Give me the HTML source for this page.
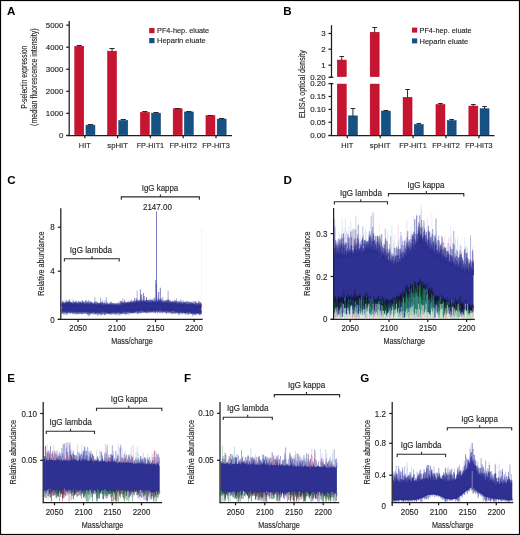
<!DOCTYPE html>
<html><head><meta charset="utf-8"><style>
html,body{margin:0;padding:0;background:#fff;}
svg{display:block;will-change:transform;font-family:"Liberation Sans",sans-serif;}
</style></head><body>
<svg width="520" height="535" viewBox="0 0 520 535">
<rect x="0" y="0" width="520" height="535" fill="#fff"/>
<text x="7.0" y="15.3" font-size="11.6" font-weight="bold" fill="#000">A</text>
<line x1="69.20" y1="21.00" x2="69.20" y2="136.00" stroke="#1e1e1e" stroke-width="1.25"/>
<line x1="66.20" y1="135.40" x2="69.20" y2="135.40" stroke="#1e1e1e" stroke-width="1.25"/>
<text x="63.3" y="138.20000000000002" font-size="7.9" text-anchor="end" fill="#262626" stroke="#262626" stroke-width="0.14">0</text>
<line x1="66.20" y1="113.35" x2="69.20" y2="113.35" stroke="#1e1e1e" stroke-width="1.25"/>
<text x="63.3" y="116.15" font-size="7.9" text-anchor="end" textLength="17.5" lengthAdjust="spacingAndGlyphs" fill="#262626" stroke="#262626" stroke-width="0.14">1000</text>
<line x1="66.20" y1="91.30" x2="69.20" y2="91.30" stroke="#1e1e1e" stroke-width="1.25"/>
<text x="63.3" y="94.10000000000001" font-size="7.9" text-anchor="end" textLength="17.5" lengthAdjust="spacingAndGlyphs" fill="#262626" stroke="#262626" stroke-width="0.14">2000</text>
<line x1="66.20" y1="69.25" x2="69.20" y2="69.25" stroke="#1e1e1e" stroke-width="1.25"/>
<text x="63.3" y="72.05" font-size="7.9" text-anchor="end" textLength="17.5" lengthAdjust="spacingAndGlyphs" fill="#262626" stroke="#262626" stroke-width="0.14">3000</text>
<line x1="66.20" y1="47.20" x2="69.20" y2="47.20" stroke="#1e1e1e" stroke-width="1.25"/>
<text x="63.3" y="50.0" font-size="7.9" text-anchor="end" textLength="17.5" lengthAdjust="spacingAndGlyphs" fill="#262626" stroke="#262626" stroke-width="0.14">4000</text>
<line x1="66.20" y1="25.15" x2="69.20" y2="25.15" stroke="#1e1e1e" stroke-width="1.25"/>
<text x="63.3" y="27.950000000000006" font-size="7.9" text-anchor="end" textLength="17.5" lengthAdjust="spacingAndGlyphs" fill="#262626" stroke="#262626" stroke-width="0.14">5000</text>
<line x1="66.20" y1="135.50" x2="232.00" y2="135.50" stroke="#1e1e1e" stroke-width="1.25"/>
<rect x="74.75" y="46.25" width="9.00" height="88.50" fill="#c61530" stroke="#b8001c" stroke-width="0.5"/>
<rect x="85.95" y="125.15" width="9.00" height="9.60" fill="#165184" stroke="#063f72" stroke-width="0.5"/>
<path d="M76.65 45.50H81.85M79.25 45.50V46.50" stroke="#2a2a2a" stroke-width="1" fill="none"/>
<path d="M87.85 124.50H93.05M90.45 124.50V125.40" stroke="#2a2a2a" stroke-width="1" fill="none"/>
<line x1="84.80" y1="135.50" x2="84.80" y2="138.20" stroke="#1e1e1e" stroke-width="1.25"/>
<text x="84.8" y="147.8" font-size="8" text-anchor="middle" textLength="11.9" lengthAdjust="spacingAndGlyphs" fill="#262626" stroke="#262626" stroke-width="0.14">HIT</text>
<rect x="107.55" y="51.15" width="9.00" height="83.60" fill="#c61530" stroke="#b8001c" stroke-width="0.5"/>
<rect x="118.75" y="120.45" width="9.00" height="14.30" fill="#165184" stroke="#063f72" stroke-width="0.5"/>
<path d="M109.45 48.50H114.65M112.05 48.50V51.40" stroke="#2a2a2a" stroke-width="1" fill="none"/>
<path d="M120.65 119.50H125.85M123.25 119.50V120.70" stroke="#2a2a2a" stroke-width="1" fill="none"/>
<line x1="117.60" y1="135.50" x2="117.60" y2="138.20" stroke="#1e1e1e" stroke-width="1.25"/>
<text x="117.6" y="147.8" font-size="8" text-anchor="middle" textLength="20.7" lengthAdjust="spacingAndGlyphs" fill="#262626" stroke="#262626" stroke-width="0.14">spHIT</text>
<rect x="140.35" y="112.35" width="9.00" height="22.40" fill="#c61530" stroke="#b8001c" stroke-width="0.5"/>
<rect x="151.55" y="113.15" width="9.00" height="21.60" fill="#165184" stroke="#063f72" stroke-width="0.5"/>
<path d="M142.25 111.50H147.45M144.85 111.50V112.60" stroke="#2a2a2a" stroke-width="1" fill="none"/>
<path d="M153.45 112.50H158.65M156.05 112.50V113.40" stroke="#2a2a2a" stroke-width="1" fill="none"/>
<line x1="150.40" y1="135.50" x2="150.40" y2="138.20" stroke="#1e1e1e" stroke-width="1.25"/>
<text x="150.39999999999998" y="147.8" font-size="8" text-anchor="middle" textLength="27.5" lengthAdjust="spacingAndGlyphs" fill="#262626" stroke="#262626" stroke-width="0.14">FP-HIT1</text>
<rect x="173.15" y="108.75" width="9.00" height="26.00" fill="#c61530" stroke="#b8001c" stroke-width="0.5"/>
<rect x="184.35" y="111.95" width="9.00" height="22.80" fill="#165184" stroke="#063f72" stroke-width="0.5"/>
<path d="M175.05 108.50H180.25M177.65 108.50V109.00" stroke="#2a2a2a" stroke-width="1" fill="none"/>
<path d="M186.25 111.50H191.45M188.85 111.50V112.20" stroke="#2a2a2a" stroke-width="1" fill="none"/>
<line x1="183.20" y1="135.50" x2="183.20" y2="138.20" stroke="#1e1e1e" stroke-width="1.25"/>
<text x="183.2" y="147.8" font-size="8" text-anchor="middle" textLength="27.5" lengthAdjust="spacingAndGlyphs" fill="#262626" stroke="#262626" stroke-width="0.14">FP-HIT2</text>
<rect x="205.95" y="115.65" width="9.00" height="19.10" fill="#c61530" stroke="#b8001c" stroke-width="0.5"/>
<rect x="217.15" y="119.05" width="9.00" height="15.70" fill="#165184" stroke="#063f72" stroke-width="0.5"/>
<path d="M207.85 115.50H213.05M210.45 115.50V115.90" stroke="#2a2a2a" stroke-width="1" fill="none"/>
<path d="M219.05 118.50H224.25M221.65 118.50V119.30" stroke="#2a2a2a" stroke-width="1" fill="none"/>
<line x1="216.00" y1="135.50" x2="216.00" y2="138.20" stroke="#1e1e1e" stroke-width="1.25"/>
<text x="216.0" y="147.8" font-size="8" text-anchor="middle" textLength="27.5" lengthAdjust="spacingAndGlyphs" fill="#262626" stroke="#262626" stroke-width="0.14">FP-HIT3</text>
<rect x="149.20" y="28.00" width="5.30" height="5.20" fill="#c61530"/>
<rect x="149.20" y="38.00" width="5.30" height="5.20" fill="#165184"/>
<text x="157" y="33.2" font-size="7.6" textLength="52.2" lengthAdjust="spacingAndGlyphs" fill="#262626" stroke="#262626" stroke-width="0.14">PF4-hep. eluate</text>
<text x="157" y="43.4" font-size="7.6" textLength="48.8" lengthAdjust="spacingAndGlyphs" fill="#262626" stroke="#262626" stroke-width="0.14">Heparin eluate</text>
<text transform="translate(27.0,77.2) rotate(-90)" font-size="8.2" text-anchor="middle" textLength="63" lengthAdjust="spacingAndGlyphs" fill="#262626" stroke="#262626" stroke-width="0.14">P-selectin expression</text>
<text transform="translate(37.2,77.2) rotate(-90)" font-size="8.2" text-anchor="middle" textLength="97.4" lengthAdjust="spacingAndGlyphs" fill="#262626" stroke="#262626" stroke-width="0.14">(median fluorescence intensity)</text>
<text x="283.2" y="15.2" font-size="11.6" font-weight="bold" fill="#000">B</text>
<line x1="331.50" y1="25.20" x2="331.50" y2="77.30" stroke="#1e1e1e" stroke-width="1.25"/>
<line x1="331.50" y1="83.60" x2="331.50" y2="136.00" stroke="#1e1e1e" stroke-width="1.25"/>
<line x1="329.60" y1="77.30" x2="333.40" y2="77.30" stroke="#1e1e1e" stroke-width="1.25"/>
<line x1="329.60" y1="83.60" x2="333.40" y2="83.60" stroke="#1e1e1e" stroke-width="1.25"/>
<line x1="328.50" y1="33.50" x2="331.50" y2="33.50" stroke="#1e1e1e" stroke-width="1.25"/>
<text x="325.6" y="36.3" font-size="7.9" text-anchor="end" fill="#262626" stroke="#262626" stroke-width="0.14">3</text>
<line x1="328.50" y1="49.20" x2="331.50" y2="49.20" stroke="#1e1e1e" stroke-width="1.25"/>
<text x="325.6" y="52.0" font-size="7.9" text-anchor="end" fill="#262626" stroke="#262626" stroke-width="0.14">2</text>
<line x1="328.50" y1="65.20" x2="331.50" y2="65.20" stroke="#1e1e1e" stroke-width="1.25"/>
<text x="325.6" y="68.0" font-size="7.9" text-anchor="end" fill="#262626" stroke="#262626" stroke-width="0.14">1</text>
<line x1="328.50" y1="77.30" x2="331.50" y2="77.30" stroke="#1e1e1e" stroke-width="1.25"/>
<text x="325.6" y="80.1" font-size="7.9" text-anchor="end" fill="#262626" stroke="#262626" stroke-width="0.14">0.20</text>
<line x1="328.50" y1="83.60" x2="331.50" y2="83.60" stroke="#1e1e1e" stroke-width="1.25"/>
<text x="325.6" y="86.39999999999999" font-size="7.9" text-anchor="end" fill="#262626" stroke="#262626" stroke-width="0.14">0.20</text>
<line x1="328.50" y1="96.50" x2="331.50" y2="96.50" stroke="#1e1e1e" stroke-width="1.25"/>
<text x="325.6" y="99.3" font-size="7.9" text-anchor="end" fill="#262626" stroke="#262626" stroke-width="0.14">0.15</text>
<line x1="328.50" y1="109.40" x2="331.50" y2="109.40" stroke="#1e1e1e" stroke-width="1.25"/>
<text x="325.6" y="112.2" font-size="7.9" text-anchor="end" fill="#262626" stroke="#262626" stroke-width="0.14">0.10</text>
<line x1="328.50" y1="122.30" x2="331.50" y2="122.30" stroke="#1e1e1e" stroke-width="1.25"/>
<text x="325.6" y="125.1" font-size="7.9" text-anchor="end" fill="#262626" stroke="#262626" stroke-width="0.14">0.05</text>
<line x1="328.50" y1="135.40" x2="331.50" y2="135.40" stroke="#1e1e1e" stroke-width="1.25"/>
<text x="325.6" y="138.20000000000002" font-size="7.9" text-anchor="end" fill="#262626" stroke="#262626" stroke-width="0.14">0.00</text>
<line x1="328.50" y1="135.60" x2="494.50" y2="135.60" stroke="#1e1e1e" stroke-width="1.25"/>
<rect x="337.25" y="60.05" width="9.00" height="16.60" fill="#c61530" stroke="#b8001c" stroke-width="0.5"/>
<rect x="337.25" y="84.05" width="9.00" height="50.90" fill="#c61530" stroke="#b8001c" stroke-width="0.5"/>
<rect x="348.45" y="115.85" width="9.00" height="19.10" fill="#165184" stroke="#063f72" stroke-width="0.5"/>
<path d="M339.45 56.50H344.05M341.75 56.50V60.30" stroke="#2a2a2a" stroke-width="1" fill="none"/>
<path d="M350.65 108.50H355.25M352.95 108.50V116.10" stroke="#2a2a2a" stroke-width="1" fill="none"/>
<line x1="347.30" y1="135.60" x2="347.30" y2="138.20" stroke="#1e1e1e" stroke-width="1.25"/>
<text x="347.3" y="147.8" font-size="8" text-anchor="middle" textLength="11.9" lengthAdjust="spacingAndGlyphs" fill="#262626" stroke="#262626" stroke-width="0.14">HIT</text>
<rect x="370.15" y="32.25" width="9.00" height="44.40" fill="#c61530" stroke="#b8001c" stroke-width="0.5"/>
<rect x="370.15" y="84.05" width="9.00" height="50.90" fill="#c61530" stroke="#b8001c" stroke-width="0.5"/>
<rect x="381.35" y="111.05" width="9.00" height="23.90" fill="#165184" stroke="#063f72" stroke-width="0.5"/>
<path d="M372.35 27.50H376.95M374.65 27.50V32.50" stroke="#2a2a2a" stroke-width="1" fill="none"/>
<path d="M383.55 110.50H388.15M385.85 110.50V111.30" stroke="#2a2a2a" stroke-width="1" fill="none"/>
<line x1="380.20" y1="135.60" x2="380.20" y2="138.20" stroke="#1e1e1e" stroke-width="1.25"/>
<text x="380.2" y="147.8" font-size="8" text-anchor="middle" textLength="20.7" lengthAdjust="spacingAndGlyphs" fill="#262626" stroke="#262626" stroke-width="0.14">spHIT</text>
<rect x="403.05" y="97.25" width="9.00" height="37.70" fill="#c61530" stroke="#b8001c" stroke-width="0.5"/>
<rect x="414.25" y="124.45" width="9.00" height="10.50" fill="#165184" stroke="#063f72" stroke-width="0.5"/>
<path d="M405.25 89.50H409.85M407.55 89.50V97.50" stroke="#2a2a2a" stroke-width="1" fill="none"/>
<path d="M416.45 123.50H421.05M418.75 123.50V124.70" stroke="#2a2a2a" stroke-width="1" fill="none"/>
<line x1="413.10" y1="135.60" x2="413.10" y2="138.20" stroke="#1e1e1e" stroke-width="1.25"/>
<text x="413.1" y="147.8" font-size="8" text-anchor="middle" textLength="27.5" lengthAdjust="spacingAndGlyphs" fill="#262626" stroke="#262626" stroke-width="0.14">FP-HIT1</text>
<rect x="435.95" y="104.45" width="9.00" height="30.50" fill="#c61530" stroke="#b8001c" stroke-width="0.5"/>
<rect x="447.15" y="120.55" width="9.00" height="14.40" fill="#165184" stroke="#063f72" stroke-width="0.5"/>
<path d="M438.15 103.50H442.75M440.45 103.50V104.70" stroke="#2a2a2a" stroke-width="1" fill="none"/>
<path d="M449.35 119.50H453.95M451.65 119.50V120.80" stroke="#2a2a2a" stroke-width="1" fill="none"/>
<line x1="446.00" y1="135.60" x2="446.00" y2="138.20" stroke="#1e1e1e" stroke-width="1.25"/>
<text x="446.0" y="147.8" font-size="8" text-anchor="middle" textLength="27.5" lengthAdjust="spacingAndGlyphs" fill="#262626" stroke="#262626" stroke-width="0.14">FP-HIT2</text>
<rect x="468.85" y="106.05" width="9.00" height="28.90" fill="#c61530" stroke="#b8001c" stroke-width="0.5"/>
<rect x="480.05" y="108.75" width="9.00" height="26.20" fill="#165184" stroke="#063f72" stroke-width="0.5"/>
<path d="M471.05 104.50H475.65M473.35 104.50V106.30" stroke="#2a2a2a" stroke-width="1" fill="none"/>
<path d="M482.25 106.50H486.85M484.55 106.50V109.00" stroke="#2a2a2a" stroke-width="1" fill="none"/>
<line x1="478.90" y1="135.60" x2="478.90" y2="138.20" stroke="#1e1e1e" stroke-width="1.25"/>
<text x="478.9" y="147.8" font-size="8" text-anchor="middle" textLength="27.5" lengthAdjust="spacingAndGlyphs" fill="#262626" stroke="#262626" stroke-width="0.14">FP-HIT3</text>
<rect x="412.00" y="27.60" width="5.20" height="5.00" fill="#c61530"/>
<rect x="412.00" y="38.40" width="5.20" height="5.00" fill="#165184"/>
<text x="419.5" y="33.2" font-size="7.6" textLength="52.2" lengthAdjust="spacingAndGlyphs" fill="#262626" stroke="#262626" stroke-width="0.14">PF4-hep. eluate</text>
<text x="419.5" y="44.0" font-size="7.6" textLength="48.8" lengthAdjust="spacingAndGlyphs" fill="#262626" stroke="#262626" stroke-width="0.14">Heparin eluate</text>
<text transform="translate(304.6,84.0) rotate(-90)" font-size="8.4" text-anchor="middle" textLength="68" lengthAdjust="spacingAndGlyphs" fill="#262626" stroke="#262626" stroke-width="0.14">ELISA optical density</text>
<text x="7.3" y="184.2" font-size="11.6" font-weight="bold" fill="#000">C</text>
<line x1="60.80" y1="208.30" x2="60.80" y2="319.90" stroke="#1e1e1e" stroke-width="1.25"/>
<line x1="57.80" y1="319.40" x2="202.70" y2="319.40" stroke="#1e1e1e" stroke-width="1.25"/>
<line x1="57.80" y1="227.20" x2="60.80" y2="227.20" stroke="#1e1e1e" stroke-width="1.25"/>
<text x="54.599999999999994" y="230.29999999999998" font-size="8.8" text-anchor="end" textLength="4.45" lengthAdjust="spacingAndGlyphs" fill="#262626" stroke="#262626" stroke-width="0.14">8</text>
<line x1="57.80" y1="271.20" x2="60.80" y2="271.20" stroke="#1e1e1e" stroke-width="1.25"/>
<text x="54.599999999999994" y="274.3" font-size="8.8" text-anchor="end" textLength="4.45" lengthAdjust="spacingAndGlyphs" fill="#262626" stroke="#262626" stroke-width="0.14">4</text>
<line x1="57.80" y1="319.40" x2="60.80" y2="319.40" stroke="#1e1e1e" stroke-width="1.25"/>
<text x="54.599999999999994" y="322.5" font-size="8.8" text-anchor="end" textLength="4.45" lengthAdjust="spacingAndGlyphs" fill="#262626" stroke="#262626" stroke-width="0.14">0</text>
<line x1="78.10" y1="319.40" x2="78.10" y2="322.00" stroke="#1e1e1e" stroke-width="1.25"/>
<text x="78.1" y="331.2" font-size="9" text-anchor="middle" textLength="17.6" lengthAdjust="spacingAndGlyphs" fill="#262626" stroke="#262626" stroke-width="0.14">2050</text>
<line x1="116.90" y1="319.40" x2="116.90" y2="322.00" stroke="#1e1e1e" stroke-width="1.25"/>
<text x="116.9" y="331.2" font-size="9" text-anchor="middle" textLength="17.6" lengthAdjust="spacingAndGlyphs" fill="#262626" stroke="#262626" stroke-width="0.14">2100</text>
<line x1="155.50" y1="319.40" x2="155.50" y2="322.00" stroke="#1e1e1e" stroke-width="1.25"/>
<text x="155.5" y="331.2" font-size="9" text-anchor="middle" textLength="17.6" lengthAdjust="spacingAndGlyphs" fill="#262626" stroke="#262626" stroke-width="0.14">2150</text>
<line x1="194.10" y1="319.40" x2="194.10" y2="322.00" stroke="#1e1e1e" stroke-width="1.25"/>
<text x="194.1" y="331.2" font-size="9" text-anchor="middle" textLength="17.6" lengthAdjust="spacingAndGlyphs" fill="#262626" stroke="#262626" stroke-width="0.14">2200</text>
<text x="132" y="344.09999999999997" font-size="9.6" text-anchor="middle" textLength="41.6" lengthAdjust="spacingAndGlyphs" fill="#262626" stroke="#262626" stroke-width="0.14">Mass/charge</text>
<text transform="translate(43.9,263.6) rotate(-90)" font-size="8.8" text-anchor="middle" textLength="64.5" lengthAdjust="spacingAndGlyphs" fill="#262626" stroke="#262626" stroke-width="0.14">Relative abundance</text>
<path d="M64.40 261.60V258.80H119.20V261.60M92.00 258.80V256.30" fill="none" stroke="#2a2a2a" stroke-width="1.1"/>
<text x="91.0" y="253.1" font-size="8.2" text-anchor="middle" textLength="42.3" lengthAdjust="spacingAndGlyphs" fill="#262626" stroke="#262626" stroke-width="0.14">IgG lambda</text>
<path d="M121.30 199.70V196.90H199.40V199.70M160.40 196.90V194.40" fill="none" stroke="#2a2a2a" stroke-width="1.1"/>
<text x="160.0" y="191.0" font-size="8.2" text-anchor="middle" textLength="36.6" lengthAdjust="spacingAndGlyphs" fill="#262626" stroke="#262626" stroke-width="0.14">IgG kappa</text>
<text x="157.4" y="209.8" font-size="8.7" text-anchor="middle" textLength="28.9" lengthAdjust="spacingAndGlyphs" fill="#262626" stroke="#262626" stroke-width="0.14">2147.00</text>
<polygon points="61.60,303.7 61.90,303.6 62.20,303.4 62.50,303.2 62.80,303.0 63.10,303.2 63.40,303.7 63.70,303.8 64.00,303.6 64.30,303.4 64.60,303.6 64.90,303.8 65.20,303.4 65.50,303.3 65.80,303.5 66.10,303.3 66.40,303.2 66.70,302.5 67.00,302.6 67.30,302.2 67.60,302.6 67.90,302.6 68.20,303.2 68.50,303.3 68.80,303.5 69.10,302.8 69.40,302.6 69.70,302.7 70.00,303.3 70.30,303.1 70.60,303.0 70.90,302.7 71.20,302.9 71.50,303.2 71.80,303.3 72.10,303.5 72.40,303.4 72.70,303.5 73.00,303.5 73.30,303.3 73.60,303.4 73.90,303.1 74.20,303.1 74.50,303.4 74.80,303.4 75.10,303.6 75.40,303.2 75.70,303.5 76.00,303.7 76.30,303.9 76.60,303.8 76.90,303.3 77.20,303.2 77.50,303.5 77.80,303.6 78.10,303.4 78.40,303.7 78.70,303.9 79.00,303.7 79.30,303.6 79.60,303.1 79.90,303.3 80.20,302.9 80.50,302.9 80.80,302.8 81.10,303.4 81.40,303.9 81.70,303.6 82.00,303.2 82.30,303.1 82.60,302.9 82.90,303.0 83.20,302.8 83.50,303.7 83.80,304.0 84.10,304.0 84.40,303.6 84.70,303.4 85.00,303.9 85.30,303.9 85.60,303.9 85.90,303.6 86.20,303.7 86.50,303.7 86.80,303.4 87.10,303.4 87.40,303.4 87.70,304.0 88.00,304.2 88.30,304.3 88.60,304.2 88.90,304.0 89.20,304.3 89.50,304.1 89.80,304.4 90.10,303.8 90.40,303.9 90.70,303.3 91.00,303.1 91.30,303.0 91.60,303.2 91.90,303.8 92.20,304.5 92.50,304.5 92.80,304.3 93.10,303.8 93.40,304.2 93.70,304.3 94.00,304.2 94.30,304.3 94.60,304.5 94.90,304.3 95.20,304.1 95.50,304.0 95.80,304.0 96.10,304.1 96.40,303.9 96.70,304.5 97.00,304.5 97.30,304.8 97.60,304.4 97.90,304.3 98.20,303.8 98.50,303.7 98.80,303.8 99.10,303.8 99.40,304.3 99.70,303.8 100.00,304.6 100.30,304.1 100.60,304.8 100.90,304.6 101.20,304.5 101.50,304.6 101.80,304.9 102.10,305.3 102.40,304.9 102.70,304.5 103.00,304.3 103.30,304.6 103.60,304.5 103.90,304.8 104.20,304.3 104.50,304.3 104.80,304.0 105.10,304.5 105.40,304.6 105.70,305.2 106.00,304.9 106.30,304.7 106.60,304.4 106.90,304.3 107.20,304.5 107.50,304.4 107.80,304.5 108.10,304.2 108.40,304.0 108.70,304.6 109.00,304.7 109.30,304.7 109.60,304.3 109.90,304.9 110.20,304.8 110.50,304.7 110.80,304.1 111.10,304.0 111.40,304.3 111.70,304.5 112.00,304.9 112.30,304.6 112.60,304.7 112.90,304.5 113.20,304.7 113.50,304.3 113.80,304.1 114.10,304.5 114.40,304.7 114.70,305.1 115.00,304.7 115.30,304.7 115.60,304.5 115.90,304.7 116.20,304.7 116.50,304.8 116.80,304.7 117.10,305.1 117.40,305.3 117.70,305.4 118.00,304.9 118.30,304.4 118.60,304.5 118.90,304.8 119.20,305.1 119.50,304.9 119.80,304.9 120.10,305.1 120.40,305.1 120.70,304.8 121.00,304.9 121.30,304.3 121.60,304.6 121.90,304.3 122.20,304.8 122.50,305.0 122.80,305.2 123.10,304.7 123.40,303.7 123.70,303.5 124.00,303.5 124.30,303.9 124.60,303.8 124.90,303.6 125.20,303.0 125.50,302.8 125.80,303.2 126.10,303.7 126.40,303.6 126.70,303.3 127.00,302.9 127.30,302.8 127.60,302.8 127.90,302.7 128.20,302.8 128.50,303.0 128.80,303.5 129.10,303.1 129.40,302.9 129.70,302.5 130.00,302.4 130.30,302.6 130.60,302.6 130.90,302.9 131.20,302.9 131.50,303.6 131.80,303.1 132.10,303.2 132.40,302.6 132.70,303.0 133.00,302.3 133.30,302.2 133.60,302.3 133.90,302.6 134.20,302.7 134.50,302.4 134.80,302.7 135.10,302.7 135.40,302.1 135.70,301.6 136.00,301.1 136.30,300.7 136.60,300.7 136.90,301.6 137.20,302.4 137.50,302.2 137.80,301.5 138.10,301.8 138.40,302.1 138.70,302.3 139.00,302.0 139.30,301.9 139.60,302.1 139.90,302.2 140.20,302.2 140.50,301.7 140.80,301.7 141.10,301.5 141.40,302.0 141.70,301.6 142.00,301.7 142.30,301.4 142.60,301.4 142.90,301.9 143.20,302.3 143.50,302.5 143.80,302.3 144.10,302.0 144.40,301.4 144.70,301.3 145.00,301.2 145.30,301.9 145.60,301.5 145.90,301.5 146.20,301.4 146.50,302.0 146.80,302.1 147.10,302.2 147.40,302.3 147.70,302.1 148.00,302.0 148.30,301.1 148.60,301.6 148.90,302.0 149.20,302.7 149.50,302.5 149.80,302.2 150.10,302.1 150.40,301.8 150.70,301.7 151.00,301.7 151.30,302.2 151.60,302.4 151.90,302.3 152.20,301.8 152.50,301.5 152.80,301.9 153.10,302.2 153.40,302.4 153.70,301.9 154.00,301.4 154.30,301.4 154.60,301.7 154.90,301.9 155.20,301.9 155.50,301.6 155.80,301.7 156.10,301.4 156.40,301.4 156.70,301.1 157.00,301.7 157.30,301.6 157.60,302.0 157.90,302.1 158.20,302.3 158.50,302.0 158.80,301.6 159.10,301.7 159.40,301.6 159.70,301.7 160.00,302.2 160.30,302.4 160.60,302.3 160.90,301.5 161.20,301.7 161.50,301.4 161.80,301.4 162.10,301.7 162.40,301.8 162.70,302.4 163.00,302.5 163.30,302.8 163.60,302.7 163.90,302.8 164.20,302.8 164.50,302.5 164.80,301.7 165.10,301.7 165.40,302.3 165.70,302.9 166.00,302.7 166.30,302.1 166.60,301.8 166.90,302.1 167.20,302.3 167.50,302.5 167.80,302.5 168.10,302.5 168.40,302.5 168.70,302.5 169.00,302.6 169.30,302.8 169.60,303.2 169.90,303.4 170.20,303.3 170.50,302.4 170.80,302.4 171.10,301.9 171.40,302.0 171.70,302.1 172.00,302.9 172.30,303.2 172.60,302.6 172.90,302.3 173.20,302.2 173.50,302.8 173.80,303.5 174.10,303.8 174.40,303.5 174.70,302.6 175.00,302.6 175.30,302.7 175.60,302.8 175.90,302.8 176.20,302.6 176.50,303.2 176.80,303.5 177.10,304.1 177.40,303.7 177.70,303.6 178.00,303.3 178.30,303.4 178.60,303.2 178.90,302.9 179.20,302.6 179.50,303.0 179.80,303.3 180.10,303.7 180.40,303.8 180.70,303.4 181.00,303.2 181.30,303.0 181.60,303.5 181.90,303.7 182.20,303.9 182.50,303.9 182.80,303.7 183.10,303.2 183.40,303.4 183.70,303.8 184.00,303.6 184.30,303.7 184.60,303.8 184.90,304.7 185.20,304.2 185.50,304.0 185.80,303.4 186.10,304.2 186.40,304.2 186.70,304.9 187.00,304.1 187.30,304.2 187.60,303.4 187.90,303.5 188.20,303.7 188.50,303.9 188.80,304.3 189.10,304.1 189.40,304.2 189.70,303.8 190.00,303.6 190.30,303.9 190.60,303.9 190.90,303.8 191.20,303.8 191.50,303.7 191.80,303.5 192.10,303.6 192.40,304.1 192.70,304.1 193.00,304.1 193.30,303.8 193.60,303.9 193.90,304.2 194.20,304.2 194.50,304.9 194.80,304.5 195.10,304.7 195.40,304.3 195.70,304.3 196.00,304.4 196.30,304.4 196.60,304.8 196.90,304.7 197.20,304.4 197.50,304.3 197.80,304.3 198.10,304.9 198.40,304.7 198.70,304.7 199.00,304.0 199.30,304.4 199.60,304.2 199.90,304.2 200.20,304.0 200.50,304.6 200.80,304.7 201.10,304.4 201.40,304.1 201.40,313.3 201.10,313.2 200.80,313.1 200.50,313.1 200.20,313.5 199.90,313.1 199.60,313.3 199.30,312.9 199.00,313.2 198.70,313.3 198.40,313.5 198.10,313.4 197.80,313.6 197.50,313.0 197.20,312.6 196.90,312.5 196.60,313.0 196.30,313.4 196.00,313.3 195.70,313.1 195.40,312.9 195.10,313.2 194.80,313.3 194.50,313.6 194.20,312.8 193.90,313.2 193.60,313.0 193.30,313.3 193.00,313.1 192.70,313.0 192.40,313.5 192.10,313.9 191.80,314.2 191.50,313.4 191.20,312.8 190.90,312.2 190.60,312.6 190.30,312.5 190.00,312.5 189.70,312.6 189.40,312.6 189.10,312.5 188.80,312.3 188.50,312.3 188.20,312.5 187.90,312.6 187.60,312.4 187.30,312.7 187.00,312.7 186.70,312.8 186.40,312.3 186.10,312.6 185.80,312.7 185.50,313.0 185.20,312.7 184.90,313.2 184.60,313.3 184.30,312.8 184.00,312.5 183.70,312.3 183.40,312.9 183.10,312.7 182.80,312.6 182.50,312.2 182.20,311.7 181.90,311.6 181.60,311.9 181.30,312.4 181.00,312.5 180.70,312.1 180.40,312.2 180.10,312.8 179.80,312.9 179.50,312.5 179.20,312.1 178.90,312.0 178.60,312.4 178.30,312.2 178.00,312.7 177.70,312.2 177.40,311.8 177.10,311.3 176.80,311.6 176.50,311.7 176.20,311.8 175.90,311.7 175.60,312.2 175.30,312.0 175.00,311.4 174.70,311.2 174.40,311.3 174.10,311.6 173.80,311.3 173.50,310.7 173.20,310.6 172.90,310.8 172.60,311.0 172.30,311.1 172.00,311.2 171.70,311.2 171.40,311.4 171.10,311.3 170.80,311.4 170.50,310.9 170.20,311.8 169.90,312.2 169.60,312.4 169.30,311.5 169.00,311.4 168.70,311.2 168.40,311.4 168.10,311.1 167.80,311.2 167.50,311.1 167.20,310.8 166.90,310.5 166.60,310.6 166.30,311.4 166.00,311.4 165.70,311.4 165.40,310.9 165.10,311.1 164.80,310.7 164.50,310.9 164.20,311.0 163.90,311.5 163.60,311.6 163.30,311.5 163.00,311.6 162.70,311.3 162.40,311.3 162.10,311.1 161.80,311.3 161.50,310.6 161.20,310.5 160.90,310.4 160.60,310.6 160.30,310.5 160.00,310.1 159.70,310.1 159.40,310.3 159.10,310.9 158.80,311.4 158.50,311.5 158.20,311.0 157.90,310.5 157.60,310.3 157.30,310.0 157.00,310.1 156.70,310.4 156.40,310.7 156.10,310.9 155.80,311.0 155.50,310.7 155.20,311.2 154.90,311.2 154.60,311.8 154.30,311.3 154.00,310.9 153.70,310.3 153.40,310.8 153.10,310.9 152.80,311.4 152.50,310.8 152.20,311.4 151.90,311.4 151.60,311.7 151.30,311.5 151.00,311.4 150.70,311.1 150.40,311.0 150.10,311.2 149.80,311.5 149.50,311.3 149.20,311.7 148.90,311.7 148.60,311.5 148.30,310.9 148.00,310.8 147.70,311.2 147.40,311.1 147.10,311.2 146.80,311.2 146.50,311.6 146.20,311.5 145.90,311.7 145.60,311.7 145.30,312.4 145.00,312.7 144.70,312.3 144.40,311.4 144.10,310.8 143.80,310.6 143.50,311.1 143.20,311.2 142.90,311.3 142.60,311.4 142.30,311.1 142.00,311.2 141.70,310.6 141.40,311.0 141.10,310.8 140.80,311.1 140.50,310.8 140.20,310.5 139.90,310.8 139.60,311.6 139.30,312.3 139.00,312.4 138.70,312.2 138.40,311.4 138.10,311.2 137.80,310.8 137.50,311.3 137.20,311.2 136.90,311.5 136.60,311.1 136.30,311.3 136.00,311.3 135.70,311.9 135.40,312.0 135.10,312.0 134.80,311.3 134.50,311.6 134.20,311.6 133.90,312.6 133.60,312.9 133.30,312.6 133.00,312.4 132.70,312.0 132.40,312.5 132.10,312.2 131.80,312.1 131.50,312.3 131.20,312.6 130.90,312.6 130.60,312.4 130.30,312.9 130.00,312.8 129.70,312.3 129.40,311.2 129.10,311.5 128.80,311.8 128.50,312.1 128.20,311.7 127.90,311.8 127.60,312.2 127.30,312.1 127.00,312.1 126.70,311.5 126.40,312.0 126.10,312.0 125.80,312.4 125.50,312.3 125.20,312.4 124.90,312.0 124.60,312.2 124.30,311.8 124.00,311.6 123.70,311.2 123.40,311.7 123.10,312.2 122.80,312.2 122.50,312.1 122.20,312.4 121.90,312.8 121.60,312.8 121.30,313.0 121.00,313.5 120.70,313.8 120.40,313.2 120.10,312.4 119.80,312.4 119.50,312.4 119.20,312.6 118.90,312.2 118.60,312.3 118.30,312.5 118.00,312.6 117.70,312.5 117.40,312.2 117.10,312.1 116.80,312.3 116.50,312.5 116.20,313.0 115.90,312.6 115.60,312.8 115.30,312.7 115.00,313.1 114.70,312.5 114.40,312.2 114.10,312.1 113.80,312.2 113.50,312.0 113.20,312.2 112.90,312.6 112.60,313.0 112.30,312.7 112.00,312.2 111.70,312.7 111.40,312.7 111.10,313.3 110.80,313.0 110.50,313.0 110.20,312.6 109.90,313.0 109.60,313.3 109.30,313.3 109.00,312.7 108.70,312.7 108.40,312.7 108.10,313.0 107.80,313.1 107.50,313.4 107.20,313.5 106.90,313.4 106.60,312.9 106.30,312.0 106.00,312.1 105.70,312.1 105.40,312.7 105.10,312.6 104.80,312.8 104.50,312.9 104.20,312.2 103.90,311.8 103.60,311.7 103.30,312.2 103.00,312.0 102.70,312.2 102.40,312.3 102.10,312.9 101.80,312.4 101.50,312.1 101.20,312.1 100.90,312.4 100.60,312.8 100.30,313.0 100.00,313.2 99.70,313.3 99.40,313.0 99.10,312.7 98.80,312.7 98.50,312.8 98.20,313.1 97.90,312.9 97.60,312.7 97.30,312.2 97.00,312.1 96.70,312.2 96.40,313.0 96.10,313.5 95.80,313.6 95.50,313.0 95.20,312.9 94.90,312.7 94.60,312.4 94.30,311.7 94.00,312.0 93.70,311.6 93.40,312.0 93.10,312.1 92.80,312.4 92.50,312.5 92.20,312.5 91.90,313.2 91.60,313.2 91.30,312.6 91.00,312.3 90.70,312.3 90.40,312.8 90.10,312.7 89.80,312.4 89.50,312.4 89.20,312.5 88.90,312.7 88.60,312.7 88.30,312.2 88.00,312.3 87.70,312.1 87.40,312.4 87.10,312.3 86.80,312.5 86.50,312.2 86.20,312.2 85.90,312.0 85.60,312.2 85.30,311.9 85.00,312.0 84.70,311.9 84.40,312.1 84.10,312.3 83.80,312.4 83.50,311.9 83.20,311.8 82.90,311.6 82.60,311.8 82.30,311.9 82.00,311.7 81.70,312.0 81.40,312.0 81.10,312.2 80.80,312.2 80.50,311.9 80.20,311.8 79.90,311.8 79.60,312.1 79.30,312.3 79.00,312.5 78.70,312.1 78.40,312.1 78.10,311.8 77.80,311.9 77.50,311.9 77.20,311.9 76.90,312.0 76.60,312.5 76.30,313.0 76.00,313.0 75.70,312.5 75.40,311.9 75.10,311.9 74.80,311.9 74.50,312.2 74.20,312.1 73.90,311.6 73.60,311.4 73.30,311.4 73.00,312.1 72.70,312.7 72.40,312.5 72.10,311.9 71.80,311.5 71.50,311.4 71.20,312.1 70.90,311.9 70.60,312.3 70.30,311.3 70.00,311.9 69.70,311.7 69.40,312.0 69.10,311.4 68.80,311.7 68.50,312.3 68.20,312.2 67.90,311.7 67.60,311.1 67.30,311.2 67.00,311.9 66.70,312.3 66.40,312.6 66.10,312.1 65.80,312.2 65.50,312.0 65.20,312.5 64.90,312.0 64.60,311.7 64.30,311.0 64.00,311.6 63.70,311.7 63.40,312.1 63.10,311.8 62.80,311.8 62.50,311.7 62.20,311.6 61.90,311.6 61.60,311.5" fill="#2e3192" fill-opacity="1.0"/>
<path d="M61.60 302.9V306.3M61.90 301.5V306.3M62.20 302.8V306.3M62.50 302.2V306.3M62.80 300.4V306.3M63.10 301.3V306.3M63.40 302.0V306.3M63.70 302.4V306.3M64.00 302.3V306.3M64.30 302.7V306.2M64.60 303.2V306.2M64.90 302.3V306.2M65.20 302.5V306.2M65.50 302.3V306.2M65.80 302.9V306.2M66.10 302.4V306.2M66.40 299.7V306.2M66.70 301.9V306.2M67.00 302.0V306.2M67.30 301.4V306.2M67.60 301.4V306.2M67.90 302.3V306.2M68.20 300.8V306.2M68.50 302.1V306.2M68.80 302.3V306.2M69.10 302.6V306.2M69.40 300.7V306.2M69.70 299.2V306.2M70.00 300.8V306.2M70.30 302.1V306.2M70.60 302.2V306.1M70.90 302.3V306.1M71.20 302.4V306.1M71.50 302.6V306.1M71.80 302.4V306.1M72.10 302.3V306.1M72.40 303.0V306.1M72.70 301.6V306.1M73.00 299.6V306.1M73.30 302.5V306.1M73.60 301.6V306.1M73.90 302.1V306.1M74.20 302.1V306.1M74.50 301.8V306.1M74.80 302.3V306.1M75.10 301.8V306.1M75.40 301.8V306.1M75.70 300.9V306.1M76.00 302.8V306.1M76.30 302.5V306.1M76.60 301.6V306.1M76.90 302.8V306.0M77.20 301.9V306.0M77.50 303.0V306.0M77.80 302.7V306.0M78.10 302.0V306.0M78.40 300.8V306.0M78.70 300.9V306.0M79.00 302.4V306.0M79.30 302.5V306.0M79.60 302.4V306.0M79.90 301.9V306.0M80.20 301.6V306.0M80.50 302.6V306.0M80.80 301.5V306.1M81.10 302.2V306.1M81.40 302.6V306.1M81.70 302.4V306.1M82.00 301.1V306.1M82.30 300.1V306.1M82.60 300.6V306.2M82.90 301.2V306.2M83.20 302.1V306.2M83.50 302.3V306.2M83.80 302.7V306.2M84.10 302.3V306.3M84.40 302.1V306.3M84.70 303.2V306.3M85.00 302.8V306.3M85.30 300.3V306.3M85.60 301.7V306.4M85.90 300.5V306.4M86.20 302.9V306.4M86.50 302.5V306.4M86.80 302.5V306.4M87.10 303.1V306.5M87.40 303.1V306.5M87.70 301.8V306.5M88.00 301.8V306.5M88.30 302.4V306.5M88.60 299.8V306.6M88.90 302.1V306.6M89.20 301.8V306.6M89.50 302.4V306.6M89.80 302.4V306.6M90.10 300.9V306.7M90.40 303.3V306.7M90.70 303.2V306.7M91.00 302.0V306.7M91.30 302.3V306.7M91.60 301.5V306.8M91.90 303.6V306.8M92.20 302.7V306.8M92.50 302.4V306.8M92.80 303.1V306.8M93.10 303.4V306.9M93.40 303.0V306.9M93.70 303.6V306.9M94.00 302.1V306.9M94.30 301.6V306.9M94.60 303.6V306.9M94.90 302.7V307.0M95.20 303.6V307.0M95.50 303.2V307.0M95.80 302.1V307.0M96.10 302.7V307.0M96.40 303.7V307.1M96.70 301.1V307.1M97.00 302.3V307.1M97.30 302.2V307.1M97.60 302.9V307.1M97.90 303.0V307.2M98.20 302.9V307.2M98.50 303.2V307.2M98.80 303.0V307.2M99.10 302.9V307.2M99.40 303.3V307.3M99.70 303.3V307.3M100.00 303.1V307.3M100.30 302.1V307.3M100.60 302.5V307.3M100.90 301.9V307.3M101.20 303.3V307.3M101.50 302.4V307.3M101.80 302.6V307.3M102.10 301.8V307.3M102.40 303.0V307.3M102.70 302.7V307.3M103.00 303.3V307.3M103.30 302.1V307.3M103.60 303.1V307.3M103.90 303.1V307.3M104.20 304.0V307.3M104.50 302.5V307.4M104.80 302.7V307.4M105.10 300.3V307.4M105.40 302.9V307.4M105.70 303.7V307.4M106.00 304.0V307.4M106.30 302.9V307.4M106.60 304.1V307.4M106.90 302.2V307.4M107.20 303.0V307.4M107.50 302.2V307.4M107.80 304.2V307.4M108.10 303.4V307.4M108.40 304.1V307.4M108.70 304.2V307.4M109.00 303.1V307.4M109.30 303.6V307.4M109.60 303.3V307.4M109.90 303.8V307.4M110.20 302.8V307.4M110.50 302.1V307.4M110.80 302.0V307.4M111.10 302.8V307.4M111.40 303.7V307.4M111.70 301.6V307.4M112.00 303.1V307.4M112.30 304.2V307.4M112.60 303.2V307.4M112.90 303.2V307.4M113.20 303.7V307.4M113.50 302.9V307.4M113.80 303.6V307.5M114.10 303.7V307.5M114.40 303.8V307.5M114.70 303.1V307.5M115.00 304.2V307.5M115.30 303.3V307.5M115.60 304.1V307.5M115.90 303.0V307.5M116.20 303.5V307.5M116.50 303.3V307.5M116.80 303.9V307.5M117.10 303.2V307.5M117.40 303.6V307.5M117.70 303.6V307.5M118.00 303.7V307.5M118.30 302.5V307.5M118.60 302.6V307.4M118.90 304.2V307.4M119.20 303.4V307.3M119.50 303.7V307.3M119.80 303.6V307.2M120.10 302.5V307.2M120.40 303.1V307.2M120.70 301.1V307.1M121.00 303.2V307.1M121.30 300.9V307.0M121.60 302.2V307.0M121.90 301.9V306.9M122.20 303.3V306.9M122.50 302.6V306.9M122.80 303.1V306.8M123.10 302.2V306.8M123.40 302.8V306.7M123.70 301.7V306.7M124.00 301.8V306.7M124.30 302.5V306.6M124.60 299.5V306.6M124.90 300.9V306.5M125.20 301.6V306.5M125.50 303.1V306.4M125.80 302.2V306.4M126.10 302.6V306.4M126.40 302.3V306.3M126.70 301.8V306.3M127.00 302.7V306.2M127.30 301.9V306.2M127.60 302.4V306.1M127.90 302.5V306.1M128.20 300.3V306.1M128.50 302.0V306.0M128.80 302.3V306.0M129.10 302.3V305.9M129.40 301.9V305.9M129.70 301.8V305.8M130.00 301.8V305.8M130.30 301.5V305.8M130.60 301.1V305.7M130.90 301.3V305.7M131.20 301.9V305.6M131.50 302.2V305.6M131.80 301.4V305.6M132.10 302.1V305.5M132.40 301.2V305.5M132.70 301.2V305.4M133.00 301.7V305.4M133.30 302.0V305.4M133.60 300.4V305.3M133.90 301.0V305.3M134.20 299.8V305.3M134.50 297.8V305.2M134.80 299.8V305.2M135.10 300.9V305.1M135.40 301.7V305.1M135.70 301.2V305.1M136.00 301.5V305.0M136.30 301.8V305.0M136.60 301.2V304.9M136.90 299.4V304.9M137.20 299.5V304.9M137.50 300.9V304.8M137.80 301.2V304.8M138.10 301.3V304.7M138.40 299.8V304.7M138.70 300.7V304.7M139.00 300.8V304.6M139.30 300.4V304.6M139.60 300.2V304.6M139.90 300.0V304.5M140.20 300.0V304.5M140.50 301.1V304.5M140.80 301.3V304.5M141.10 300.4V304.5M141.40 300.0V304.5M141.70 300.8V304.5M142.00 300.4V304.5M142.30 301.0V304.5M142.60 299.7V304.5M142.90 300.4V304.5M143.20 301.2V304.5M143.50 299.9V304.5M143.80 300.2V304.5M144.10 301.0V304.5M144.40 301.1V304.5M144.70 300.5V304.5M145.00 299.9V304.5M145.30 300.8V304.5M145.60 300.8V304.5M145.90 299.5V304.5M146.20 301.2V304.5M146.50 299.9V304.5M146.80 299.9V304.5M147.10 300.0V304.5M147.40 300.1V304.5M147.70 300.0V304.5M148.00 300.4V304.5M148.30 299.7V304.5M148.60 300.7V304.5M148.90 299.7V304.5M149.20 300.1V304.5M149.50 300.5V304.5M149.80 300.8V304.5M150.10 301.1V304.5M150.40 300.6V304.5M150.70 299.7V304.5M151.00 300.3V304.5M151.30 299.9V304.5M151.60 299.8V304.5M151.90 299.9V304.5M152.20 299.7V304.5M152.50 300.8V304.5M152.80 301.1V304.5M153.10 300.8V304.5M153.40 300.6V304.5M153.70 301.1V304.5M154.00 300.1V304.5M154.30 297.9V304.5M154.60 300.5V304.5M154.90 300.8V304.5M155.20 300.4V304.5M155.50 300.4V304.5M155.80 301.1V304.5M156.10 298.2V304.5M156.40 300.8V304.5M156.70 300.6V304.5M157.00 300.1V304.5M157.30 301.3V304.5M157.60 298.8V304.5M157.90 300.9V304.5M158.20 299.9V304.5M158.50 299.3V304.5M158.80 300.6V304.5M159.10 300.2V304.5M159.40 299.8V304.5M159.70 300.8V304.5M160.00 300.5V304.5M160.30 300.4V304.5M160.60 300.7V304.6M160.90 300.4V304.6M161.20 298.0V304.6M161.50 300.6V304.6M161.80 300.9V304.7M162.10 301.3V304.7M162.40 300.2V304.7M162.70 297.0V304.7M163.00 300.9V304.8M163.30 300.0V304.8M163.60 301.2V304.8M163.90 300.8V304.8M164.20 300.8V304.9M164.50 300.8V304.9M164.80 300.6V304.9M165.10 300.8V304.9M165.40 300.2V305.0M165.70 301.4V305.0M166.00 301.0V305.0M166.30 300.4V305.0M166.60 300.7V305.1M166.90 301.5V305.1M167.20 299.8V305.1M167.50 300.5V305.1M167.80 301.2V305.2M168.10 298.7V305.2M168.40 301.0V305.2M168.70 299.8V305.2M169.00 299.6V305.3M169.30 300.6V305.3M169.60 300.8V305.3M169.90 301.1V305.3M170.20 300.5V305.4M170.50 301.1V305.4M170.80 302.2V305.4M171.10 300.9V305.4M171.40 302.3V305.5M171.70 302.1V305.5M172.00 301.4V305.5M172.30 301.4V305.5M172.60 300.5V305.6M172.90 300.9V305.6M173.20 301.9V305.6M173.50 301.2V305.6M173.80 302.1V305.7M174.10 301.5V305.7M174.40 302.5V305.7M174.70 299.7V305.7M175.00 300.8V305.8M175.30 300.6V305.8M175.60 301.9V305.8M175.90 300.7V305.9M176.20 301.5V305.9M176.50 298.5V305.9M176.80 301.8V305.9M177.10 302.6V306.0M177.40 301.1V306.0M177.70 302.5V306.0M178.00 302.7V306.0M178.30 301.1V306.1M178.60 301.4V306.1M178.90 301.1V306.1M179.20 303.1V306.1M179.50 301.7V306.2M179.80 301.5V306.2M180.10 301.9V306.2M180.40 299.4V306.2M180.70 301.7V306.2M181.00 301.6V306.3M181.30 302.6V306.3M181.60 301.9V306.3M181.90 300.3V306.3M182.20 301.8V306.3M182.50 302.8V306.4M182.80 302.5V306.4M183.10 302.4V306.4M183.40 302.5V306.4M183.70 302.5V306.4M184.00 302.1V306.4M184.30 301.9V306.5M184.60 303.1V306.5M184.90 302.5V306.5M185.20 302.0V306.5M185.50 301.3V306.5M185.80 303.0V306.6M186.10 301.7V306.6M186.40 301.6V306.6M186.70 301.3V306.6M187.00 303.4V306.6M187.30 302.6V306.7M187.60 301.0V306.7M187.90 301.9V306.7M188.20 301.5V306.7M188.50 302.4V306.7M188.80 303.5V306.7M189.10 303.0V306.8M189.40 301.5V306.8M189.70 302.0V306.8M190.00 302.4V306.8M190.30 302.2V306.8M190.60 301.7V306.9M190.90 303.4V306.9M191.20 301.9V306.9M191.50 302.8V306.9M191.80 303.4V306.9M192.10 303.3V306.9M192.40 303.1V307.0M192.70 303.3V307.0M193.00 301.2V307.0M193.30 301.7V307.0M193.60 303.2V307.0M193.90 303.5V307.1M194.20 303.3V307.1M194.50 300.9V307.1M194.80 303.7V307.1M195.10 302.9V307.1M195.40 301.9V307.2M195.70 301.7V307.2M196.00 300.7V307.2M196.30 302.8V307.2M196.60 303.0V307.2M196.90 302.8V307.2M197.20 303.2V307.3M197.50 303.1V307.3M197.80 302.5V307.3M198.10 303.1V307.3M198.40 303.3V307.3M198.70 300.5V307.4M199.00 301.1V307.4M199.30 302.0V307.4M199.60 302.5V307.4M199.90 303.3V307.4M200.20 302.5V307.5M200.50 302.2V307.5M200.80 302.6V307.5M201.10 304.3V307.5M201.40 302.9V307.5" stroke="#2e3192" stroke-width="0.45" stroke-opacity="0.9" fill="none"/>
<path d="M61.60 309.3V314.0M61.90 309.3V313.3M62.20 309.3V312.8M62.50 309.3V313.0M62.80 309.3V313.9M63.10 309.3V312.9M63.40 309.3V314.3M63.70 309.3V312.8M64.00 309.3V314.9M64.30 309.4V312.6M64.60 309.4V312.8M64.90 309.4V314.6M65.20 309.4V313.0M65.50 309.4V313.2M65.80 309.4V312.8M66.10 309.4V313.8M66.40 309.4V315.2M66.70 309.4V312.9M67.00 309.4V313.8M67.30 309.4V314.4M67.60 309.4V313.0M67.90 309.4V313.4M68.20 309.4V312.8M68.50 309.4V312.8M68.80 309.4V313.0M69.10 309.4V312.5M69.40 309.4V313.6M69.70 309.4V313.0M70.00 309.4V314.1M70.30 309.4V312.8M70.60 309.5V313.4M70.90 309.5V313.3M71.20 309.5V313.0M71.50 309.5V312.8M71.80 309.5V313.3M72.10 309.5V312.6M72.40 309.5V313.1M72.70 309.5V314.1M73.00 309.5V314.0M73.30 309.5V313.0M73.60 309.5V313.0M73.90 309.5V314.5M74.20 309.5V312.9M74.50 309.5V314.0M74.80 309.5V312.8M75.10 309.5V313.5M75.40 309.5V313.7M75.70 309.5V312.7M76.00 309.5V314.9M76.30 309.5V313.7M76.60 309.5V313.2M76.90 309.6V314.3M77.20 309.6V314.2M77.50 309.6V313.7M77.80 309.6V312.7M78.10 309.6V313.5M78.40 309.6V314.2M78.70 309.6V313.9M79.00 309.6V313.7M79.30 309.6V313.8M79.60 309.6V313.3M79.90 309.6V313.5M80.20 309.6V313.4M80.50 309.6V313.6M80.80 309.6V313.1M81.10 309.6V313.8M81.40 309.6V313.8M81.70 309.6V314.2M82.00 309.6V314.6M82.30 309.6V313.9M82.60 309.7V313.1M82.90 309.7V313.4M83.20 309.7V313.6M83.50 309.7V312.9M83.80 309.7V313.7M84.10 309.7V314.0M84.40 309.7V312.9M84.70 309.7V313.2M85.00 309.7V313.4M85.30 309.7V313.1M85.60 309.7V314.0M85.90 309.7V313.5M86.20 309.7V313.3M86.50 309.7V312.9M86.80 309.7V313.8M87.10 309.7V314.0M87.40 309.7V313.9M87.70 309.8V314.9M88.00 309.8V315.0M88.30 309.8V316.4M88.60 309.8V313.4M88.90 309.8V313.7M89.20 309.8V313.6M89.50 309.8V315.8M89.80 309.8V314.8M90.10 309.8V313.2M90.40 309.8V314.5M90.70 309.8V314.1M91.00 309.8V313.8M91.30 309.8V313.4M91.60 309.8V312.9M91.90 309.8V313.9M92.20 309.8V313.7M92.50 309.9V313.2M92.80 309.9V312.9M93.10 309.9V313.6M93.40 309.9V315.2M93.70 309.9V313.6M94.00 309.9V314.0M94.30 309.9V313.1M94.60 309.9V313.7M94.90 309.9V313.3M95.20 309.9V314.6M95.50 309.9V314.5M95.80 309.9V313.7M96.10 309.9V313.1M96.40 309.9V314.0M96.70 309.9V313.3M97.00 309.9V314.2M97.30 309.9V315.7M97.60 310.0V313.4M97.90 310.0V315.3M98.20 310.0V314.2M98.50 310.0V313.2M98.80 310.0V314.4M99.10 310.0V314.9M99.40 310.0V313.5M99.70 310.0V313.5M100.00 310.0V313.3M100.30 310.0V315.3M100.60 310.0V314.5M100.90 310.0V313.6M101.20 310.0V313.9M101.50 310.0V315.1M101.80 310.0V314.9M102.10 310.0V313.5M102.40 310.0V314.5M102.70 310.0V314.2M103.00 310.0V313.8M103.30 310.0V313.3M103.60 310.0V313.7M103.90 310.0V313.9M104.20 310.0V315.3M104.50 309.9V314.4M104.80 309.9V315.3M105.10 309.9V314.4M105.40 309.9V314.2M105.70 309.9V313.8M106.00 309.9V314.6M106.30 309.9V313.5M106.60 309.9V314.0M106.90 309.9V313.5M107.20 309.9V313.1M107.50 309.9V313.0M107.80 309.9V313.6M108.10 309.9V314.2M108.40 309.9V313.7M108.70 309.9V314.2M109.00 309.9V314.0M109.30 309.9V314.3M109.60 309.9V314.0M109.90 309.9V313.7M110.20 309.9V315.0M110.50 309.9V313.7M110.80 309.9V313.9M111.10 309.9V313.3M111.40 309.9V315.1M111.70 309.9V313.2M112.00 309.9V314.1M112.30 309.9V313.1M112.60 309.9V314.6M112.90 309.9V313.5M113.20 309.9V313.8M113.50 309.9V313.4M113.80 309.8V313.7M114.10 309.8V314.4M114.40 309.8V313.8M114.70 309.8V313.7M115.00 309.8V313.3M115.30 309.8V315.3M115.60 309.8V314.4M115.90 309.8V313.0M116.20 309.8V314.5M116.50 309.8V313.9M116.80 309.8V313.4M117.10 309.8V314.4M117.40 309.8V313.3M117.70 309.8V313.4M118.00 309.8V315.6M118.30 309.8V313.9M118.60 309.8V313.2M118.90 309.8V313.4M119.20 309.8V313.5M119.50 309.7V315.2M119.80 309.7V312.9M120.10 309.7V315.2M120.40 309.7V313.7M120.70 309.7V312.8M121.00 309.7V313.4M121.30 309.7V313.7M121.60 309.7V313.8M121.90 309.6V314.7M122.20 309.6V314.0M122.50 309.6V314.1M122.80 309.6V313.1M123.10 309.6V312.9M123.40 309.6V313.8M123.70 309.6V313.6M124.00 309.6V314.0M124.30 309.5V313.9M124.60 309.5V313.5M124.90 309.5V314.2M125.20 309.5V313.1M125.50 309.5V315.0M125.80 309.5V313.0M126.10 309.5V313.6M126.40 309.5V313.7M126.70 309.4V314.3M127.00 309.4V314.1M127.30 309.4V314.2M127.60 309.4V312.5M127.90 309.4V313.0M128.20 309.4V314.6M128.50 309.4V312.9M128.80 309.4V312.7M129.10 309.3V313.1M129.40 309.3V314.4M129.70 309.3V312.7M130.00 309.3V313.2M130.30 309.3V312.8M130.60 309.3V313.5M130.90 309.3V312.7M131.20 309.2V312.5M131.50 309.2V313.0M131.80 309.2V313.2M132.10 309.2V313.3M132.40 309.2V313.4M132.70 309.2V313.8M133.00 309.2V312.7M133.30 309.1V312.8M133.60 309.1V312.7M133.90 309.1V312.5M134.20 309.1V313.4M134.50 309.1V313.4M134.80 309.1V312.9M135.10 309.0V312.6M135.40 309.0V312.2M135.70 309.0V313.3M136.00 309.0V312.8M136.30 309.0V312.3M136.60 309.0V312.4M136.90 309.0V313.5M137.20 308.9V313.0M137.50 308.9V314.2M137.80 308.9V312.1M138.10 308.9V313.3M138.40 308.9V312.7M138.70 308.9V314.0M139.00 308.9V313.2M139.30 308.8V312.1M139.60 308.8V312.5M139.90 308.8V312.7M140.20 308.8V312.7M140.50 308.8V313.6M140.80 308.8V312.7M141.10 308.8V313.1M141.40 308.8V312.5M141.70 308.7V312.4M142.00 308.7V312.7M142.30 308.7V312.4M142.60 308.7V312.7M142.90 308.7V312.6M143.20 308.7V312.5M143.50 308.7V311.8M143.80 308.7V312.8M144.10 308.7V312.8M144.40 308.7V312.1M144.70 308.7V312.3M145.00 308.7V312.1M145.30 308.6V312.3M145.60 308.6V313.1M145.90 308.6V312.3M146.20 308.6V312.4M146.50 308.6V312.7M146.80 308.6V313.2M147.10 308.6V313.7M147.40 308.6V312.9M147.70 308.6V312.0M148.00 308.6V311.9M148.30 308.6V312.6M148.60 308.5V313.0M148.90 308.5V311.9M149.20 308.5V312.2M149.50 308.5V312.0M149.80 308.5V313.1M150.10 308.5V313.3M150.40 308.5V311.8M150.70 308.5V311.8M151.00 308.5V312.3M151.30 308.5V312.2M151.60 308.5V312.4M151.90 308.4V312.9M152.20 308.4V311.9M152.50 308.4V312.0M152.80 308.4V312.8M153.10 308.4V311.7M153.40 308.4V312.4M153.70 308.4V311.6M154.00 308.4V312.9M154.30 308.4V312.1M154.60 308.4V311.8M154.90 308.4V312.9M155.20 308.3V313.2M155.50 308.3V312.8M155.80 308.3V312.4M156.10 308.3V312.3M156.40 308.3V311.5M156.70 308.3V311.9M157.00 308.3V311.9M157.30 308.3V313.8M157.60 308.3V312.6M157.90 308.3V312.3M158.20 308.3V312.1M158.50 308.2V312.2M158.80 308.2V312.2M159.10 308.2V312.4M159.40 308.2V312.4M159.70 308.2V312.9M160.00 308.2V311.8M160.30 308.2V313.3M160.60 308.2V312.2M160.90 308.3V312.4M161.20 308.3V312.2M161.50 308.3V312.5M161.80 308.3V312.2M162.10 308.3V312.8M162.40 308.3V312.0M162.70 308.4V313.7M163.00 308.4V313.0M163.30 308.4V312.0M163.60 308.4V311.8M163.90 308.4V312.1M164.20 308.5V311.8M164.50 308.5V312.3M164.80 308.5V313.1M165.10 308.5V312.4M165.40 308.5V312.1M165.70 308.5V313.2M166.00 308.6V312.7M166.30 308.6V313.9M166.60 308.6V312.5M166.90 308.6V313.4M167.20 308.6V313.1M167.50 308.6V312.2M167.80 308.7V312.4M168.10 308.7V312.5M168.40 308.7V312.5M168.70 308.7V313.2M169.00 308.7V312.2M169.30 308.8V313.5M169.60 308.8V312.0M169.90 308.8V312.2M170.20 308.8V312.7M170.50 308.8V312.7M170.80 308.8V313.5M171.10 308.9V313.3M171.40 308.9V313.1M171.70 308.9V312.9M172.00 308.9V314.2M172.30 308.9V314.2M172.60 309.0V312.8M172.90 309.0V312.9M173.20 309.0V313.5M173.50 309.0V313.3M173.80 309.0V313.4M174.10 309.0V313.2M174.40 309.1V313.3M174.70 309.1V313.6M175.00 309.1V312.7M175.30 309.1V312.8M175.60 309.1V314.0M175.90 309.2V313.4M176.20 309.2V313.2M176.50 309.2V313.1M176.80 309.2V313.3M177.10 309.2V312.4M177.40 309.2V313.3M177.70 309.3V313.1M178.00 309.3V313.6M178.30 309.3V313.1M178.60 309.3V313.9M178.90 309.3V315.1M179.20 309.4V315.0M179.50 309.4V313.3M179.80 309.4V312.8M180.10 309.4V312.6M180.40 309.4V313.1M180.70 309.4V313.5M181.00 309.5V313.9M181.30 309.5V313.4M181.60 309.5V313.5M181.90 309.5V313.7M182.20 309.5V312.8M182.50 309.5V312.8M182.80 309.6V314.7M183.10 309.6V313.2M183.40 309.6V313.0M183.70 309.6V312.9M184.00 309.6V312.8M184.30 309.6V313.7M184.60 309.7V313.1M184.90 309.7V313.6M185.20 309.7V313.3M185.50 309.7V313.8M185.80 309.7V315.0M186.10 309.7V313.3M186.40 309.8V313.3M186.70 309.8V313.1M187.00 309.8V313.5M187.30 309.8V313.3M187.60 309.8V315.1M187.90 309.9V313.1M188.20 309.9V314.2M188.50 309.9V314.5M188.80 309.9V314.1M189.10 309.9V313.7M189.40 309.9V313.6M189.70 310.0V313.6M190.00 310.0V314.2M190.30 310.0V313.2M190.60 310.0V313.9M190.90 310.0V313.4M191.20 310.0V314.2M191.50 310.1V313.3M191.80 310.1V313.7M192.10 310.1V313.2M192.40 310.1V313.8M192.70 310.1V316.3M193.00 310.1V313.8M193.30 310.2V315.2M193.60 310.2V314.3M193.90 310.2V314.5M194.20 310.2V313.5M194.50 310.2V314.8M194.80 310.2V315.3M195.10 310.3V314.5M195.40 310.3V314.3M195.70 310.3V313.9M196.00 310.3V314.5M196.30 310.3V315.2M196.60 310.3V313.5M196.90 310.4V314.5M197.20 310.4V313.6M197.50 310.4V313.5M197.80 310.4V313.8M198.10 310.4V313.8M198.40 310.5V314.2M198.70 310.5V313.8M199.00 310.5V314.6M199.30 310.5V314.7M199.60 310.5V315.5M199.90 310.5V313.9M200.20 310.6V314.1M200.50 310.6V314.8M200.80 310.6V314.5M201.10 310.6V314.3M201.40 310.6V314.0" stroke="#2e3192" stroke-width="0.45" stroke-opacity="0.9" fill="none"/>
<path d="M152.50 300.2V303.5M76.00 300.6V305.1M94.90 297.3V306.0M95.20 301.3V306.0M174.10 301.6V304.7M154.00 297.4V303.5M70.30 302.1V305.2M131.50 299.6V304.6M183.40 300.5V305.4M65.20 300.3V305.2M71.50 302.1V305.1M138.40 300.6V303.7M175.60 300.8V304.8M96.10 302.5V306.0M69.10 301.0V305.2M160.90 299.0V303.6M79.60 301.9V305.0M146.50 300.1V303.5M167.80 299.9V304.2M106.30 297.2V306.4M121.30 302.6V306.0M160.30 298.5V303.5M141.70 294.2V303.5M123.70 302.3V305.7M68.50 300.4V305.2M87.10 301.6V305.5M141.10 298.2V303.5M102.40 300.3V306.3M100.90 303.0V306.3M86.80 300.2V305.4M177.10 301.3V305.0M156.70 295.1V303.5M66.40 302.1V305.2M161.20 299.5V303.6M168.10 290.8V304.2M62.80 302.2V305.3M166.30 299.7V304.0M122.20 302.3V305.9M152.20 299.5V303.5M91.90 302.5V305.8M100.60 297.5V306.3M169.90 301.1V304.3M121.60 301.1V306.0M137.20 290.6V303.9M190.90 302.5V305.9M84.10 301.6V305.3M120.10 300.6V306.2M66.10 302.2V305.2M150.10 298.6V303.5M184.90 301.9V305.5M159.40 299.8V303.5M158.80 298.1V303.5M68.20 302.0V305.2M184.30 302.2V305.5M90.40 301.3V305.7M122.80 298.3V305.8M99.40 303.0V306.3M130.90 300.8V304.7M74.80 302.1V305.1M192.10 301.9V305.9" stroke="#2e3192" stroke-width="0.5" stroke-opacity="0.8" fill="none"/>
<path d="M140.40 289.4V304.0M141.00 295.0V304.0M143.40 293.0V304.0M144.20 296.0V304.0M160.30 287.7V304.0M158.60 292.0V304.0M146.50 297.0V304.0M136.20 298.0V304.0" stroke="#2e3192" stroke-width="0.7" stroke-opacity="0.9" fill="none"/>
<path d="M156.50 211.3V300.0" stroke="#2a2aa4" stroke-width="0.6" stroke-opacity="1.0" fill="none"/>
<path d="M201.50 228.0V303.0" stroke="#eeeef2" stroke-width="0.6" stroke-opacity="1.0" fill="none"/>
<path d="M155.70 280.0V303.0M156.60 284.0V303.0" stroke="#3c3cb0" stroke-width="0.6" stroke-opacity="1.0" fill="none"/>
<text x="283.4" y="184.2" font-size="11.6" font-weight="bold" fill="#000">D</text>
<polygon points="334.00,253.9 334.30,256.9 334.60,255.8 334.90,252.2 335.20,252.5 335.50,256.6 335.80,254.5 336.10,253.3 336.40,256.2 336.70,253.0 337.00,253.2 337.30,252.8 337.60,249.7 337.90,255.4 338.20,251.2 338.50,252.5 338.80,252.1 339.10,255.0 339.40,253.4 339.70,253.5 340.00,250.1 340.30,253.3 340.60,250.4 340.90,254.0 341.20,254.1 341.50,253.3 341.80,257.4 342.10,254.3 342.40,254.4 342.70,253.5 343.00,252.8 343.30,255.1 343.60,255.3 343.90,250.5 344.20,255.2 344.50,254.1 344.80,254.9 345.10,253.9 345.40,250.5 345.70,250.6 346.00,256.5 346.30,253.3 346.60,250.0 346.90,253.4 347.20,252.0 347.50,249.0 347.80,248.0 348.10,249.4 348.40,253.1 348.70,252.4 349.00,252.0 349.30,253.0 349.60,253.6 349.90,248.1 350.20,251.7 350.50,250.6 350.80,249.8 351.10,251.1 351.40,251.9 351.70,251.6 352.00,249.2 352.30,251.1 352.60,256.0 352.90,249.8 353.20,248.5 353.50,252.4 353.80,253.0 354.10,252.7 354.40,249.5 354.70,253.7 355.00,250.1 355.30,249.4 355.60,250.4 355.90,251.3 356.20,252.9 356.50,252.7 356.80,251.4 357.10,253.3 357.40,251.5 357.70,253.1 358.00,248.5 358.30,248.1 358.60,252.7 358.90,248.4 359.20,250.5 359.50,250.9 359.80,250.1 360.10,250.1 360.40,253.7 360.70,245.7 361.00,252.4 361.30,255.2 361.60,250.5 361.90,250.3 362.20,251.7 362.50,253.8 362.80,247.7 363.10,250.1 363.40,249.5 363.70,250.9 364.00,250.0 364.30,250.9 364.60,248.6 364.90,249.5 365.20,247.9 365.50,247.8 365.80,248.8 366.10,248.7 366.40,246.5 366.70,251.9 367.00,248.4 367.30,245.8 367.60,250.7 367.90,246.9 368.20,249.3 368.50,248.1 368.80,248.6 369.10,248.3 369.40,246.7 369.70,247.8 370.00,251.7 370.30,243.1 370.60,247.6 370.90,248.2 371.20,245.2 371.50,244.4 371.80,251.4 372.10,246.3 372.40,251.4 372.70,248.5 373.00,247.8 373.30,248.8 373.60,249.3 373.90,250.6 374.20,249.3 374.50,248.9 374.80,249.1 375.10,251.7 375.40,250.8 375.70,247.4 376.00,248.3 376.30,250.4 376.60,248.7 376.90,249.4 377.20,248.4 377.50,250.0 377.80,251.5 378.10,252.9 378.40,251.1 378.70,255.4 379.00,251.3 379.30,258.0 379.60,253.8 379.90,253.0 380.20,251.2 380.50,246.8 380.80,252.3 381.10,253.1 381.40,256.8 381.70,250.4 382.00,257.2 382.30,253.1 382.60,255.2 382.90,248.9 383.20,254.5 383.50,253.9 383.80,256.3 384.10,255.4 384.40,253.3 384.70,257.8 385.00,257.7 385.30,257.8 385.60,259.0 385.90,259.5 386.20,257.6 386.50,255.3 386.80,255.6 387.10,261.4 387.40,260.4 387.70,259.6 388.00,258.8 388.30,260.1 388.60,260.4 388.90,260.1 389.20,259.7 389.50,265.8 389.80,262.2 390.10,260.8 390.40,259.4 390.70,260.5 391.00,263.3 391.30,263.4 391.60,261.4 391.90,261.9 392.20,261.2 392.50,259.5 392.80,264.3 393.10,262.4 393.40,266.6 393.70,260.1 394.00,261.3 394.30,263.3 394.60,261.0 394.90,258.7 395.20,259.6 395.50,261.7 395.80,262.1 396.10,261.2 396.40,263.4 396.70,263.3 397.00,261.9 397.30,261.3 397.60,260.7 397.90,262.3 398.20,263.0 398.50,261.3 398.80,262.0 399.10,260.4 399.40,258.2 399.70,259.0 400.00,262.5 400.30,261.6 400.60,263.6 400.90,260.2 401.20,261.5 401.50,262.1 401.80,261.2 402.10,257.7 402.40,258.2 402.70,258.6 403.00,256.0 403.30,258.6 403.60,259.4 403.90,256.1 404.20,260.7 404.50,255.9 404.80,255.8 405.10,255.4 405.40,254.2 405.70,256.1 406.00,255.0 406.30,258.0 406.60,255.6 406.90,255.2 407.20,253.4 407.50,250.7 407.80,253.0 408.10,251.2 408.40,254.3 408.70,251.9 409.00,254.9 409.30,252.6 409.60,252.4 409.90,250.7 410.20,250.3 410.50,250.7 410.80,250.8 411.10,247.2 411.40,249.1 411.70,253.0 412.00,247.1 412.30,246.3 412.60,245.0 412.90,243.1 413.20,247.9 413.50,245.3 413.80,245.3 414.10,248.0 414.40,248.9 414.70,241.7 415.00,245.1 415.30,243.9 415.60,243.1 415.90,242.9 416.20,241.5 416.50,244.4 416.80,242.1 417.10,241.2 417.40,242.6 417.70,241.6 418.00,240.3 418.30,239.7 418.60,242.2 418.90,239.3 419.20,237.8 419.50,235.9 419.80,236.6 420.10,235.0 420.40,237.7 420.70,238.4 421.00,234.2 421.30,238.7 421.60,240.3 421.90,239.7 422.20,237.8 422.50,242.7 422.80,239.1 423.10,238.4 423.40,239.1 423.70,241.6 424.00,244.0 424.30,244.7 424.60,243.2 424.90,240.7 425.20,242.2 425.50,242.1 425.80,243.9 426.10,241.1 426.40,245.2 426.70,246.7 427.00,245.5 427.30,247.0 427.60,244.6 427.90,244.0 428.20,245.9 428.50,249.7 428.80,249.6 429.10,246.9 429.40,250.4 429.70,247.6 430.00,251.4 430.30,249.6 430.60,247.9 430.90,250.6 431.20,247.7 431.50,247.6 431.80,246.8 432.10,250.4 432.40,250.0 432.70,250.2 433.00,249.7 433.30,253.6 433.60,250.1 433.90,249.7 434.20,253.9 434.50,254.4 434.80,252.5 435.10,248.5 435.40,251.0 435.70,253.7 436.00,252.7 436.30,256.0 436.60,250.3 436.90,254.6 437.20,252.2 437.50,256.4 437.80,253.8 438.10,256.2 438.40,253.0 438.70,251.7 439.00,252.5 439.30,253.8 439.60,253.1 439.90,257.8 440.20,258.3 440.50,256.4 440.80,254.0 441.10,256.0 441.40,255.1 441.70,259.6 442.00,257.5 442.30,258.1 442.60,256.5 442.90,253.5 443.20,256.2 443.50,255.7 443.80,258.9 444.10,258.6 444.40,257.0 444.70,258.0 445.00,262.1 445.30,257.2 445.60,257.5 445.90,259.0 446.20,258.2 446.50,258.9 446.80,261.0 447.10,263.6 447.40,256.7 447.70,260.4 448.00,260.7 448.30,260.6 448.60,260.5 448.90,260.4 449.20,263.2 449.50,260.5 449.80,261.3 450.10,261.7 450.40,262.1 450.70,261.7 451.00,264.2 451.30,262.3 451.60,262.9 451.90,262.6 452.20,260.8 452.50,261.3 452.80,261.1 453.10,263.7 453.40,262.1 453.70,261.5 454.00,264.3 454.30,265.0 454.60,260.6 454.90,267.7 455.20,264.5 455.50,264.4 455.80,266.9 456.10,265.1 456.40,263.9 456.70,269.6 457.00,263.3 457.30,265.4 457.60,267.4 457.90,263.7 458.20,265.8 458.50,267.0 458.80,271.2 459.10,264.7 459.40,266.6 459.70,268.2 460.00,267.2 460.30,264.7 460.60,268.0 460.90,267.5 461.20,268.3 461.50,269.7 461.80,269.6 462.10,268.5 462.40,268.4 462.70,265.6 463.00,267.7 463.30,268.5 463.60,267.3 463.90,268.4 464.20,266.6 464.50,271.5 464.80,272.8 465.10,267.8 465.40,269.5 465.70,268.3 466.00,271.4 466.30,269.8 466.60,269.2 466.90,268.7 467.20,269.5 467.50,267.3 467.80,270.8 468.10,268.1 468.40,270.7 468.70,269.9 469.00,272.0 469.30,269.8 469.60,272.0 469.90,268.2 470.20,271.4 470.50,269.8 470.80,270.7 471.10,270.6 471.40,272.4 471.70,266.6 472.00,271.3 472.30,267.8 472.60,273.3 472.90,267.0 473.20,269.0 473.50,267.7 473.50,317.5 473.20,317.5 472.90,317.5 472.60,317.5 472.30,317.5 472.00,317.5 471.70,317.5 471.40,317.5 471.10,317.5 470.80,317.5 470.50,317.5 470.20,317.5 469.90,317.5 469.60,317.5 469.30,317.5 469.00,317.5 468.70,317.5 468.40,317.5 468.10,317.5 467.80,317.5 467.50,317.5 467.20,317.5 466.90,317.5 466.60,317.5 466.30,317.5 466.00,317.5 465.70,317.5 465.40,317.5 465.10,317.5 464.80,317.5 464.50,317.5 464.20,317.5 463.90,317.5 463.60,317.5 463.30,317.5 463.00,317.5 462.70,317.5 462.40,317.5 462.10,317.5 461.80,317.5 461.50,317.5 461.20,317.5 460.90,317.5 460.60,317.5 460.30,317.5 460.00,317.5 459.70,317.5 459.40,317.5 459.10,317.5 458.80,317.5 458.50,317.5 458.20,317.5 457.90,317.5 457.60,317.5 457.30,317.5 457.00,317.5 456.70,317.5 456.40,317.5 456.10,317.5 455.80,317.5 455.50,317.5 455.20,317.5 454.90,317.5 454.60,317.5 454.30,317.5 454.00,317.5 453.70,317.5 453.40,317.5 453.10,317.5 452.80,317.5 452.50,317.5 452.20,317.5 451.90,317.5 451.60,317.5 451.30,317.5 451.00,317.5 450.70,317.5 450.40,317.5 450.10,317.5 449.80,317.5 449.50,317.5 449.20,317.5 448.90,317.5 448.60,317.5 448.30,317.5 448.00,317.5 447.70,317.5 447.40,317.5 447.10,317.5 446.80,317.5 446.50,317.5 446.20,317.5 445.90,317.5 445.60,317.5 445.30,317.5 445.00,317.5 444.70,317.5 444.40,317.5 444.10,317.5 443.80,317.5 443.50,317.5 443.20,317.5 442.90,317.5 442.60,317.5 442.30,317.5 442.00,317.5 441.70,317.5 441.40,317.5 441.10,317.5 440.80,317.5 440.50,317.5 440.20,317.5 439.90,317.5 439.60,317.5 439.30,317.5 439.00,317.5 438.70,317.5 438.40,317.5 438.10,317.5 437.80,317.5 437.50,317.5 437.20,317.5 436.90,317.5 436.60,317.5 436.30,317.5 436.00,317.5 435.70,317.5 435.40,317.5 435.10,317.5 434.80,317.5 434.50,317.5 434.20,317.5 433.90,317.5 433.60,317.5 433.30,317.5 433.00,317.5 432.70,317.5 432.40,317.5 432.10,317.5 431.80,317.5 431.50,317.5 431.20,317.5 430.90,317.5 430.60,317.5 430.30,317.5 430.00,317.5 429.70,317.5 429.40,317.5 429.10,317.5 428.80,317.5 428.50,317.5 428.20,317.5 427.90,317.5 427.60,317.5 427.30,317.5 427.00,317.5 426.70,317.5 426.40,317.5 426.10,317.5 425.80,317.5 425.50,317.5 425.20,317.5 424.90,317.5 424.60,317.5 424.30,317.5 424.00,317.5 423.70,317.5 423.40,317.5 423.10,317.5 422.80,317.5 422.50,317.5 422.20,317.5 421.90,317.5 421.60,317.5 421.30,317.5 421.00,317.5 420.70,317.5 420.40,317.5 420.10,317.5 419.80,317.5 419.50,317.5 419.20,317.5 418.90,317.5 418.60,317.5 418.30,317.5 418.00,317.5 417.70,317.5 417.40,317.5 417.10,317.5 416.80,317.5 416.50,317.5 416.20,317.5 415.90,317.5 415.60,317.5 415.30,317.5 415.00,317.5 414.70,317.5 414.40,317.5 414.10,317.5 413.80,317.5 413.50,317.5 413.20,317.5 412.90,317.5 412.60,317.5 412.30,317.5 412.00,317.5 411.70,317.5 411.40,317.5 411.10,317.5 410.80,317.5 410.50,317.5 410.20,317.5 409.90,317.5 409.60,317.5 409.30,317.5 409.00,317.5 408.70,317.5 408.40,317.5 408.10,317.5 407.80,317.5 407.50,317.5 407.20,317.5 406.90,317.5 406.60,317.5 406.30,317.5 406.00,317.5 405.70,317.5 405.40,317.5 405.10,317.5 404.80,317.5 404.50,317.5 404.20,317.5 403.90,317.5 403.60,317.5 403.30,317.5 403.00,317.5 402.70,317.5 402.40,317.5 402.10,317.5 401.80,317.5 401.50,317.5 401.20,317.5 400.90,317.5 400.60,317.5 400.30,317.5 400.00,317.5 399.70,317.5 399.40,317.5 399.10,317.5 398.80,317.5 398.50,317.5 398.20,317.5 397.90,317.5 397.60,317.5 397.30,317.5 397.00,317.5 396.70,317.5 396.40,317.5 396.10,317.5 395.80,317.5 395.50,317.5 395.20,317.5 394.90,317.5 394.60,317.5 394.30,317.5 394.00,317.5 393.70,317.5 393.40,317.5 393.10,317.5 392.80,317.5 392.50,317.5 392.20,317.5 391.90,317.5 391.60,317.5 391.30,317.5 391.00,317.5 390.70,317.5 390.40,317.5 390.10,317.5 389.80,317.5 389.50,317.5 389.20,317.5 388.90,317.5 388.60,317.5 388.30,317.5 388.00,317.5 387.70,317.5 387.40,317.5 387.10,317.5 386.80,317.5 386.50,317.5 386.20,317.5 385.90,317.5 385.60,317.5 385.30,317.5 385.00,317.5 384.70,317.5 384.40,317.5 384.10,317.5 383.80,317.5 383.50,317.5 383.20,317.5 382.90,317.5 382.60,317.5 382.30,317.5 382.00,317.5 381.70,317.5 381.40,317.5 381.10,317.5 380.80,317.5 380.50,317.5 380.20,317.5 379.90,317.5 379.60,317.5 379.30,317.5 379.00,317.5 378.70,317.5 378.40,317.5 378.10,317.5 377.80,317.5 377.50,317.5 377.20,317.5 376.90,317.5 376.60,317.5 376.30,317.5 376.00,317.5 375.70,317.5 375.40,317.5 375.10,317.5 374.80,317.5 374.50,317.5 374.20,317.5 373.90,317.5 373.60,317.5 373.30,317.5 373.00,317.5 372.70,317.5 372.40,317.5 372.10,317.5 371.80,317.5 371.50,317.5 371.20,317.5 370.90,317.5 370.60,317.5 370.30,317.5 370.00,317.5 369.70,317.5 369.40,317.5 369.10,317.5 368.80,317.5 368.50,317.5 368.20,317.5 367.90,317.5 367.60,317.5 367.30,317.5 367.00,317.5 366.70,317.5 366.40,317.5 366.10,317.5 365.80,317.5 365.50,317.5 365.20,317.5 364.90,317.5 364.60,317.5 364.30,317.5 364.00,317.5 363.70,317.5 363.40,317.5 363.10,317.5 362.80,317.5 362.50,317.5 362.20,317.5 361.90,317.5 361.60,317.5 361.30,317.5 361.00,317.5 360.70,317.5 360.40,317.5 360.10,317.5 359.80,317.5 359.50,317.5 359.20,317.5 358.90,317.5 358.60,317.5 358.30,317.5 358.00,317.5 357.70,317.5 357.40,317.5 357.10,317.5 356.80,317.5 356.50,317.5 356.20,317.5 355.90,317.5 355.60,317.5 355.30,317.5 355.00,317.5 354.70,317.5 354.40,317.5 354.10,317.5 353.80,317.5 353.50,317.5 353.20,317.5 352.90,317.5 352.60,317.5 352.30,317.5 352.00,317.5 351.70,317.5 351.40,317.5 351.10,317.5 350.80,317.5 350.50,317.5 350.20,317.5 349.90,317.5 349.60,317.5 349.30,317.5 349.00,317.5 348.70,317.5 348.40,317.5 348.10,317.5 347.80,317.5 347.50,317.5 347.20,317.5 346.90,317.5 346.60,317.5 346.30,317.5 346.00,317.5 345.70,317.5 345.40,317.5 345.10,317.5 344.80,317.5 344.50,317.5 344.20,317.5 343.90,317.5 343.60,317.5 343.30,317.5 343.00,317.5 342.70,317.5 342.40,317.5 342.10,317.5 341.80,317.5 341.50,317.5 341.20,317.5 340.90,317.5 340.60,317.5 340.30,317.5 340.00,317.5 339.70,317.5 339.40,317.5 339.10,317.5 338.80,317.5 338.50,317.5 338.20,317.5 337.90,317.5 337.60,317.5 337.30,317.5 337.00,317.5 336.70,317.5 336.40,317.5 336.10,317.5 335.80,317.5 335.50,317.5 335.20,317.5 334.90,317.5 334.60,317.5 334.30,317.5 334.00,317.5" fill="#2e3192" fill-opacity="1.0"/>
<path d="M338.20 241.5V249.6M346.30 237.2V248.8M348.40 233.8V248.5M350.50 234.5V248.3M351.40 236.1V248.1M352.30 230.1V248.0M353.50 235.6V247.9M356.20 216.6V247.5M361.30 237.7V246.6M364.00 232.0V245.7M365.50 226.4V245.2M370.90 223.5V243.4M372.10 211.5V243.1M373.60 233.8V244.0M379.60 223.2V247.8M381.70 235.3V249.2M389.80 253.1V257.8M394.60 234.4V257.5M395.20 251.0V257.5M405.70 240.8V251.3M406.00 232.1V251.0M406.60 240.3V250.4M408.70 239.8V248.0M411.10 225.5V244.6M413.50 216.1V241.1M417.10 226.7V236.5M419.80 221.8V233.2M420.10 215.4V233.1M427.00 227.1V241.8M430.30 232.5V244.6M431.80 212.7V245.7M433.00 234.8V246.5M434.80 239.5V247.8M435.40 237.1V248.2M436.30 231.4V248.9M441.40 243.2V252.5M442.00 245.0V252.9M447.40 250.7V256.3M450.70 225.0V258.0M451.60 239.1V258.5M452.50 252.1V259.0M457.30 242.8V261.6M459.70 244.8V262.8M464.50 237.1V264.4M469.60 258.1V266.0M470.80 239.1V266.3" stroke="#dcdcf2" stroke-width="0.5" stroke-opacity="0.95" fill="none"/>
<path d="M339.40 239.2V249.5M342.10 238.1V249.3M348.40 234.9V248.5M352.30 236.7V248.0M354.10 239.0V247.8M356.50 228.8V247.5M369.40 234.9V243.9M371.50 234.8V243.2M384.40 241.4V251.6M386.20 244.3V253.7M393.70 246.6V257.6M398.20 225.2V257.2M402.70 247.0V254.3M406.90 237.1V250.1M407.20 233.4V249.8M408.10 244.8V248.9M411.40 235.6V244.1M412.30 238.9V242.9M413.80 234.2V240.7M418.00 231.4V235.4M421.00 223.1V234.3M422.20 228.8V235.8M424.30 220.7V238.4M439.00 242.5V250.8M439.90 243.6V251.4M442.00 246.0V252.9M443.20 247.7V253.7M444.70 237.1V254.8M447.40 251.9V256.3M448.60 237.5V256.9M457.00 252.6V261.4M462.40 259.2V263.7M463.60 253.7V264.1M468.70 259.0V265.7M472.30 260.2V266.8M472.90 247.0V267.0M473.50 252.9V267.0" stroke="#e8b4c8" stroke-width="0.5" stroke-opacity="0.95" fill="none"/>
<path d="M334.90 230.5V249.9M340.00 244.2V249.5M341.20 243.3V249.3M345.10 236.0V249.0M345.40 219.0V248.9M346.60 230.9V248.8M348.40 241.5V248.5M350.80 221.3V248.2M355.60 215.6V247.6M360.10 234.3V247.0M362.20 235.0V246.3M370.00 238.1V243.7M371.50 237.7V243.2M374.20 240.1V244.4M377.50 240.9V246.5M379.90 244.1V248.0M381.10 240.1V248.8M383.20 243.7V250.2M385.60 244.8V253.0M386.80 240.8V254.3M387.70 250.0V255.4M389.20 250.5V257.1M391.00 246.7V257.9M391.90 225.8V257.8M393.70 240.2V257.6M395.80 254.3V257.4M397.90 241.4V257.2M398.50 243.0V257.1M399.70 248.3V257.0M400.30 250.7V256.7M404.80 239.3V252.2M406.90 220.4V250.1M415.30 220.0V238.6M416.50 228.6V237.2M423.40 228.7V237.3M424.00 223.4V238.0M424.30 224.4V238.4M427.30 218.4V242.1M428.50 232.6V243.4M430.30 235.4V244.6M431.20 238.0V245.3M433.90 238.8V247.2M435.10 241.2V248.0M442.90 247.1V253.5M447.70 252.8V256.4M449.50 250.4V257.4M449.80 243.5V257.6M450.40 237.1V257.9M451.30 248.3V258.4M454.30 231.0V260.0M457.60 236.7V261.7M457.90 258.9V261.9M458.20 250.2V262.0M464.80 252.9V264.5M470.20 250.6V266.1" stroke="#c4c4ea" stroke-width="0.5" stroke-opacity="0.95" fill="none"/>
<path d="M339.10 231.6V249.5M341.50 246.0V249.3M342.40 245.7V249.2M342.70 229.2V249.2M344.50 237.2V249.0M345.10 227.6V249.0M348.70 226.3V248.5M368.50 233.8V244.2M375.70 241.3V245.4M395.20 247.8V257.5M397.90 249.1V257.2M399.10 238.8V257.1M402.40 238.3V254.6M403.00 246.0V254.0M403.60 240.8V253.4M408.10 241.4V248.9M410.80 235.9V245.0M411.10 230.7V244.6M411.40 233.3V244.1M414.10 232.5V240.3M416.80 230.2V236.8M421.00 205.6V234.3M421.60 209.0V235.0M422.80 227.6V236.5M438.40 235.2V250.3M440.80 248.5V252.0M443.50 248.6V253.9M446.80 246.9V256.0M448.60 252.0V256.9M450.10 253.3V257.7M453.10 250.6V259.3M454.30 253.3V260.0M455.50 238.9V260.6M461.80 260.3V263.6M465.40 259.7V264.7M465.70 247.0V264.8M467.50 247.9V265.3" stroke="#b8c8ee" stroke-width="0.5" stroke-opacity="0.95" fill="none"/>
<path d="M339.70 246.7V249.5M342.10 217.3V249.3M354.10 237.3V247.8M354.70 241.6V247.7M355.60 229.4V247.6M355.90 234.6V247.5M366.40 232.3V244.9M387.70 231.7V255.4M388.30 247.2V256.1M398.50 241.3V257.1M399.70 251.3V257.0M415.00 234.1V239.0M424.60 233.6V238.8M432.40 234.3V246.1M435.10 237.8V248.0M452.80 251.9V259.2M463.30 251.1V264.0M466.30 245.7V264.9" stroke="#b8e0c0" stroke-width="0.5" stroke-opacity="0.95" fill="none"/>
<path d="M334.60 218.9V249.9M336.10 243.5V249.8M337.30 244.8V249.7M340.00 239.3V249.5M340.30 240.2V249.4M341.50 234.0V249.3M342.70 236.7V249.2M343.30 233.6V249.2M346.30 242.5V248.8M347.50 233.6V248.7M348.70 235.4V248.5M352.00 230.3V248.1M353.20 228.7V247.9M353.50 243.3V247.9M357.40 243.2V247.3M361.60 240.6V246.5M362.80 226.5V246.1M363.40 235.5V245.9M368.50 241.2V244.2M369.70 236.5V243.8M370.00 241.0V243.7M371.20 215.9V243.3M371.50 231.0V243.2M372.70 239.9V243.4M373.00 232.7V243.6M373.30 212.8V243.8M373.90 233.0V244.2M374.20 241.3V244.4M378.40 240.5V247.1M380.20 234.9V248.2M385.30 228.8V252.6M385.90 239.4V253.3M387.10 242.0V254.7M388.30 252.2V256.1M389.50 244.0V257.4M390.70 236.1V257.9M391.30 253.2V257.9M392.20 253.2V257.8M392.80 253.2V257.7M398.50 246.2V257.1M400.60 248.7V256.4M400.90 232.0V256.1M401.20 236.1V255.8M402.70 241.2V254.3M404.80 241.5V252.2M412.60 239.7V242.4M413.50 234.0V241.1M414.40 231.3V239.9M416.50 214.4V237.2M418.30 226.3V235.0M423.70 220.1V237.6M424.60 227.3V238.8M428.20 230.1V243.1M433.60 240.5V247.0M433.90 244.3V247.2M438.70 235.9V250.6M441.70 235.6V252.7M443.50 251.9V253.9M444.10 248.3V254.4M445.60 247.3V255.3M448.00 243.1V256.6M449.20 253.9V257.2M453.40 230.8V259.5M455.50 253.1V260.6M456.40 249.4V261.1M460.60 254.7V263.2M460.90 245.3V263.3M464.50 250.5V264.4M465.40 247.7V264.7M466.00 258.2V264.8M466.60 254.0V265.0M467.50 252.1V265.3M470.50 235.2V266.2M472.30 251.7V266.8" stroke="#7878c4" stroke-width="0.5" stroke-opacity="0.95" fill="none"/>
<path d="M334.00 248.0V258.0M334.90 226.5V257.9M335.20 240.6V257.9M335.50 244.6V257.9M335.80 240.4V257.8M336.10 244.2V257.8M336.40 246.5V257.8M337.00 241.5V257.7M337.30 247.9V257.7M337.90 246.7V257.6M338.20 238.7V257.6M338.50 243.3V257.6M339.40 239.6V257.5M340.00 242.3V257.5M340.30 247.8V257.4M340.60 245.5V257.4M340.90 237.8V257.4M341.20 244.2V257.3M341.50 239.3V257.3M341.80 243.4V257.3M342.10 247.4V257.3M343.00 238.6V257.2M343.30 244.8V257.2M343.60 233.5V257.1M343.90 244.1V257.1M344.20 245.6V257.1M344.50 245.1V257.0M345.10 242.0V257.0M345.40 248.2V256.9M346.00 244.9V256.9M347.50 248.3V256.7M348.10 237.8V256.6M348.40 242.7V256.5M349.60 237.7V256.4M350.80 231.7V256.2M351.10 245.0V256.2M351.40 237.2V256.1M351.70 245.5V256.1M352.30 247.5V256.0M354.40 239.8V255.7M354.70 245.0V255.7M355.00 229.7V255.7M355.30 238.4V255.6M355.60 247.0V255.6M355.90 241.9V255.5M356.50 244.2V255.5M357.10 237.7V255.4M357.40 242.8V255.3M357.70 234.4V255.3M358.00 238.4V255.3M358.30 224.6V255.2M358.60 239.2V255.2M358.90 243.8V255.1M360.10 241.6V255.0M360.40 244.0V254.9M361.60 244.4V254.5M361.90 239.8V254.4M362.50 237.9V254.2M364.00 241.4V253.7M364.30 239.8V253.6M364.60 243.2V253.5M366.10 241.8V253.0M366.40 241.1V252.9M366.70 244.0V252.8M367.00 241.3V252.7M367.90 242.4V252.4M368.20 240.4V252.3M368.50 243.6V252.2M369.10 236.6V252.0M369.40 231.2V251.9M369.70 239.0V251.8M370.00 236.2V251.7M370.30 237.9V251.6M370.60 234.3V251.5M371.20 237.8V251.3M372.10 241.9V251.1M372.70 226.9V251.4M373.00 242.6V251.6M373.30 235.7V251.8M373.60 234.5V252.0M373.90 242.7V252.2M374.20 240.8V252.4M374.50 240.6V252.6M375.10 239.3V253.0M375.40 235.8V253.2M375.70 243.8V253.4M376.60 241.5V253.9M376.90 236.1V254.1M377.50 235.9V254.5M377.80 235.6V254.7M378.40 237.6V255.1M379.00 243.1V255.5M379.30 245.6V255.6M379.60 236.3V255.8M379.90 243.3V256.0M380.20 239.1V256.2M380.50 246.2V256.4M381.10 247.8V256.8M381.40 241.8V257.0M381.70 234.1V257.2M382.60 246.4V257.7M382.90 248.4V257.9M384.10 243.7V259.3M384.70 244.8V259.9M385.00 248.9V260.3M385.30 251.4V260.6M385.60 238.4V261.0M386.20 250.0V261.7M387.10 240.9V262.7M387.40 253.8V263.0M387.70 248.8V263.4M388.00 253.1V263.7M388.90 252.5V264.7M389.20 249.6V265.1M389.50 253.3V265.4M389.80 248.8V265.8M390.10 251.5V266.0M391.90 255.0V265.8M392.50 256.2V265.7M393.70 255.4V265.6M394.30 247.9V265.6M395.20 255.6V265.5M395.50 256.9V265.4M396.10 248.2V265.4M396.70 246.5V265.3M397.30 255.6V265.3M397.90 248.9V265.2M398.20 254.2V265.2M398.50 255.3V265.1M399.70 249.4V265.0M400.00 255.0V265.0M400.30 248.5V264.7M400.60 251.6V264.4M401.50 253.9V263.5M401.80 244.9V263.2M402.40 251.8V262.6M403.00 250.0V262.0M403.90 245.1V261.1M404.80 240.4V260.2M405.10 248.6V259.9M405.40 246.4V259.6M406.00 248.7V259.0M406.30 249.6V258.7M406.60 243.6V258.4M406.90 242.0V258.1M407.20 237.3V257.8M407.50 244.9V257.5M407.80 230.9V257.2M408.10 246.5V256.9M408.40 245.5V256.4M408.70 241.5V256.0M409.00 246.8V255.6M409.30 239.5V255.1M409.90 241.4V254.3M410.80 239.3V253.0M411.10 243.4V252.6M412.00 239.2V251.3M412.30 235.4V250.9M412.60 234.1V250.4M413.20 235.8V249.6M413.80 231.8V248.7M414.70 219.0V247.4M415.30 233.9V246.6M416.50 235.5V245.2M416.80 216.2V244.8M417.10 234.0V244.5M418.60 222.3V242.7M418.90 227.0V242.3M419.20 231.4V242.0M419.50 224.3V241.6M419.80 215.2V241.2M420.10 232.8V241.1M420.70 227.0V241.9M421.30 228.8V242.6M421.60 220.1V243.0M422.20 226.5V243.8M423.40 235.4V245.3M424.00 237.8V246.0M424.30 230.7V246.4M424.60 229.3V246.8M424.90 235.3V247.1M425.20 234.8V247.5M425.80 238.2V248.3M426.10 231.7V248.6M426.40 235.4V249.0M426.70 232.3V249.4M427.60 238.3V250.5M427.90 240.2V250.9M428.20 240.0V251.1M428.50 225.7V251.4M428.80 231.0V251.6M429.10 232.8V251.8M429.70 231.5V252.2M430.30 239.9V252.6M430.90 239.7V253.0M431.50 244.0V253.5M431.80 236.8V253.7M432.10 233.7V253.9M432.40 242.1V254.1M432.70 229.0V254.3M433.30 244.4V254.7M433.60 242.0V255.0M433.90 241.0V255.2M434.20 235.6V255.4M435.10 235.1V256.0M435.40 245.4V256.2M435.70 238.0V256.4M436.00 218.6V256.6M436.30 245.4V256.9M437.20 239.9V257.5M438.10 245.4V258.1M438.40 240.2V258.3M439.00 246.3V258.8M439.30 240.7V259.0M440.50 248.9V259.8M440.80 245.5V260.0M441.10 243.4V260.2M441.40 246.7V260.5M442.00 249.5V260.9M442.30 237.4V261.1M442.90 249.4V261.5M443.20 242.1V261.7M443.80 249.6V262.2M444.40 246.8V262.6M445.00 247.9V263.0M445.60 251.0V263.3M445.90 249.7V263.5M446.80 254.2V264.0M447.40 251.6V264.3M447.70 251.3V264.4M448.30 251.0V264.8M448.60 254.1V264.9M448.90 253.9V265.1M450.10 257.0V265.7M450.40 246.6V265.9M450.70 254.8V266.0M451.30 256.2V266.4M451.60 258.1V266.5M451.90 255.4V266.7M452.80 248.7V267.2M453.10 243.3V267.3M454.00 259.2V267.8M454.30 244.5V268.0M455.20 257.2V268.4M455.50 258.5V268.6M456.40 255.8V269.1M457.00 256.6V269.4M457.30 251.3V269.6M458.50 257.5V270.2M458.80 257.8V270.4M459.40 257.0V270.7M459.70 254.6V270.8M460.00 250.1V271.0M460.30 257.1V271.1M460.90 254.8V271.3M461.20 252.8V271.4M461.50 254.6V271.5M462.10 257.5V271.6M462.40 260.9V271.7M463.00 260.3V271.9M463.30 260.9V272.0M464.50 249.0V272.4M465.70 263.6V272.8M466.00 253.2V272.8M466.30 252.8V272.9M466.60 257.3V273.0M467.20 261.5V273.2M467.50 259.3V273.3M467.80 257.6V273.4M468.70 259.7V273.7M469.30 264.7V273.9M469.60 263.1V274.0M469.90 261.5V274.0M470.20 263.5V274.1M470.50 259.2V274.2M471.70 260.8V274.6M472.60 249.8V274.9M473.20 262.8V275.0M473.50 262.1V275.0" stroke="#2e3192" stroke-width="0.5" stroke-opacity="0.95" fill="none"/>
<path d="M334.30 250.9V258.0M334.60 247.9V257.9M334.90 248.0V257.9M335.20 248.9V257.9M335.50 251.5V257.9M335.80 246.8V257.8M336.10 251.4V257.8M336.70 250.1V257.8M337.30 244.9V257.7M337.60 252.3V257.7M337.90 250.0V257.6M338.20 248.1V257.6M338.50 250.6V257.6M339.10 252.1V257.5M339.40 247.7V257.5M339.70 246.6V257.5M340.00 245.3V257.5M340.90 251.3V257.4M341.20 251.8V257.3M341.50 249.1V257.3M342.10 243.2V257.3M342.40 250.0V257.2M343.00 246.9V257.2M343.30 250.5V257.2M343.60 248.1V257.1M343.90 247.6V257.1M345.10 250.0V257.0M345.40 243.8V256.9M345.70 249.5V256.9M346.60 243.3V256.8M346.90 250.2V256.7M347.50 250.8V256.7M348.10 251.2V256.6M348.70 246.0V256.5M349.30 248.3V256.4M349.60 249.5V256.4M350.50 249.8V256.3M350.80 249.5V256.2M351.10 244.8V256.2M351.40 247.2V256.1M351.70 250.9V256.1M352.30 250.3V256.0M353.20 250.3V255.9M353.80 247.5V255.8M354.40 247.9V255.7M354.70 245.8V255.7M355.00 248.8V255.7M355.30 248.7V255.6M355.90 249.0V255.5M356.20 246.1V255.5M356.50 249.6V255.5M356.80 248.8V255.4M357.10 250.1V255.4M357.70 245.8V255.3M358.90 249.4V255.1M359.20 248.4V255.1M359.80 247.5V255.0M360.10 248.1V255.0M360.40 249.7V254.9M360.70 246.0V254.8M361.00 245.2V254.7M361.30 246.7V254.6M361.60 247.6V254.5M361.90 246.9V254.4M362.50 239.1V254.2M362.80 247.8V254.1M363.40 247.7V253.9M364.00 243.9V253.7M364.60 240.1V253.5M364.90 242.9V253.4M365.20 245.6V253.3M365.50 239.8V253.2M365.80 246.4V253.1M366.10 243.9V253.0M366.70 247.3V252.8M367.00 242.8V252.7M367.30 245.0V252.6M367.60 241.1V252.5M367.90 247.3V252.4M368.20 243.7V252.3M368.50 244.6V252.2M369.40 244.6V251.9M370.00 243.5V251.7M370.60 244.4V251.5M371.50 241.6V251.2M371.80 245.2V251.1M372.10 242.3V251.1M372.70 240.6V251.4M373.00 245.5V251.6M373.30 237.6V251.8M373.60 244.5V252.0M375.10 246.5V253.0M375.40 244.2V253.2M375.70 244.5V253.4M376.00 245.1V253.5M376.60 248.4V253.9M377.20 244.5V254.3M377.50 244.8V254.5M377.80 248.3V254.7M378.10 241.7V254.9M378.70 247.8V255.3M379.00 247.0V255.5M379.30 250.0V255.6M379.60 247.0V255.8M380.20 250.3V256.2M382.00 251.7V257.4M382.30 249.6V257.6M382.60 246.2V257.7M383.20 251.7V258.2M383.50 252.5V258.6M383.80 248.0V258.9M384.10 248.9V259.3M384.40 252.0V259.6M385.00 251.9V260.3M385.30 254.5V260.6M385.60 255.1V261.0M385.90 255.6V261.3M386.20 254.6V261.7M386.50 252.3V262.0M386.80 255.3V262.3M387.40 255.3V263.0M388.00 254.3V263.7M388.30 258.8V264.1M389.80 255.6V265.8M390.40 257.5V266.0M390.70 259.8V265.9M391.00 258.7V265.9M391.30 260.2V265.9M391.60 256.8V265.8M391.90 258.1V265.8M392.20 258.5V265.8M392.50 259.9V265.7M392.80 257.1V265.7M393.10 256.9V265.7M394.00 256.4V265.6M394.90 259.9V265.5M395.20 258.4V265.5M395.50 258.6V265.4M395.80 255.6V265.4M396.40 255.8V265.4M397.30 256.6V265.3M397.60 255.3V265.2M397.90 257.4V265.2M398.20 248.8V265.2M399.70 257.8V265.0M400.30 257.1V264.7M400.60 258.5V264.4M401.20 255.5V263.8M401.50 255.3V263.5M401.80 252.4V263.2M402.10 254.4V262.9M402.40 256.7V262.6M403.30 253.9V261.7M403.60 253.6V261.4M403.90 251.9V261.1M404.20 252.9V260.8M404.50 253.7V260.5M404.80 252.3V260.2M405.10 251.9V259.9M405.70 253.2V259.3M406.30 252.3V258.7M406.90 250.2V258.1M407.20 247.4V257.8M407.50 249.4V257.5M407.80 249.6V257.2M408.10 248.1V256.9M409.00 247.8V255.6M409.30 249.5V255.1M409.60 247.9V254.7M409.90 243.3V254.3M410.20 245.9V253.9M410.80 247.0V253.0M411.70 243.7V251.7M412.00 243.8V251.3M412.30 235.8V250.9M412.60 244.2V250.4M413.20 240.4V249.6M414.10 237.3V248.3M414.40 238.6V247.9M414.70 241.4V247.4M415.00 239.0V247.0M415.30 240.3V246.6M416.50 238.2V245.2M417.10 235.2V244.5M417.40 238.5V244.1M417.70 233.6V243.8M418.30 230.4V243.0M418.60 233.1V242.7M418.90 235.2V242.3M419.20 228.9V242.0M419.50 233.1V241.6M420.40 236.0V241.5M420.70 235.6V241.9M421.00 233.9V242.3M421.30 234.6V242.6M421.60 234.0V243.0M421.90 234.6V243.4M422.50 237.7V244.1M422.80 237.5V244.5M423.40 236.8V245.3M423.70 231.8V245.6M424.30 236.0V246.4M424.60 235.3V246.8M424.90 237.8V247.1M425.20 240.1V247.5M425.50 241.1V247.9M425.80 242.4V248.3M426.40 241.4V249.0M427.00 241.3V249.8M427.30 243.5V250.1M427.60 245.0V250.5M427.90 245.5V250.9M428.20 245.7V251.1M428.50 239.3V251.4M428.80 238.9V251.6M429.10 241.6V251.8M429.70 243.0V252.2M430.00 243.5V252.4M430.30 246.8V252.6M430.60 237.0V252.8M431.50 245.8V253.5M431.80 245.7V253.7M432.40 247.2V254.1M432.70 248.6V254.3M433.00 246.2V254.5M433.90 244.6V255.2M434.50 246.8V255.6M434.80 250.0V255.8M435.40 243.5V256.2M435.70 245.6V256.4M436.00 250.9V256.6M436.30 249.9V256.9M436.60 242.8V257.1M437.20 250.5V257.5M437.50 250.7V257.7M437.80 250.0V257.9M438.40 249.7V258.3M438.70 251.1V258.6M439.00 248.6V258.8M439.30 251.8V259.0M439.60 252.5V259.2M439.90 254.0V259.4M440.20 251.3V259.6M440.50 244.9V259.8M440.80 251.0V260.0M441.10 249.2V260.2M441.40 252.0V260.5M441.70 252.3V260.7M442.00 255.6V260.9M442.30 254.4V261.1M442.60 254.2V261.3M443.50 252.4V261.9M443.80 254.9V262.2M444.10 256.9V262.4M444.40 257.2V262.6M444.70 255.7V262.8M445.00 255.1V263.0M445.30 248.0V263.2M445.60 257.4V263.3M446.20 257.1V263.6M446.50 257.1V263.8M446.80 251.1V264.0M447.10 257.0V264.1M447.40 257.0V264.3M447.70 255.6V264.4M448.00 254.0V264.6M448.60 257.1V264.9M448.90 255.9V265.1M449.80 260.1V265.6M450.10 255.1V265.7M450.70 256.5V266.0M451.30 249.2V266.4M451.90 259.1V266.7M452.20 255.3V266.8M452.50 256.9V267.0M452.80 259.6V267.2M453.70 262.3V267.6M454.00 257.6V267.8M454.30 260.2V268.0M454.90 255.7V268.3M455.20 260.6V268.4M456.10 263.3V268.9M456.40 261.2V269.1M456.70 261.3V269.2M457.00 260.6V269.4M457.30 260.2V269.6M457.60 262.0V269.7M458.20 264.6V270.0M458.80 264.5V270.4M459.10 262.7V270.5M459.70 263.0V270.8M460.00 260.3V271.0M460.30 263.1V271.1M460.90 260.8V271.3M461.20 263.1V271.4M461.80 264.6V271.6M462.40 258.1V271.7M463.00 264.3V271.9M463.60 264.6V272.1M463.90 264.1V272.2M464.20 261.9V272.3M464.80 265.3V272.5M465.10 264.3V272.6M465.40 266.0V272.7M465.70 264.0V272.8M466.60 267.8V273.0M466.90 266.6V273.1M467.20 266.4V273.2M467.50 266.0V273.3M468.10 266.6V273.5M468.40 263.2V273.6M469.30 264.3V273.9M469.60 267.8V274.0M469.90 265.8V274.0M470.20 262.1V274.1M470.50 267.6V274.2M470.80 267.2V274.3M471.10 265.4V274.4M471.40 268.8V274.5M471.70 267.0V274.6M472.00 263.3V274.7M472.30 261.3V274.8M472.60 268.6V274.9M472.90 263.8V275.0M473.20 269.1V275.0M473.50 260.4V275.0" stroke="#2e3192" stroke-width="0.5" stroke-opacity="0.95" fill="none"/>
<path d="M335.20 298.3V302.6M337.00 299.2V305.5M337.30 298.4V304.2M338.50 296.3V301.6M338.80 296.8V303.4M339.70 296.8V302.4M340.00 297.1V302.3M340.60 298.6V303.5M341.50 297.1V305.4M341.80 294.9V302.6M342.70 297.2V303.4M343.00 299.1V300.3M343.30 298.2V303.3M343.60 298.3V305.4M343.90 290.1V304.7M346.90 297.4V303.7M347.20 297.9V301.6M347.50 298.4V300.7M347.80 297.0V302.4M348.10 293.2V299.9M349.30 297.6V300.0M349.60 295.4V304.2M350.20 295.8V300.5M351.40 297.0V305.7M351.70 294.4V299.3M352.30 296.7V302.9M352.90 297.0V299.6M353.20 296.9V302.2M354.10 295.3V299.7M354.70 289.7V301.8M355.30 293.3V301.3M355.90 296.6V300.6M356.80 295.3V302.4M357.70 296.5V304.3M358.60 296.4V300.0M358.90 297.0V302.9M359.20 294.3V301.3M359.80 295.9V300.9M360.10 295.4V305.3M360.40 294.3V296.7M361.90 296.9V299.9M362.80 296.9V297.9M364.30 294.7V301.1M364.60 297.1V301.3M365.20 297.2V309.4M365.80 293.7V302.6M366.40 296.2V305.6M366.70 292.2V304.7M367.30 297.9V301.3M367.60 295.9V303.2M367.90 294.1V305.6M369.70 295.9V302.9M370.00 297.3V303.1M370.30 298.1V303.7M373.90 296.0V300.4M374.20 299.2V301.9M374.80 299.4V304.3M375.10 299.0V304.8M376.60 298.1V302.2M378.10 295.0V303.7M378.40 299.0V304.2M378.70 296.4V304.2M379.00 299.9V306.0M379.30 299.5V304.9M379.60 299.4V305.1M380.20 299.9V302.1M382.00 296.5V303.2M382.90 301.2V306.1M383.20 296.9V302.4M383.80 299.3V306.2M385.30 298.5V304.6M385.60 301.0V304.2M386.20 298.4V307.0M386.50 301.5V304.3M386.80 299.9V303.9M388.00 298.8V303.9M388.30 300.3V305.3M389.50 300.6V310.4M389.80 300.1V300.7M391.00 299.3V304.5M391.60 299.3V304.0M392.20 300.2V306.2M392.50 297.0V303.5M393.70 299.6V299.1M394.30 297.5V306.4M394.60 298.9V301.6M395.50 299.4V303.4M396.70 295.6V300.5M397.30 297.7V300.9M397.60 296.5V302.1M398.50 295.9V304.2M398.80 295.9V303.9M399.40 296.9V300.5M400.00 294.5V302.2M400.60 292.8V299.9M401.20 295.3V300.4M401.50 295.4V300.2M401.80 294.7V300.9M403.00 290.3V297.4M403.30 292.7V298.1M405.40 286.9V296.9M405.70 291.0V296.4M406.00 290.1V294.4M406.60 285.7V298.8M406.90 284.7V294.2M407.80 287.0V295.9M408.10 289.6V294.5M409.00 287.5V295.7M409.60 287.1V288.5M410.20 287.7V296.3M410.50 283.1V291.6M410.80 285.1V289.3M411.70 286.3V291.2M412.00 286.3V295.2M412.30 284.2V291.4M413.50 285.2V286.9M414.40 280.9V288.0M414.70 283.7V291.5M415.00 284.4V286.0M415.30 281.8V288.4M415.60 284.0V288.1M417.40 282.9V292.8M417.70 282.3V287.8M418.00 283.8V291.0M418.60 281.7V286.9M419.80 279.0V286.5M420.40 279.8V290.0M421.30 282.5V289.4M421.90 281.2V285.3M422.50 284.7V290.5M423.40 284.5V291.3M423.70 281.8V289.0M424.30 286.2V291.2M424.60 284.9V291.6M425.20 283.9V290.6M425.80 286.0V290.9M427.30 282.5V292.0M427.90 288.6V293.3M428.20 289.1V291.5M428.50 290.1V294.3M429.10 288.7V291.9M429.40 289.1V295.3M430.30 291.2V295.8M430.60 289.6V294.2M430.90 286.4V298.2M431.80 292.2V301.1M432.10 288.3V300.2M433.30 291.2V295.9M434.20 293.8V301.9M434.50 295.6V300.1M435.70 295.1V300.6M436.30 296.3V299.9M437.50 295.1V301.5M437.80 296.6V304.4M438.10 296.3V302.8M438.40 297.0V301.0M439.30 297.2V300.8M439.60 295.7V301.5M440.80 298.6V303.9M441.40 294.3V306.7M442.60 296.4V301.3M443.50 297.4V303.7M444.10 298.8V303.2M444.40 299.2V302.6M444.70 298.8V305.0M445.00 298.8V305.4M446.20 300.1V301.9M447.40 300.2V303.2M447.70 297.0V307.7M450.10 302.0V306.8M450.70 298.7V307.5M451.30 302.0V305.7M451.60 300.0V306.0M452.80 302.8V308.0M454.00 302.7V306.4M454.60 302.2V305.3M454.90 303.6V307.6M455.20 303.4V309.5M455.50 297.9V305.7M456.40 300.4V310.0M457.00 300.2V309.5M457.30 301.2V306.4M458.50 303.5V308.4M459.10 297.9V308.5M460.30 296.0V310.1M460.90 304.6V310.3M461.20 303.3V306.5M461.50 303.6V306.5M461.80 303.5V311.2M462.40 301.5V309.6M462.70 303.6V310.2M463.30 303.5V310.2M465.10 304.2V313.0M465.40 305.7V307.6M465.70 299.5V312.3M466.30 306.0V308.6M466.60 305.1V311.8M467.20 305.1V313.1M467.50 304.1V307.8M468.70 303.8V311.7M469.00 304.8V310.4M469.30 306.5V310.4M469.60 304.4V311.2M469.90 304.9V309.1M471.10 307.1V309.6M471.40 305.9V312.8M471.70 304.5V313.3M472.90 304.3V310.8M473.50 305.4V309.1" stroke="#0c0c24" stroke-width="0.5" stroke-opacity="0.9" fill="none"/>
<path d="M334.60 302.5V317.5M335.20 302.5V317.5M337.00 301.7V317.5M338.20 308.8V317.5M341.50 306.2V317.5M347.50 303.0V317.5M349.00 303.1V317.5M351.10 299.4V317.5M353.20 300.5V317.5M355.60 301.0V317.5M356.50 300.7V317.5M359.20 297.9V317.5M360.40 298.1V317.5M361.60 301.5V317.5M364.00 301.4V317.5M366.40 295.8V317.5M371.80 302.1V317.5M375.70 305.9V317.5M378.40 301.8V317.5M379.60 304.3V317.5M379.90 300.2V317.5M382.30 306.3V317.5M382.60 301.6V317.5M384.10 301.6V317.5M385.00 304.1V317.5M389.50 309.7V317.5M391.60 301.9V317.5M398.20 298.7V317.5M403.30 298.4V317.5M403.60 297.6V317.5M404.80 300.0V317.5M406.00 291.8V317.5M406.30 290.8V317.5M406.60 293.6V317.5M407.80 294.3V317.5M411.10 291.3V317.5M412.30 292.1V317.5M413.50 284.7V317.5M414.10 285.9V317.5M419.80 286.8V317.5M420.10 289.1V317.5M420.40 288.2V317.5M422.20 286.9V317.5M424.60 287.5V317.5M425.50 292.9V317.5M427.30 294.7V317.5M428.50 300.0V317.5M432.40 296.3V317.5M435.40 303.4V317.5M439.00 298.1V317.5M442.60 301.1V317.5M443.50 301.1V317.5M443.80 301.7V317.5M445.90 301.5V317.5M446.50 302.5V317.5M447.40 304.1V317.5M448.60 303.5V317.5M451.90 307.5V317.5M453.10 306.0V317.5M456.10 306.9V317.5M457.30 310.8V317.5M457.90 308.1V317.5M461.50 308.5V317.5M463.90 308.6V317.5M465.10 309.1V317.5" stroke="#1ea04a" stroke-width="0.55" stroke-opacity="0.9" fill="none"/>
<path d="M340.90 301.1V317.5M347.50 301.7V317.5M347.80 303.7V317.5M355.00 301.4V317.5M359.50 305.6V317.5M362.20 305.6V317.5M370.60 298.9V317.5M370.90 300.4V317.5M372.40 298.8V317.5M373.00 299.3V317.5M376.90 304.4V317.5M378.10 300.9V317.5M379.00 301.0V317.5M384.40 304.1V317.5M385.90 306.7V317.5M388.00 303.4V317.5M389.50 303.0V317.5M390.70 305.9V317.5M392.80 304.3V317.5M393.10 304.2V317.5M394.90 305.0V317.5M395.80 300.0V317.5M396.70 302.8V317.5M399.70 298.9V317.5M406.00 297.4V317.5M409.00 294.3V317.5M409.60 289.2V317.5M411.10 293.7V317.5M411.40 287.3V317.5M412.00 292.6V317.5M418.30 287.8V317.5M419.80 285.0V317.5M420.40 284.3V317.5M423.40 288.2V317.5M425.20 290.5V317.5M425.80 289.3V317.5M431.20 297.1V317.5M433.60 294.4V317.5M437.50 300.5V317.5M438.70 300.9V317.5M440.20 296.9V317.5M445.30 304.2V317.5M448.30 301.4V317.5M451.60 299.6V317.5M456.10 305.4V317.5M456.70 306.4V317.5M457.00 309.3V317.5M458.20 306.2V317.5M459.70 311.3V317.5M460.90 311.5V317.5M465.10 311.6V317.5M465.70 312.4V317.5M468.10 310.6V317.5M470.80 309.0V317.5M473.20 312.5V317.5" stroke="#2cbf62" stroke-width="0.55" stroke-opacity="0.9" fill="none"/>
<path d="M340.90 303.0V317.5M344.50 302.6V317.5M348.10 300.4V317.5M351.40 301.1V317.5M353.80 300.4V317.5M355.30 302.3V317.5M357.40 299.8V317.5M368.20 303.8V317.5M369.70 297.3V317.5M371.20 304.8V317.5M375.40 302.3V317.5M384.10 307.5V317.5M385.00 305.1V317.5M388.90 306.1V317.5M395.20 306.3V317.5M402.10 297.0V317.5M403.30 297.5V317.5M405.40 295.0V317.5M406.60 294.9V317.5M414.70 283.8V317.5M415.90 287.2V317.5M417.40 286.8V317.5M422.20 286.0V317.5M426.10 290.8V317.5M429.70 290.6V317.5M431.20 299.2V317.5M437.20 301.5V317.5M445.00 307.9V317.5M445.60 301.4V317.5M447.10 301.2V317.5M451.30 306.4V317.5M454.00 302.3V317.5M458.20 307.9V317.5M460.00 306.0V317.5M464.50 308.0V317.5M468.10 310.3V317.5M471.10 310.6V317.5" stroke="#168a3e" stroke-width="0.55" stroke-opacity="0.9" fill="none"/>
<path d="M341.20 303.1V317.5M344.80 297.8V317.5M348.40 299.2V317.5M359.50 298.3V317.5M361.00 300.2V317.5M361.60 296.8V317.5M363.10 303.1V317.5M363.40 299.7V317.5M366.10 300.2V317.5M373.00 301.2V317.5M385.90 303.0V317.5M394.60 300.2V317.5M395.80 305.2V317.5M399.10 301.4V317.5M403.00 297.2V317.5M403.30 299.7V317.5M413.80 286.3V317.5M415.30 289.2V317.5M416.50 287.5V317.5M417.70 285.1V317.5M427.00 293.9V317.5M427.30 288.6V317.5M430.90 297.0V317.5M431.50 293.7V317.5M431.80 297.2V317.5M432.40 300.1V317.5M438.40 302.1V317.5M439.90 299.8V317.5M441.70 301.9V317.5M444.10 302.0V317.5M455.50 303.7V317.5M459.70 304.9V317.5M465.10 308.9V317.5M466.00 310.4V317.5M467.80 305.2V317.5M468.70 309.6V317.5M469.60 311.2V317.5" stroke="#3cc874" stroke-width="0.55" stroke-opacity="0.9" fill="none"/>
<path d="M334.30 296.1V314.6M335.20 300.9V311.5M335.50 296.3V303.9M335.80 304.3V310.0M336.40 302.0V307.2M336.70 301.9V312.0M338.20 299.1V308.8M338.50 298.2V308.1M339.70 299.9V308.9M340.30 300.3V309.5M341.20 298.7V308.4M343.60 300.2V307.5M344.50 301.2V307.7M344.80 301.0V309.4M346.30 297.6V304.7M346.60 295.4V307.8M347.20 299.5V307.4M347.80 298.2V306.3M348.10 300.3V309.6M348.40 302.5V303.9M349.90 302.3V306.3M351.40 299.5V304.8M351.70 301.1V308.6M353.20 301.9V305.6M353.80 298.7V307.0M354.40 299.1V307.8M355.60 300.0V302.1M356.50 298.2V307.7M357.10 297.3V304.3M357.70 296.7V305.6M358.90 298.0V305.8M360.40 296.7V308.3M362.20 299.7V308.4M362.80 297.7V311.4M363.70 301.2V307.1M364.30 300.9V305.4M364.90 296.3V305.4M365.20 300.8V308.7M366.10 298.1V311.5M366.70 301.6V308.1M370.30 300.5V306.1M372.10 299.8V308.8M372.40 301.2V308.8M373.30 299.1V308.4M375.10 301.2V306.6M375.40 301.4V301.7M376.60 300.6V307.6M377.20 301.8V312.1M377.50 299.2V309.9M380.20 302.8V303.7M381.10 299.6V310.1M381.70 303.3V305.1M382.60 303.2V316.0M382.90 303.7V311.0M383.50 301.4V307.3M384.10 308.4V313.0M384.40 302.3V308.7M384.70 303.1V312.5M385.60 301.3V310.9M385.90 305.4V307.5M386.20 301.7V312.6M386.50 304.4V306.9M387.40 300.5V314.2M387.70 302.8V310.5M388.60 301.3V307.3M389.50 303.6V304.9M390.10 301.1V314.4M391.00 299.9V313.7M391.90 302.1V305.9M394.30 298.5V313.5M395.50 298.6V309.0M395.80 301.9V307.9M396.10 296.8V308.2M397.60 301.4V307.3M397.90 299.2V312.0M398.50 297.7V308.0M399.70 298.9V301.4M400.00 299.3V312.1M400.30 296.8V308.5M401.50 296.5V301.9M402.10 297.8V303.4M402.40 297.5V301.6M404.50 294.1V302.4M404.80 292.5V303.2M405.10 291.9V302.5M407.20 290.7V298.3M407.80 292.6V297.2M408.70 291.6V301.0M409.60 290.3V297.6M411.10 291.1V302.8M412.30 286.8V293.2M413.20 285.9V296.9M414.10 285.2V294.1M414.40 289.5V291.8M414.70 281.9V297.7M415.90 286.2V294.1M416.20 286.5V291.2M416.50 285.7V292.7M417.70 289.8V296.3M418.00 287.6V290.0M418.30 286.8V297.2M418.60 283.6V295.3M418.90 286.2V292.5M420.40 284.3V296.9M421.30 285.3V298.2M421.60 285.8V295.2M422.20 285.1V294.5M422.80 287.7V299.7M425.50 291.9V301.1M426.40 291.5V295.0M428.50 291.8V298.9M429.10 288.3V299.4M429.40 294.2V299.1M430.00 294.7V296.5M430.30 292.6V303.5M430.60 292.3V301.5M431.80 295.5V302.6M432.10 293.0V306.5M434.80 298.4V303.4M435.40 295.4V305.3M435.70 296.0V306.5M436.60 298.2V305.0M437.20 295.7V306.1M437.80 298.6V308.8M438.70 300.0V307.0M439.30 296.7V311.0M440.50 301.4V305.6M441.40 298.9V308.6M441.70 301.1V304.1M442.30 300.7V308.0M444.40 300.3V307.2M444.70 300.3V313.1M445.30 298.3V311.6M445.60 300.3V311.0M446.50 300.5V315.1M448.30 305.7V314.7M448.60 304.6V312.8M448.90 300.2V308.9M449.50 304.5V307.0M451.60 304.3V311.8M453.10 303.5V311.3M453.70 305.2V310.6M454.30 306.0V311.7M454.90 303.6V308.0M455.20 304.2V316.9M455.80 305.2V309.7M456.70 303.2V311.2M457.00 305.5V314.8M458.50 305.3V308.9M458.80 304.3V316.2M459.70 304.2V316.4M461.20 306.7V313.2M461.50 307.8V311.1M461.80 306.9V312.9M462.70 304.9V309.2M463.90 308.1V318.7M464.50 307.2V315.0M466.90 308.6V313.4M469.00 310.2V313.4M469.90 306.5V317.8M470.50 308.1V320.6M470.80 307.3V312.8M473.50 307.4V315.4" stroke="#0a140e" stroke-width="0.5" stroke-opacity="0.85" fill="none"/>
<path d="M334.00 312.7V318.8M334.30 312.6V318.8M334.60 314.9V318.8M335.20 307.8V318.8M335.80 310.1V318.8M336.70 316.1V318.8M337.00 307.3V318.8M337.60 317.1V318.8M337.90 315.2V318.8M338.20 313.5V318.8M338.80 315.2V318.8M339.40 315.0V318.8M340.00 313.6V318.8M340.90 307.3V318.8M341.80 313.6V318.8M342.40 317.3V318.8M343.00 316.6V318.8M343.30 303.8V318.8M343.60 312.7V318.8M343.90 313.5V318.8M344.80 312.9V318.8M345.10 314.5V318.8M345.40 308.0V318.8M345.70 315.0V318.8M346.30 315.0V318.8M346.60 314.6V318.8M347.20 317.0V318.8M347.50 315.4V318.8M347.80 307.9V318.8M348.10 313.9V318.8M348.40 310.4V318.8M349.00 313.5V318.8M349.60 314.4V318.8M349.90 316.9V318.8M350.20 314.2V318.8M350.50 306.9V318.8M351.10 310.0V318.8M351.40 305.2V318.8M351.70 305.8V318.8M352.90 313.7V318.8M353.50 314.5V318.8M353.80 317.5V318.8M354.10 313.1V318.8M355.60 313.6V318.8M356.20 312.0V318.8M357.10 304.8V318.8M357.40 313.8V318.8M358.60 314.1V318.8M359.80 311.1V318.8M360.40 313.8V318.8M360.70 314.6V318.8M361.00 315.3V318.8M361.30 313.2V318.8M361.60 311.8V318.8M362.20 315.8V318.8M362.50 314.8V318.8M363.10 313.0V318.8M363.40 315.7V318.8M363.70 309.6V318.8M364.00 309.4V318.8M364.60 314.2V318.8M365.80 303.8V318.8M366.10 308.9V318.8M367.00 311.1V318.8M367.60 311.8V318.8M367.90 307.8V318.8M368.20 305.8V318.8M368.50 311.5V318.8M368.80 303.8V318.8M369.70 313.0V318.8M370.30 314.8V318.8M370.60 315.5V318.8M371.50 314.5V318.8M372.40 313.8V318.8M372.70 314.3V318.8M373.00 314.9V318.8M374.20 310.8V318.8M374.50 316.3V318.8M374.80 316.4V318.8M375.10 313.2V318.8M375.40 314.2V318.8M375.70 315.6V318.8M376.00 303.8V318.8M376.30 314.0V318.8M376.60 311.8V318.8M377.20 316.3V318.8M377.80 303.8V318.8M378.10 314.3V318.8M378.40 309.3V318.8M379.30 312.4V318.8M380.50 310.8V318.8M380.80 314.9V318.8M381.10 317.5V318.8M381.70 316.7V318.8M382.00 305.4V318.8M382.60 311.1V318.8M383.50 310.7V318.8M384.10 314.8V318.8M384.40 314.2V318.8M384.70 314.4V318.8M385.30 316.1V318.8M385.60 310.4V318.8M386.50 315.2V318.8M386.80 316.9V318.8M387.70 313.0V318.8M388.00 313.6V318.8M388.30 315.1V318.8M388.60 312.3V318.8M389.20 310.9V318.8M390.10 308.3V318.8M391.00 314.9V318.8M391.30 315.2V318.8M391.60 310.5V318.8M391.90 313.0V318.8M392.20 314.4V318.8M392.50 309.7V318.8M392.80 306.9V318.8M394.30 310.5V318.8M394.60 315.8V318.8M394.90 317.6V318.8M395.20 309.4V318.8M395.50 314.1V318.8M395.80 313.5V318.8M396.40 303.8V318.8M396.70 309.6V318.8M397.00 312.5V318.8M397.60 313.2V318.8M397.90 316.8V318.8M398.20 310.9V318.8M399.40 313.7V318.8M400.60 311.8V318.8M401.20 306.8V318.8M401.50 315.3V318.8M402.10 311.3V318.8M405.10 317.3V318.8M405.40 317.1V318.8M405.70 311.8V318.8M406.30 309.8V318.8M406.60 315.2V318.8M407.20 308.2V318.8M407.50 313.3V318.8M409.00 308.4V318.8M410.20 315.4V318.8M410.50 315.6V318.8M410.80 307.8V318.8M411.10 306.9V318.8M411.70 315.7V318.8M412.60 306.5V318.8M412.90 311.7V318.8M413.20 315.9V318.8M413.80 315.5V318.8M414.40 313.5V318.8M415.30 313.9V318.8M415.90 309.6V318.8M416.50 314.1V318.8M417.10 316.9V318.8M417.40 309.3V318.8M418.60 303.8V318.8M419.20 317.0V318.8M419.50 309.1V318.8M420.70 316.8V318.8M421.60 310.7V318.8M422.20 314.4V318.8M422.50 316.2V318.8M422.80 312.9V318.8M423.40 315.2V318.8M423.70 305.0V318.8M424.00 313.8V318.8M424.60 312.1V318.8M425.20 313.1V318.8M425.50 309.7V318.8M425.80 315.2V318.8M426.10 303.8V318.8M426.40 312.4V318.8M427.90 312.3V318.8M428.20 313.0V318.8M428.50 312.5V318.8M429.40 314.1V318.8M429.70 314.5V318.8M430.00 314.2V318.8M431.20 312.1V318.8M431.50 308.8V318.8M431.80 311.9V318.8M432.10 313.7V318.8M432.40 311.4V318.8M433.60 309.2V318.8M436.00 311.1V318.8M436.30 304.6V318.8M436.60 313.0V318.8M436.90 312.9V318.8M437.20 314.9V318.8M437.50 315.3V318.8M437.80 312.2V318.8M439.00 314.2V318.8M440.20 310.4V318.8M440.50 313.8V318.8M440.80 312.7V318.8M441.10 303.8V318.8M441.70 309.5V318.8M442.00 308.6V318.8M442.30 315.2V318.8M444.40 315.6V318.8M444.70 314.4V318.8M445.90 307.7V318.8M446.50 315.7V318.8M447.10 312.8V318.8M447.40 305.3V318.8M447.70 314.3V318.8M448.00 313.0V318.8M448.30 310.6V318.8M448.60 316.7V318.8M448.90 307.2V318.8M449.50 314.0V318.8M449.80 314.0V318.8M450.40 316.9V318.8M451.30 315.2V318.8M452.20 317.6V318.8M452.50 307.6V318.8M453.10 306.5V318.8M453.40 315.4V318.8M454.60 308.6V318.8M455.20 311.3V318.8M455.50 315.6V318.8M455.80 315.9V318.8M456.10 316.9V318.8M456.70 316.7V318.8M457.00 311.0V318.8M458.20 303.8V318.8M459.40 311.2V318.8M460.00 317.1V318.8M460.30 314.4V318.8M460.60 313.6V318.8M461.20 316.6V318.8M461.80 315.7V318.8M462.10 312.0V318.8M462.70 314.3V318.8M463.60 315.3V318.8M463.90 317.0V318.8M464.80 309.6V318.8M465.10 311.7V318.8M465.40 303.8V318.8M465.70 316.5V318.8M466.00 310.8V318.8M466.60 310.5V318.8M466.90 312.8V318.8M467.80 315.4V318.8M468.40 314.6V318.8M469.60 313.2V318.8M469.90 317.2V318.8M470.50 310.5V318.8M471.10 313.0V318.8M471.40 314.3V318.8M471.70 312.8V318.8M472.00 312.9V318.8M472.90 311.6V318.8M473.20 312.6V318.8" stroke="#ffffff" stroke-width="0.6" stroke-opacity="0.92" fill="none"/>
<path d="M335.80 317.1V318.8M336.40 312.3V318.8M337.00 315.4V318.8M337.30 314.4V318.8M346.00 314.0V318.8M347.50 310.9V318.8M350.80 316.3V318.8M352.30 309.6V318.8M354.70 314.6V318.8M355.30 317.0V318.8M356.20 316.9V318.8M356.50 317.6V318.8M358.30 315.5V318.8M358.90 313.1V318.8M361.90 310.1V318.8M367.00 311.8V318.8M369.40 314.6V318.8M373.00 303.8V318.8M374.80 311.8V318.8M375.40 315.2V318.8M376.30 315.2V318.8M379.30 304.3V318.8M381.10 313.1V318.8M385.60 315.7V318.8M391.30 315.1V318.8M393.10 315.9V318.8M397.90 316.6V318.8M400.30 316.8V318.8M400.60 316.7V318.8M410.50 315.2V318.8M412.30 309.9V318.8M414.40 317.3V318.8M416.80 317.7V318.8M419.20 315.2V318.8M420.40 314.0V318.8M422.20 305.3V318.8M422.80 305.7V318.8M424.00 315.7V318.8M425.80 309.2V318.8M426.10 313.8V318.8M430.00 316.6V318.8M430.60 316.3V318.8M432.10 315.0V318.8M433.30 307.6V318.8M433.60 313.8V318.8M440.80 309.0V318.8M441.40 315.4V318.8M445.00 310.1V318.8M447.70 315.7V318.8M450.70 311.5V318.8M453.10 313.8V318.8M455.80 314.0V318.8M470.20 316.6V318.8M471.10 316.7V318.8M471.40 310.9V318.8" stroke="#f4c8c8" stroke-width="0.6" stroke-opacity="0.92" fill="none"/>
<path d="M339.10 315.1V318.8M339.40 310.5V318.8M344.50 308.0V318.8M345.10 312.7V318.8M346.90 314.0V318.8M355.60 307.2V318.8M359.50 313.2V318.8M367.00 312.0V318.8M369.70 314.3V318.8M371.20 311.6V318.8M379.90 310.8V318.8M381.40 315.2V318.8M383.20 316.4V318.8M385.00 313.5V318.8M385.30 316.3V318.8M392.80 313.4V318.8M398.50 307.8V318.8M401.20 313.8V318.8M405.70 317.6V318.8M406.30 315.6V318.8M408.70 312.0V318.8M409.00 312.1V318.8M409.90 315.2V318.8M410.50 310.5V318.8M411.40 315.2V318.8M413.20 304.5V318.8M415.30 308.7V318.8M421.30 303.8V318.8M421.90 310.3V318.8M427.30 311.8V318.8M430.60 316.1V318.8M431.50 312.5V318.8M432.10 316.0V318.8M434.80 307.8V318.8M437.80 315.1V318.8M440.20 303.8V318.8M441.40 313.2V318.8M442.60 303.8V318.8M451.00 316.6V318.8M452.20 314.3V318.8M452.50 316.3V318.8M453.10 316.0V318.8M455.20 312.8V318.8M456.10 317.0V318.8M456.40 310.0V318.8M463.90 313.2V318.8M466.30 314.6V318.8M466.60 314.1V318.8M467.20 314.4V318.8M467.50 303.8V318.8M468.40 313.7V318.8M470.50 313.4V318.8M471.10 314.3V318.8M473.20 307.9V318.8M473.50 311.7V318.8" stroke="#b8ecc8" stroke-width="0.6" stroke-opacity="0.92" fill="none"/>
<path d="M334.30 314.5V318.8M341.80 316.5V318.8M354.70 310.4V318.8M364.00 317.0V318.8M364.90 313.0V318.8M373.30 317.0V318.8M382.60 316.4V318.8M386.50 316.7V318.8M394.60 316.2V318.8M395.50 314.2V318.8M399.10 316.3V318.8M401.80 313.9V318.8M403.30 310.9V318.8M410.80 313.3V318.8M417.40 317.3V318.8M421.90 315.0V318.8M428.20 312.4V318.8M444.10 315.2V318.8M445.90 313.3V318.8M446.20 316.2V318.8M447.10 315.1V318.8M457.90 312.0V318.8M462.70 316.6V318.8M463.30 314.6V318.8M469.00 314.9V318.8M469.60 315.4V318.8M472.60 313.4V318.8" stroke="#f0d8b0" stroke-width="0.6" stroke-opacity="0.92" fill="none"/>
<line x1="333.60" y1="208.00" x2="333.60" y2="319.80" stroke="#1e1e1e" stroke-width="1.25"/>
<line x1="330.60" y1="319.30" x2="474.80" y2="319.30" stroke="#1e1e1e" stroke-width="1.25"/>
<line x1="330.60" y1="233.60" x2="333.60" y2="233.60" stroke="#1e1e1e" stroke-width="1.25"/>
<text x="327.40000000000003" y="236.7" font-size="8.8" text-anchor="end" textLength="11.13" lengthAdjust="spacingAndGlyphs" fill="#262626" stroke="#262626" stroke-width="0.14">0.3</text>
<line x1="330.60" y1="276.50" x2="333.60" y2="276.50" stroke="#1e1e1e" stroke-width="1.25"/>
<text x="327.40000000000003" y="279.6" font-size="8.8" text-anchor="end" textLength="11.13" lengthAdjust="spacingAndGlyphs" fill="#262626" stroke="#262626" stroke-width="0.14">0.2</text>
<line x1="330.60" y1="319.30" x2="333.60" y2="319.30" stroke="#1e1e1e" stroke-width="1.25"/>
<text x="327.40000000000003" y="322.40000000000003" font-size="8.8" text-anchor="end" textLength="4.45" lengthAdjust="spacingAndGlyphs" fill="#262626" stroke="#262626" stroke-width="0.14">0</text>
<line x1="350.20" y1="319.30" x2="350.20" y2="321.90" stroke="#1e1e1e" stroke-width="1.25"/>
<text x="350.2" y="331.2" font-size="9" text-anchor="middle" textLength="17.6" lengthAdjust="spacingAndGlyphs" fill="#262626" stroke="#262626" stroke-width="0.14">2050</text>
<line x1="389.00" y1="319.30" x2="389.00" y2="321.90" stroke="#1e1e1e" stroke-width="1.25"/>
<text x="389.0" y="331.2" font-size="9" text-anchor="middle" textLength="17.6" lengthAdjust="spacingAndGlyphs" fill="#262626" stroke="#262626" stroke-width="0.14">2100</text>
<line x1="427.80" y1="319.30" x2="427.80" y2="321.90" stroke="#1e1e1e" stroke-width="1.25"/>
<text x="427.8" y="331.2" font-size="9" text-anchor="middle" textLength="17.6" lengthAdjust="spacingAndGlyphs" fill="#262626" stroke="#262626" stroke-width="0.14">2150</text>
<line x1="466.60" y1="319.30" x2="466.60" y2="321.90" stroke="#1e1e1e" stroke-width="1.25"/>
<text x="466.6" y="331.2" font-size="9" text-anchor="middle" textLength="17.6" lengthAdjust="spacingAndGlyphs" fill="#262626" stroke="#262626" stroke-width="0.14">2200</text>
<text x="404.2" y="344.09999999999997" font-size="9.6" text-anchor="middle" textLength="41.6" lengthAdjust="spacingAndGlyphs" fill="#262626" stroke="#262626" stroke-width="0.14">Mass/charge</text>
<text transform="translate(309.9,263.6) rotate(-90)" font-size="8.8" text-anchor="middle" textLength="64.5" lengthAdjust="spacingAndGlyphs" fill="#262626" stroke="#262626" stroke-width="0.14">Relative abundance</text>
<path d="M334.30 204.60V201.80H387.50V204.60M360.80 201.80V199.30" fill="none" stroke="#2a2a2a" stroke-width="1.1"/>
<text x="361.0" y="195.5" font-size="8.2" text-anchor="middle" textLength="41.8" lengthAdjust="spacingAndGlyphs" fill="#262626" stroke="#262626" stroke-width="0.14">IgG lambda</text>
<path d="M388.40 196.40V193.60H463.80V196.40M426.30 193.60V191.10" fill="none" stroke="#2a2a2a" stroke-width="1.1"/>
<text x="426.0" y="188.0" font-size="8.2" text-anchor="middle" textLength="37.0" lengthAdjust="spacingAndGlyphs" fill="#262626" stroke="#262626" stroke-width="0.14">IgG kappa</text>
<text x="7.3" y="382.2" font-size="11.6" font-weight="bold" fill="#000">E</text>
<polygon points="43.60,460.2 43.90,459.8 44.20,458.8 44.50,459.1 44.80,458.4 45.10,461.8 45.40,458.8 45.70,459.6 46.00,460.4 46.30,457.6 46.60,458.2 46.90,458.6 47.20,458.0 47.50,457.8 47.80,458.5 48.10,460.3 48.40,459.8 48.70,459.1 49.00,459.1 49.30,457.4 49.60,459.8 49.90,459.5 50.20,458.0 50.50,459.3 50.80,458.9 51.10,458.6 51.40,458.1 51.70,458.4 52.00,458.1 52.30,459.6 52.60,459.5 52.90,459.4 53.20,458.9 53.50,458.7 53.80,461.2 54.10,457.3 54.40,460.3 54.70,459.5 55.00,459.2 55.30,458.6 55.60,458.9 55.90,458.0 56.20,457.8 56.50,459.0 56.80,457.5 57.10,460.0 57.40,460.3 57.70,455.7 58.00,457.6 58.30,459.4 58.60,459.4 58.90,459.3 59.20,459.6 59.50,459.9 59.80,460.1 60.10,461.0 60.40,459.2 60.70,460.1 61.00,457.6 61.30,459.1 61.60,458.0 61.90,460.6 62.20,461.6 62.50,459.8 62.80,457.9 63.10,459.1 63.40,459.3 63.70,459.5 64.00,460.3 64.30,460.2 64.60,456.6 64.90,460.6 65.20,458.8 65.50,458.7 65.80,460.7 66.10,459.0 66.40,457.9 66.70,458.0 67.00,459.4 67.30,460.2 67.60,460.8 67.90,459.1 68.20,458.8 68.50,460.9 68.80,458.9 69.10,460.8 69.40,459.6 69.70,459.6 70.00,459.1 70.30,459.6 70.60,458.9 70.90,458.7 71.20,459.2 71.50,458.7 71.80,459.7 72.10,459.5 72.40,459.1 72.70,459.2 73.00,459.2 73.30,461.1 73.60,459.4 73.90,458.8 74.20,459.1 74.50,460.1 74.80,459.2 75.10,459.3 75.40,459.2 75.70,459.6 76.00,459.8 76.30,459.9 76.60,457.8 76.90,458.4 77.20,456.8 77.50,460.2 77.80,460.6 78.10,460.8 78.40,459.6 78.70,460.6 79.00,459.4 79.30,459.3 79.60,457.9 79.90,458.7 80.20,458.9 80.50,460.4 80.80,461.2 81.10,459.1 81.40,459.9 81.70,459.8 82.00,458.8 82.30,457.9 82.60,458.9 82.90,458.2 83.20,459.3 83.50,459.5 83.80,459.5 84.10,459.5 84.40,460.2 84.70,458.8 85.00,460.6 85.30,458.1 85.60,459.8 85.90,460.2 86.20,459.0 86.50,458.2 86.80,460.5 87.10,459.2 87.40,460.6 87.70,460.6 88.00,459.9 88.30,459.9 88.60,460.9 88.90,460.3 89.20,459.0 89.50,460.1 89.80,460.5 90.10,460.2 90.40,460.2 90.70,459.9 91.00,459.9 91.30,459.1 91.60,458.6 91.90,461.2 92.20,459.4 92.50,460.3 92.80,458.6 93.10,460.3 93.40,459.3 93.70,463.1 94.00,459.2 94.30,459.2 94.60,461.1 94.90,461.3 95.20,458.1 95.50,460.5 95.80,461.1 96.10,459.1 96.40,461.0 96.70,459.8 97.00,459.3 97.30,460.0 97.60,459.9 97.90,459.0 98.20,462.6 98.50,459.9 98.80,459.7 99.10,461.3 99.40,460.4 99.70,461.8 100.00,460.2 100.30,460.8 100.60,460.6 100.90,460.7 101.20,460.3 101.50,460.4 101.80,462.2 102.10,459.9 102.40,460.0 102.70,460.3 103.00,461.2 103.30,461.0 103.60,461.6 103.90,459.3 104.20,460.9 104.50,460.5 104.80,460.4 105.10,460.9 105.40,458.8 105.70,461.0 106.00,460.9 106.30,459.4 106.60,460.7 106.90,462.4 107.20,460.4 107.50,461.4 107.80,460.6 108.10,460.1 108.40,460.0 108.70,460.5 109.00,462.2 109.30,461.7 109.60,460.3 109.90,462.0 110.20,460.9 110.50,460.3 110.80,461.4 111.10,460.1 111.40,459.5 111.70,462.3 112.00,459.3 112.30,461.6 112.60,459.6 112.90,461.1 113.20,460.9 113.50,460.7 113.80,459.0 114.10,461.1 114.40,461.2 114.70,460.3 115.00,461.2 115.30,462.2 115.60,460.5 115.90,461.5 116.20,460.1 116.50,461.7 116.80,461.9 117.10,463.8 117.40,462.2 117.70,461.8 118.00,462.8 118.30,460.4 118.60,462.5 118.90,460.9 119.20,460.8 119.50,462.5 119.80,461.7 120.10,462.8 120.40,460.1 120.70,461.8 121.00,461.0 121.30,461.3 121.60,459.7 121.90,462.5 122.20,461.8 122.50,460.6 122.80,460.3 123.10,460.8 123.40,463.0 123.70,461.6 124.00,461.4 124.30,462.2 124.60,461.7 124.90,462.0 125.20,462.5 125.50,462.1 125.80,462.6 126.10,460.6 126.40,461.9 126.70,461.5 127.00,461.9 127.30,461.8 127.60,461.3 127.90,461.5 128.20,462.8 128.50,461.4 128.80,460.7 129.10,462.5 129.40,462.9 129.70,461.7 130.00,462.1 130.30,461.2 130.60,461.8 130.90,463.1 131.20,462.9 131.50,462.2 131.80,461.8 132.10,460.5 132.40,462.4 132.70,462.6 133.00,463.2 133.30,464.2 133.60,462.6 133.90,463.1 134.20,461.1 134.50,463.4 134.80,463.1 135.10,463.6 135.40,462.9 135.70,462.7 136.00,463.8 136.30,461.7 136.60,463.0 136.90,463.4 137.20,461.6 137.50,461.3 137.80,462.8 138.10,462.6 138.40,463.0 138.70,463.1 139.00,461.7 139.30,462.8 139.60,463.6 139.90,462.2 140.20,462.3 140.50,461.5 140.80,463.4 141.10,464.5 141.40,461.3 141.70,463.4 142.00,463.5 142.30,462.1 142.60,462.3 142.90,461.7 143.20,461.9 143.50,462.9 143.80,463.4 144.10,462.9 144.40,463.6 144.70,463.0 145.00,461.7 145.30,464.2 145.60,464.0 145.90,462.2 146.20,464.6 146.50,463.3 146.80,463.0 147.10,464.8 147.40,460.5 147.70,461.4 148.00,463.6 148.30,462.7 148.60,462.1 148.90,464.5 149.20,463.5 149.50,461.8 149.80,462.4 150.10,463.9 150.40,464.8 150.70,461.1 151.00,463.4 151.30,462.8 151.60,461.4 151.90,463.0 152.20,461.6 152.50,462.7 152.80,464.8 153.10,463.7 153.40,464.0 153.70,463.8 154.00,463.6 154.30,464.2 154.60,462.2 154.90,463.0 155.20,464.2 155.50,462.6 155.80,462.9 156.10,464.6 156.40,464.9 156.70,462.8 157.00,462.6 157.30,464.0 157.60,463.7 157.90,462.8 158.20,464.1 158.50,464.1 158.80,463.6 159.10,466.4 159.40,464.9 159.70,464.3 159.70,491.4 159.40,490.9 159.10,492.0 158.80,491.4 158.50,492.1 158.20,492.1 157.90,492.6 157.60,492.3 157.30,492.2 157.00,491.6 156.70,492.1 156.40,490.8 156.10,491.9 155.80,491.2 155.50,491.0 155.20,491.4 154.90,490.9 154.60,491.7 154.30,491.7 154.00,491.4 153.70,492.3 153.40,493.0 153.10,491.1 152.80,490.8 152.50,492.4 152.20,492.9 151.90,491.2 151.60,492.9 151.30,491.0 151.00,492.2 150.70,492.3 150.40,493.0 150.10,490.5 149.80,491.9 149.50,491.3 149.20,491.2 148.90,490.4 148.60,490.4 148.30,491.2 148.00,490.8 147.70,490.5 147.40,491.7 147.10,493.1 146.80,492.3 146.50,490.4 146.20,492.3 145.90,491.4 145.60,490.2 145.30,491.0 145.00,490.5 144.70,491.4 144.40,492.9 144.10,490.9 143.80,491.6 143.50,491.9 143.20,491.5 142.90,492.2 142.60,492.2 142.30,491.5 142.00,490.1 141.70,490.1 141.40,492.4 141.10,492.2 140.80,489.9 140.50,490.1 140.20,490.3 139.90,492.2 139.60,491.4 139.30,490.8 139.00,490.8 138.70,490.6 138.40,490.5 138.10,490.4 137.80,493.2 137.50,492.4 137.20,491.0 136.90,491.4 136.60,490.2 136.30,491.5 136.00,491.6 135.70,491.1 135.40,491.3 135.10,492.8 134.80,491.2 134.50,491.5 134.20,489.8 133.90,491.4 133.60,492.4 133.30,491.1 133.00,491.6 132.70,492.1 132.40,490.5 132.10,491.0 131.80,492.3 131.50,491.7 131.20,491.1 130.90,492.7 130.60,492.3 130.30,490.6 130.00,491.2 129.70,490.4 129.40,492.1 129.10,491.3 128.80,491.4 128.50,490.9 128.20,491.3 127.90,492.3 127.60,492.8 127.30,490.4 127.00,490.9 126.70,491.8 126.40,491.9 126.10,490.8 125.80,490.9 125.50,491.5 125.20,490.5 124.90,492.5 124.60,489.9 124.30,492.8 124.00,490.3 123.70,490.9 123.40,490.3 123.10,491.3 122.80,491.5 122.50,489.9 122.20,490.0 121.90,491.3 121.60,490.7 121.30,491.1 121.00,490.5 120.70,491.2 120.40,490.9 120.10,491.4 119.80,491.2 119.50,491.2 119.20,492.4 118.90,490.8 118.60,491.6 118.30,490.3 118.00,490.0 117.70,492.1 117.40,491.8 117.10,492.0 116.80,491.1 116.50,489.6 116.20,493.0 115.90,490.8 115.60,490.8 115.30,491.2 115.00,489.7 114.70,490.9 114.40,491.2 114.10,491.6 113.80,491.9 113.50,491.5 113.20,491.4 112.90,491.3 112.60,492.3 112.30,490.1 112.00,491.5 111.70,491.1 111.40,491.3 111.10,491.1 110.80,491.6 110.50,490.6 110.20,491.1 109.90,490.9 109.60,490.9 109.30,490.4 109.00,490.5 108.70,491.9 108.40,492.5 108.10,491.5 107.80,491.1 107.50,491.7 107.20,491.2 106.90,491.7 106.60,491.7 106.30,490.0 106.00,491.3 105.70,489.8 105.40,492.2 105.10,489.3 104.80,489.2 104.50,492.1 104.20,491.1 103.90,489.9 103.60,490.4 103.30,490.5 103.00,491.0 102.70,492.1 102.40,491.9 102.10,491.3 101.80,490.3 101.50,491.0 101.20,490.6 100.90,492.4 100.60,491.5 100.30,491.3 100.00,492.3 99.70,490.8 99.40,491.2 99.10,490.1 98.80,490.0 98.50,491.5 98.20,490.7 97.90,489.5 97.60,490.7 97.30,488.9 97.00,491.7 96.70,492.3 96.40,491.4 96.10,491.4 95.80,490.9 95.50,490.4 95.20,490.7 94.90,491.6 94.60,490.3 94.30,491.9 94.00,490.5 93.70,491.8 93.40,490.2 93.10,492.5 92.80,490.8 92.50,491.4 92.20,489.6 91.90,491.0 91.60,490.5 91.30,490.5 91.00,491.5 90.70,491.9 90.40,490.0 90.10,489.6 89.80,490.9 89.50,489.5 89.20,490.8 88.90,492.0 88.60,491.5 88.30,491.2 88.00,491.1 87.70,490.1 87.40,490.5 87.10,491.1 86.80,491.2 86.50,490.8 86.20,490.4 85.90,491.3 85.60,491.0 85.30,492.3 85.00,490.6 84.70,491.7 84.40,490.7 84.10,491.2 83.80,491.0 83.50,491.4 83.20,491.5 82.90,491.1 82.60,491.0 82.30,491.0 82.00,490.9 81.70,491.4 81.40,491.1 81.10,490.5 80.80,489.8 80.50,489.9 80.20,491.8 79.90,491.8 79.60,490.4 79.30,492.3 79.00,491.7 78.70,492.5 78.40,491.8 78.10,490.3 77.80,491.4 77.50,492.0 77.20,492.2 76.90,492.1 76.60,489.6 76.30,490.8 76.00,492.3 75.70,490.0 75.40,491.4 75.10,491.5 74.80,490.6 74.50,491.0 74.20,492.5 73.90,489.3 73.60,491.1 73.30,489.4 73.00,491.6 72.70,491.7 72.40,491.4 72.10,490.2 71.80,491.1 71.50,493.0 71.20,491.0 70.90,490.0 70.60,492.4 70.30,490.1 70.00,491.2 69.70,490.3 69.40,491.5 69.10,489.9 68.80,490.6 68.50,489.3 68.20,491.0 67.90,491.3 67.60,492.1 67.30,491.0 67.00,490.1 66.70,491.3 66.40,490.8 66.10,492.2 65.80,491.1 65.50,491.6 65.20,490.8 64.90,488.1 64.60,490.2 64.30,491.6 64.00,489.2 63.70,490.3 63.40,491.9 63.10,489.8 62.80,489.8 62.50,491.0 62.20,490.0 61.90,490.9 61.60,490.4 61.30,490.9 61.00,491.1 60.70,489.7 60.40,491.6 60.10,490.5 59.80,490.2 59.50,491.4 59.20,491.1 58.90,491.8 58.60,490.0 58.30,490.7 58.00,490.4 57.70,489.6 57.40,490.7 57.10,491.3 56.80,490.4 56.50,490.7 56.20,490.1 55.90,491.0 55.60,490.5 55.30,491.0 55.00,491.1 54.70,490.2 54.40,491.8 54.10,490.7 53.80,491.6 53.50,490.0 53.20,492.2 52.90,490.1 52.60,490.1 52.30,491.0 52.00,490.8 51.70,490.4 51.40,491.2 51.10,490.8 50.80,490.3 50.50,488.9 50.20,490.3 49.90,490.2 49.60,491.1 49.30,489.9 49.00,489.3 48.70,491.9 48.40,488.7 48.10,490.8 47.80,490.6 47.50,491.2 47.20,489.3 46.90,491.2 46.60,490.2 46.30,490.5 46.00,490.8 45.70,490.8 45.40,490.1 45.10,490.6 44.80,490.8 44.50,490.0 44.20,491.4 43.90,492.9 43.60,491.3" fill="#2e3192" fill-opacity="1.0"/>
<path d="M44.50 456.0V460.0M44.80 456.7V460.0M45.10 456.2V460.0M45.40 446.2V460.0M46.30 456.7V460.0M46.90 451.1V460.1M47.50 453.9V460.1M48.70 453.3V460.1M49.30 452.4V460.1M49.60 457.7V460.1M49.90 454.5V460.1M50.50 445.9V460.1M52.60 451.3V460.1M52.90 453.2V460.1M53.20 457.5V460.1M53.80 455.4V460.1M54.70 450.6V460.2M55.00 456.3V460.2M55.30 453.1V460.2M55.60 455.3V460.2M55.90 453.9V460.2M56.20 454.4V460.2M57.70 457.7V460.2M58.90 455.8V460.2M59.80 455.7V460.2M60.40 455.9V460.2M60.70 456.0V460.2M61.90 448.1V460.3M62.20 455.6V460.3M62.50 452.9V460.3M62.80 455.6V460.3M63.70 444.2V460.3M64.00 457.9V460.3M64.90 443.5V460.3M67.00 442.3V460.3M67.30 452.0V460.3M67.90 455.8V460.3M69.70 457.2V460.4M70.30 451.5V460.4M70.60 454.2V460.4M70.90 456.6V460.4M71.20 455.5V460.4M71.50 455.1V460.4M71.80 457.1V460.4M73.00 456.9V460.4M73.30 450.5V460.4M73.60 454.4V460.4M74.50 455.0V460.4M75.10 455.0V460.4M76.00 456.0V460.4M76.60 455.3V460.5M79.00 452.3V460.5M79.30 456.1V460.5M79.90 453.6V460.5M80.20 458.0V460.5M80.80 455.6V460.5M81.40 453.5V460.6M82.00 454.8V460.6M82.90 457.0V460.6M83.20 454.2V460.7M84.10 450.4V460.7M85.30 458.5V460.8M85.90 455.3V460.8M86.80 455.5V460.8M87.40 455.3V460.9M88.30 457.7V460.9M89.20 451.6V461.0M89.50 457.7V461.0M89.80 456.0V461.0M90.40 454.1V461.0M90.70 453.5V461.0M91.00 450.7V461.0M91.30 457.8V461.1M91.60 457.4V461.1M92.50 453.8V461.1M92.80 454.5V461.1M93.10 456.2V461.2M93.70 456.2V461.2M97.30 456.6V461.4M97.90 456.8V461.4M98.20 458.7V461.4M101.20 452.4V461.6M102.10 458.8V461.6M102.40 455.3V461.6M102.70 457.8V461.6M104.80 452.8V461.7M105.40 458.2V461.8M105.70 458.2V461.8M106.00 454.0V461.8M106.90 458.6V461.8M108.70 455.0V461.9M109.00 457.8V461.9M109.90 457.1V462.0M110.80 453.8V462.0M111.70 454.5V462.1M112.00 458.0V462.1M112.30 455.8V462.1M112.60 455.7V462.1M113.20 455.0V462.2M114.70 458.3V462.2M115.90 450.9V462.3M116.80 458.6V462.3M117.10 459.4V462.4M117.40 458.0V462.4M118.60 457.1V462.4M120.10 447.6V462.5M121.00 459.1V462.6M121.60 457.7V462.6M121.90 458.8V462.6M122.20 457.4V462.6M123.70 458.2V462.7M124.30 453.8V462.7M124.60 459.3V462.7M124.90 459.0V462.8M125.20 456.4V462.8M125.50 457.7V462.8M126.40 454.6V462.8M127.60 458.9V462.9M128.50 455.2V462.9M130.30 459.0V463.0M130.60 459.5V463.0M131.50 455.6V463.1M132.10 457.4V463.1M132.40 457.5V463.1M134.50 460.1V463.2M135.70 459.4V463.3M136.00 457.6V463.3M136.60 459.6V463.4M137.50 460.2V463.4M137.80 459.7V463.4M138.40 458.6V463.4M139.00 460.5V463.5M140.80 456.0V463.6M141.10 460.8V463.6M141.40 459.1V463.6M142.30 458.3V463.6M142.60 459.8V463.7M143.20 458.9V463.7M143.80 461.2V463.7M144.40 459.8V463.8M144.70 457.2V463.8M145.00 458.3V463.8M145.90 459.5V463.8M147.40 458.0V463.9M147.70 459.7V463.9M148.60 459.8V464.0M149.20 456.9V464.0M152.50 460.0V464.2M152.80 460.5V464.2M153.10 457.0V464.2M154.30 451.2V464.3M157.30 462.0V464.4M157.90 455.3V464.4M158.20 453.9V464.5M158.80 460.8V464.5" stroke="#2e3192" stroke-width="0.5" stroke-opacity="0.95" fill="none"/>
<path d="M45.40 445.5V460.0M47.80 452.8V460.1M48.10 451.1V460.1M48.70 450.4V460.1M51.70 453.7V460.1M56.50 457.7V460.2M57.10 450.5V460.2M58.30 454.5V460.2M59.50 452.1V460.2M60.70 453.5V460.2M66.40 447.7V460.3M66.70 451.6V460.3M67.00 453.4V460.3M67.30 457.8V460.3M68.20 454.9V460.3M69.40 445.2V460.4M70.00 442.4V460.4M70.90 449.7V460.4M72.40 452.9V460.4M73.30 454.2V460.4M76.30 457.8V460.4M77.20 456.0V460.5M77.80 451.7V460.5M80.20 454.9V460.5M82.90 451.1V460.6M83.50 451.7V460.7M84.40 446.1V460.7M85.00 447.6V460.8M85.90 451.3V460.8M86.50 450.6V460.8M87.70 447.0V460.9M101.20 451.3V461.6M105.10 457.0V461.8M105.40 454.5V461.8M106.60 452.7V461.8M107.20 444.7V461.9M111.10 454.9V462.1M111.40 458.1V462.1M112.30 445.2V462.1M113.80 459.2V462.2M117.40 454.6V462.4M117.70 456.5V462.4M118.30 456.0V462.4M120.70 444.7V462.5M121.30 457.7V462.6M127.30 459.4V462.9M129.10 456.5V463.0M129.40 456.9V463.0M129.70 454.1V463.0M131.50 457.6V463.1M139.00 458.6V463.5M140.50 456.7V463.6M145.30 457.5V463.8M148.60 459.7V464.0M154.00 460.1V464.2M155.80 457.4V464.3M156.70 453.6V464.4M159.40 457.1V464.5" stroke="#4a4ab0" stroke-width="0.5" stroke-opacity="0.95" fill="none"/>
<path d="M48.10 452.6V460.1M50.80 452.3V460.1M55.00 453.0V460.2M55.30 455.2V460.2M60.70 454.2V460.2M62.50 457.0V460.3M62.80 444.1V460.3M63.70 456.6V460.3M64.60 455.5V460.3M68.80 442.3V460.3M76.60 454.6V460.5M77.50 444.6V460.5M81.70 444.7V460.6M88.30 455.5V460.9M89.20 453.5V461.0M92.50 457.5V461.1M96.70 450.3V461.3M105.40 443.8V461.8M107.20 449.7V461.9M115.90 458.9V462.3M118.30 444.4V462.4M120.40 455.1V462.5M122.20 448.1V462.6M124.30 454.2V462.7M127.90 455.1V462.9M131.20 446.5V463.1M133.30 445.2V463.2M136.00 452.4V463.3M137.20 446.9V463.4M144.70 459.1V463.8M151.00 456.8V464.1" stroke="#aeb0e2" stroke-width="0.5" stroke-opacity="0.95" fill="none"/>
<path d="M47.20 444.6V460.1M48.70 451.1V460.1M52.00 457.6V460.1M52.30 457.2V460.1M53.80 444.7V460.1M54.70 451.9V460.2M55.90 451.9V460.2M66.40 454.0V460.3M67.90 451.6V460.3M70.30 457.5V460.4M77.80 455.7V460.5M99.70 449.2V461.5M106.00 447.7V461.8M118.30 456.9V462.4M121.60 455.3V462.6M126.70 456.6V462.8M130.00 456.3V463.0M147.70 454.1V463.9M155.80 451.2V464.3" stroke="#e6a0b8" stroke-width="0.5" stroke-opacity="0.95" fill="none"/>
<path d="M46.90 454.0V460.1M55.90 452.8V460.2M88.00 450.9V460.9M113.50 451.2V462.2M118.30 455.0V462.4M121.90 458.7V462.6M125.20 451.3V462.8M137.20 458.5V463.4M138.40 453.7V463.4M143.20 452.5V463.7M152.20 453.4V464.2" stroke="#7ab898" stroke-width="0.5" stroke-opacity="0.95" fill="none"/>
<path d="M47.20 452.9V460.1M50.20 453.7V460.1M54.40 455.3V460.2M64.00 454.3V460.3M70.60 456.1V460.4M92.80 457.2V461.1M108.10 458.2V461.9M110.20 457.7V462.0M116.20 459.2V462.3M122.80 458.6V462.6M133.00 455.7V463.2M133.30 460.9V463.2M150.40 460.3V464.1M154.60 450.4V464.3M156.10 458.4V464.4" stroke="#d05070" stroke-width="0.5" stroke-opacity="0.95" fill="none"/>
<path d="M44.20 490.0V496.4M45.70 490.0V492.8M46.00 490.0V493.6M46.30 490.0V498.0M46.60 490.0V491.7M48.10 490.1V496.1M48.70 490.1V494.0M49.00 490.1V494.2M49.60 490.1V491.6M49.90 490.1V493.6M50.50 490.1V492.6M50.80 490.1V497.5M51.70 490.1V493.9M52.30 490.1V491.9M52.90 490.1V492.4M53.20 490.1V495.7M53.80 490.1V492.6M54.70 490.2V493.2M55.00 490.2V495.6M55.30 490.2V492.6M55.90 490.2V497.5M56.20 490.2V494.6M56.50 490.2V492.7M56.80 490.2V494.4M57.10 490.2V497.1M58.30 490.2V496.2M58.60 490.2V492.8M59.80 490.2V492.8M60.70 490.2V494.3M61.00 490.2V493.5M61.30 490.2V493.6M61.90 490.3V494.3M62.20 490.3V492.1M62.80 490.3V495.3M63.10 490.3V493.0M63.40 490.3V492.4M63.70 490.3V498.0M64.30 490.3V494.7M65.50 490.3V496.3M65.80 490.3V494.6M67.00 490.3V491.8M67.30 490.3V491.3M68.50 490.3V492.2M68.80 490.3V494.8M69.70 490.4V493.0M70.30 490.4V493.1M70.90 490.4V493.9M72.10 490.4V492.8M73.00 490.4V492.7M73.90 490.4V492.9M74.50 490.4V493.2M75.10 490.4V491.8M75.40 490.4V494.8M75.70 490.4V493.4M76.00 490.4V493.8M76.30 490.4V492.7M78.10 490.5V496.0M79.00 490.5V491.5M80.50 490.5V492.9M80.80 490.5V496.2M81.40 490.5V494.2M81.70 490.5V494.1M82.00 490.5V492.1M82.30 490.5V491.8M82.60 490.5V494.0M82.90 490.5V493.7M83.50 490.5V497.0M84.10 490.5V492.5M84.40 490.5V493.0M85.00 490.5V492.8M85.90 490.5V492.7M86.20 490.5V493.3M86.80 490.5V493.8M88.00 490.5V493.6M88.90 490.5V494.7M91.00 490.5V497.3M91.60 490.5V493.6M91.90 490.5V492.8M92.20 490.5V497.4M92.80 490.5V492.8M93.40 490.5V493.3M94.90 490.5V493.3M95.50 490.5V494.0M96.40 490.5V497.7M97.30 490.5V498.8M97.90 490.5V495.4M98.20 490.5V493.1M98.80 490.5V498.7M100.30 490.5V492.4M102.10 490.5V493.9M102.70 490.5V499.0M103.30 490.5V494.3M104.20 490.5V491.8M105.10 490.5V494.0M105.70 490.5V494.3M106.00 490.5V496.1M106.60 490.5V491.8M107.20 490.5V498.4M107.50 490.5V492.1M107.80 490.5V495.9M108.10 490.5V492.0M108.70 490.5V492.4M109.60 490.5V494.4M110.80 490.5V492.5M111.10 490.5V493.4M112.30 490.5V496.7M112.60 490.5V493.3M114.40 490.5V492.1M116.20 490.5V496.5M117.10 490.5V493.4M118.30 490.5V491.5M119.20 490.5V494.4M119.50 490.5V494.0M119.80 490.5V492.3M120.40 490.5V494.0M120.70 490.5V493.7M121.60 490.5V493.5M122.80 490.5V493.3M123.10 490.5V491.6M123.40 490.5V494.8M123.70 490.5V494.1M124.00 490.6V492.1M124.30 490.6V494.6M125.20 490.6V498.2M125.50 490.6V492.1M126.40 490.6V494.7M127.00 490.6V491.3M128.50 490.6V493.6M128.80 490.6V497.7M129.10 490.6V492.1M130.30 490.6V492.1M130.60 490.6V494.7M131.50 490.6V494.4M133.30 490.7V492.9M133.90 490.7V495.3M135.40 490.7V492.6M136.90 490.7V495.3M138.10 490.7V498.2M139.00 490.7V492.2M140.80 490.8V497.1M141.70 490.8V497.8M142.30 490.8V493.3M142.90 490.8V497.2M143.50 490.8V493.4M143.80 490.8V495.6M144.10 490.8V500.0M145.00 490.8V495.1M145.30 490.8V495.2M145.60 490.8V492.6M146.20 490.8V492.1M146.50 490.8V493.4M147.10 490.8V493.2M147.70 490.9V495.0M148.00 490.9V491.6M148.30 490.9V495.6M149.50 490.9V492.6M149.80 490.9V492.7M150.10 490.9V499.4M150.40 490.9V492.7M150.70 490.9V492.4M151.30 490.9V499.4M151.60 490.9V492.2M151.90 490.9V496.0M152.20 490.9V496.1M152.80 490.9V492.8M153.40 490.9V496.4M154.90 490.9V492.7M155.20 491.0V493.5M155.80 491.0V496.7M156.10 491.0V496.4M157.30 491.0V494.4M158.20 491.0V494.2M159.10 491.0V492.0M159.70 491.0V494.1" stroke="#2e3192" stroke-width="0.5" stroke-opacity="0.95" fill="none"/>
<path d="M45.10 490.0V497.6M48.10 490.1V495.9M49.00 490.1V494.0M49.30 490.1V492.6M49.60 490.1V493.3M50.20 490.1V497.4M51.40 490.1V501.6M52.90 490.1V495.8M54.70 490.2V494.9M55.30 490.2V491.6M57.40 490.2V495.6M58.00 490.2V493.8M58.30 490.2V496.9M60.70 490.2V496.9M61.60 490.3V493.4M62.50 490.3V498.7M62.80 490.3V498.2M63.10 490.3V494.0M67.30 490.3V493.3M71.50 490.4V493.6M72.10 490.4V496.4M74.20 490.4V495.3M74.50 490.4V495.3M76.90 490.5V496.7M79.60 490.5V494.8M83.20 490.5V492.0M84.10 490.5V496.3M85.30 490.5V494.5M87.10 490.5V501.6M89.20 490.5V494.8M91.60 490.5V492.4M91.90 490.5V493.2M93.70 490.5V493.7M96.40 490.5V492.3M97.00 490.5V501.5M97.90 490.5V492.4M99.40 490.5V498.2M99.70 490.5V493.4M100.30 490.5V493.9M100.90 490.5V492.6M102.70 490.5V493.8M103.60 490.5V499.4M103.90 490.5V491.9M106.00 490.5V498.2M108.70 490.5V493.9M109.30 490.5V494.3M110.80 490.5V497.4M111.70 490.5V501.6M112.00 490.5V493.6M113.20 490.5V501.6M114.40 490.5V494.4M115.00 490.5V499.7M115.30 490.5V492.9M115.60 490.5V500.9M116.80 490.5V501.6M120.10 490.5V496.5M122.80 490.5V497.0M123.70 490.5V498.3M126.40 490.6V495.8M127.00 490.6V500.2M129.10 490.6V492.3M129.40 490.6V497.2M130.30 490.6V495.9M132.40 490.7V491.9M133.30 490.7V492.2M134.20 490.7V494.9M137.20 490.7V494.9M138.40 490.7V494.4M139.00 490.7V492.3M139.30 490.7V495.8M139.90 490.8V495.9M144.70 490.8V493.5M146.20 490.8V500.4M146.50 490.8V492.4M147.10 490.8V501.6M147.40 490.9V500.3M151.90 490.9V498.2M153.40 490.9V492.3M153.70 490.9V501.6M154.30 490.9V497.5M155.20 491.0V495.1M155.50 491.0V493.4M156.10 491.0V501.6M157.60 491.0V495.0M158.20 491.0V492.6" stroke="#151515" stroke-width="0.55" stroke-opacity="0.95" fill="none"/>
<path d="M45.10 490.0V491.7M46.00 490.0V493.6M53.50 490.1V492.6M54.10 490.1V492.7M55.30 490.2V491.3M56.50 490.2V498.5M56.80 490.2V492.5M61.90 490.3V493.3M62.50 490.3V496.2M64.00 490.3V494.9M65.20 490.3V491.7M70.30 490.4V492.4M71.20 490.4V500.0M71.80 490.4V495.3M76.00 490.4V494.4M83.50 490.5V496.4M83.80 490.5V498.3M84.40 490.5V494.7M84.70 490.5V496.3M85.00 490.5V492.5M86.20 490.5V500.9M86.80 490.5V496.6M87.10 490.5V493.6M88.30 490.5V501.6M92.50 490.5V501.4M97.00 490.5V500.8M97.90 490.5V496.0M98.80 490.5V498.0M99.10 490.5V492.9M100.90 490.5V494.1M102.40 490.5V492.9M103.30 490.5V498.6M104.50 490.5V494.0M104.80 490.5V496.1M106.60 490.5V494.5M107.80 490.5V496.2M109.00 490.5V493.7M110.50 490.5V493.6M110.80 490.5V492.7M112.60 490.5V495.7M115.90 490.5V497.4M116.20 490.5V492.2M117.10 490.5V499.7M118.60 490.5V501.6M120.70 490.5V493.3M121.30 490.5V494.5M123.70 490.5V493.0M124.00 490.6V500.3M124.60 490.6V501.6M126.70 490.6V496.4M127.30 490.6V491.7M128.80 490.6V501.6M135.70 490.7V492.0M139.60 490.8V497.2M143.80 490.8V496.8M144.10 490.8V495.2M147.70 490.9V494.7M148.60 490.9V493.6M148.90 490.9V494.4M154.00 490.9V499.7M158.50 491.0V497.3M158.80 491.0V494.8" stroke="#1c8a46" stroke-width="0.55" stroke-opacity="0.95" fill="none"/>
<path d="M48.70 490.1V494.3M49.30 490.1V496.6M52.90 490.1V495.0M53.80 490.1V493.4M54.40 490.2V493.9M62.50 490.3V501.4M64.30 490.3V497.3M67.00 490.3V495.6M69.10 490.4V501.6M73.30 490.4V496.2M73.60 490.4V499.2M78.10 490.5V496.0M81.40 490.5V498.7M85.30 490.5V498.1M85.90 490.5V491.6M89.80 490.5V499.8M91.30 490.5V492.7M93.40 490.5V494.3M115.90 490.5V501.6M116.50 490.5V493.4M119.50 490.5V496.2M120.40 490.5V498.2M124.60 490.6V492.8M128.80 490.6V492.0M132.10 490.7V497.2M138.40 490.7V491.8M143.80 490.8V495.7M146.20 490.8V497.6M150.10 490.9V496.6M156.70 491.0V495.0M159.10 491.0V493.5" stroke="#c03050" stroke-width="0.5" stroke-opacity="0.95" fill="none"/>
<path d="M55.00 490.2V493.0M59.20 490.2V492.2M59.50 490.2V501.1M71.80 490.4V492.1M73.30 490.4V499.4M73.60 490.4V491.6M79.90 490.5V495.2M81.40 490.5V491.5M83.80 490.5V496.6M92.50 490.5V496.6M102.40 490.5V494.2M109.00 490.5V494.0M111.40 490.5V492.5M117.10 490.5V495.6M122.80 490.5V492.8M126.10 490.6V496.0M130.90 490.6V492.8M132.70 490.7V501.6M144.10 490.8V492.7M144.70 490.8V492.4M148.60 490.9V497.4M155.80 491.0V497.0M157.60 491.0V498.4" stroke="#3a7060" stroke-width="0.5" stroke-opacity="0.95" fill="none"/>
<path d="M48.10 490.1V500.0M48.40 490.1V494.7M54.10 490.1V493.0M66.10 490.3V495.7M70.00 490.4V493.0M77.20 490.5V497.0M79.60 490.5V495.2M86.50 490.5V494.4M90.10 490.5V496.9M94.60 490.5V494.9M103.00 490.5V493.0M105.10 490.5V493.4M127.60 490.6V495.6M128.50 490.6V494.9M139.90 490.8V499.4M146.20 490.8V497.0M147.10 490.8V497.4M149.80 490.9V492.8M156.40 491.0V495.5" stroke="#9aa0d8" stroke-width="0.5" stroke-opacity="0.95" fill="none"/>
<line x1="43.20" y1="402.00" x2="43.20" y2="503.20" stroke="#1e1e1e" stroke-width="1.25"/>
<line x1="43.20" y1="502.70" x2="162.10" y2="502.70" stroke="#1e1e1e" stroke-width="1.25"/>
<line x1="40.20" y1="413.50" x2="43.20" y2="413.50" stroke="#1e1e1e" stroke-width="1.25"/>
<text x="37.0" y="416.6" font-size="8.8" text-anchor="end" textLength="15.58" lengthAdjust="spacingAndGlyphs" fill="#262626" stroke="#262626" stroke-width="0.14">0.10</text>
<line x1="40.20" y1="460.30" x2="43.20" y2="460.30" stroke="#1e1e1e" stroke-width="1.25"/>
<text x="37.0" y="463.40000000000003" font-size="8.8" text-anchor="end" textLength="15.58" lengthAdjust="spacingAndGlyphs" fill="#262626" stroke="#262626" stroke-width="0.14">0.05</text>
<line x1="54.50" y1="502.70" x2="54.50" y2="505.30" stroke="#1e1e1e" stroke-width="1.25"/>
<text x="54.5" y="515.1" font-size="9" text-anchor="middle" textLength="17.6" lengthAdjust="spacingAndGlyphs" fill="#262626" stroke="#262626" stroke-width="0.14">2050</text>
<line x1="83.50" y1="502.70" x2="83.50" y2="505.30" stroke="#1e1e1e" stroke-width="1.25"/>
<text x="83.5" y="515.1" font-size="9" text-anchor="middle" textLength="17.6" lengthAdjust="spacingAndGlyphs" fill="#262626" stroke="#262626" stroke-width="0.14">2100</text>
<line x1="112.30" y1="502.70" x2="112.30" y2="505.30" stroke="#1e1e1e" stroke-width="1.25"/>
<text x="112.3" y="515.1" font-size="9" text-anchor="middle" textLength="17.6" lengthAdjust="spacingAndGlyphs" fill="#262626" stroke="#262626" stroke-width="0.14">2150</text>
<line x1="141.50" y1="502.70" x2="141.50" y2="505.30" stroke="#1e1e1e" stroke-width="1.25"/>
<text x="141.5" y="515.1" font-size="9" text-anchor="middle" textLength="17.6" lengthAdjust="spacingAndGlyphs" fill="#262626" stroke="#262626" stroke-width="0.14">2200</text>
<text x="102.6" y="528.0" font-size="9.6" text-anchor="middle" textLength="41.6" lengthAdjust="spacingAndGlyphs" fill="#262626" stroke="#262626" stroke-width="0.14">Mass/charge</text>
<text transform="translate(16.4,452.2) rotate(-90)" font-size="9.4" text-anchor="middle" textLength="64.5" lengthAdjust="spacingAndGlyphs" fill="#262626" stroke="#262626" stroke-width="0.14">Relative abundance</text>
<path d="M46.30 434.10V431.30H94.50V434.10M70.50 431.30V428.80" fill="none" stroke="#2a2a2a" stroke-width="1.1"/>
<text x="70.6" y="425.0" font-size="8.2" text-anchor="middle" textLength="42.3" lengthAdjust="spacingAndGlyphs" fill="#262626" stroke="#262626" stroke-width="0.14">IgG lambda</text>
<path d="M96.50 411.10V408.30H161.80V411.10M128.80 408.30V405.80" fill="none" stroke="#2a2a2a" stroke-width="1.1"/>
<text x="129.1" y="402.0" font-size="8.2" text-anchor="middle" textLength="36.7" lengthAdjust="spacingAndGlyphs" fill="#262626" stroke="#262626" stroke-width="0.14">IgG kappa</text>
<text x="184.0" y="382.2" font-size="11.6" font-weight="bold" fill="#000">F</text>
<polygon points="220.50,461.2 220.80,460.9 221.10,461.9 221.40,461.0 221.70,463.0 222.00,463.4 222.30,461.9 222.60,460.9 222.90,462.1 223.20,461.5 223.50,462.7 223.80,462.7 224.10,462.1 224.40,462.6 224.70,463.6 225.00,464.3 225.30,462.1 225.60,463.3 225.90,462.4 226.20,461.6 226.50,463.9 226.80,463.0 227.10,462.8 227.40,463.0 227.70,462.5 228.00,461.6 228.30,464.4 228.60,463.6 228.90,462.9 229.20,463.7 229.50,464.0 229.80,462.5 230.10,463.3 230.40,462.4 230.70,463.4 231.00,462.5 231.30,465.2 231.60,462.4 231.90,463.3 232.20,463.2 232.50,462.4 232.80,463.7 233.10,462.7 233.40,462.4 233.70,462.8 234.00,462.1 234.30,464.0 234.60,463.4 234.90,463.8 235.20,461.5 235.50,463.1 235.80,462.1 236.10,462.9 236.40,464.1 236.70,463.1 237.00,462.7 237.30,464.0 237.60,463.9 237.90,464.8 238.20,461.1 238.50,463.2 238.80,462.5 239.10,462.1 239.40,463.1 239.70,461.8 240.00,460.7 240.30,462.1 240.60,462.7 240.90,464.8 241.20,462.3 241.50,461.8 241.80,461.0 242.10,462.7 242.40,462.8 242.70,463.2 243.00,461.6 243.30,462.3 243.60,460.8 243.90,463.2 244.20,461.5 244.50,460.3 244.80,464.2 245.10,463.6 245.40,463.4 245.70,463.5 246.00,462.1 246.30,464.2 246.60,462.1 246.90,465.0 247.20,463.4 247.50,461.3 247.80,464.0 248.10,465.1 248.40,462.9 248.70,464.2 249.00,463.0 249.30,462.6 249.60,460.6 249.90,464.4 250.20,462.8 250.50,463.6 250.80,462.1 251.10,462.3 251.40,464.4 251.70,462.9 252.00,462.9 252.30,462.0 252.60,463.5 252.90,464.1 253.20,462.8 253.50,463.1 253.80,462.1 254.10,464.7 254.40,462.7 254.70,463.2 255.00,465.0 255.30,463.1 255.60,461.8 255.90,462.4 256.20,463.0 256.50,465.2 256.80,463.6 257.10,463.2 257.40,464.2 257.70,464.7 258.00,462.7 258.30,464.9 258.60,464.3 258.90,463.9 259.20,461.1 259.50,463.7 259.80,464.9 260.10,463.2 260.40,465.8 260.70,463.6 261.00,462.5 261.30,464.1 261.60,463.8 261.90,464.4 262.20,463.3 262.50,464.9 262.80,463.0 263.10,463.7 263.40,462.3 263.70,462.8 264.00,463.8 264.30,463.0 264.60,463.2 264.90,463.4 265.20,463.9 265.50,464.5 265.80,464.5 266.10,464.7 266.40,463.9 266.70,463.2 267.00,462.1 267.30,463.4 267.60,463.0 267.90,461.9 268.20,465.4 268.50,461.9 268.80,464.2 269.10,464.4 269.40,463.6 269.70,466.5 270.00,463.9 270.30,463.1 270.60,465.7 270.90,463.1 271.20,462.4 271.50,462.9 271.80,463.3 272.10,464.0 272.40,464.3 272.70,462.4 273.00,464.3 273.30,466.2 273.60,463.3 273.90,463.9 274.20,464.7 274.50,465.2 274.80,463.4 275.10,463.1 275.40,463.0 275.70,465.2 276.00,465.0 276.30,461.9 276.60,461.9 276.90,462.9 277.20,462.6 277.50,464.5 277.80,464.4 278.10,466.1 278.40,465.0 278.70,464.3 279.00,465.4 279.30,463.3 279.60,462.8 279.90,464.3 280.20,465.2 280.50,462.6 280.80,465.2 281.10,465.1 281.40,463.8 281.70,464.5 282.00,464.0 282.30,464.4 282.60,465.1 282.90,463.5 283.20,465.4 283.50,465.2 283.80,465.3 284.10,462.4 284.40,462.5 284.70,465.1 285.00,463.8 285.30,463.7 285.60,463.7 285.90,463.1 286.20,464.2 286.50,463.7 286.80,463.8 287.10,465.0 287.40,463.3 287.70,465.7 288.00,462.3 288.30,467.1 288.60,463.2 288.90,465.2 289.20,465.5 289.50,464.6 289.80,465.4 290.10,464.5 290.40,462.8 290.70,465.0 291.00,465.8 291.30,464.1 291.60,462.9 291.90,464.1 292.20,465.0 292.50,465.0 292.80,465.8 293.10,465.3 293.40,465.2 293.70,462.7 294.00,467.0 294.30,464.8 294.60,465.7 294.90,464.4 295.20,464.6 295.50,464.9 295.80,466.4 296.10,466.4 296.40,465.5 296.70,466.9 297.00,464.5 297.30,465.4 297.60,464.4 297.90,466.2 298.20,465.0 298.50,465.9 298.80,466.7 299.10,462.8 299.40,467.2 299.70,465.3 300.00,464.7 300.30,463.0 300.60,464.7 300.90,462.7 301.20,465.1 301.50,464.9 301.80,466.9 302.10,464.7 302.40,466.2 302.70,466.3 303.00,467.2 303.30,464.9 303.60,465.9 303.90,463.6 304.20,464.0 304.50,464.9 304.80,465.2 305.10,464.0 305.40,464.8 305.70,465.9 306.00,464.8 306.30,465.1 306.60,464.3 306.90,466.7 307.20,467.1 307.50,465.5 307.80,465.2 308.10,467.0 308.40,465.8 308.70,464.7 309.00,464.0 309.30,464.8 309.60,467.6 309.90,464.8 310.20,468.4 310.50,465.4 310.80,465.2 311.10,466.8 311.40,465.2 311.70,465.9 312.00,464.4 312.30,464.2 312.60,464.7 312.90,465.7 313.20,464.8 313.50,463.5 313.80,466.0 314.10,465.4 314.40,465.3 314.70,465.0 315.00,463.3 315.30,467.2 315.60,465.1 315.90,466.2 316.20,467.1 316.50,466.8 316.80,465.9 317.10,465.7 317.40,466.0 317.70,466.6 318.00,466.3 318.30,465.3 318.60,466.2 318.90,466.2 319.20,466.5 319.50,466.0 319.80,467.2 320.10,466.0 320.40,466.7 320.70,465.9 321.00,465.3 321.30,464.9 321.60,465.7 321.90,466.4 322.20,467.2 322.50,465.8 322.80,465.4 323.10,465.4 323.40,467.3 323.70,466.1 324.00,465.5 324.30,466.7 324.60,464.6 324.90,466.1 325.20,466.0 325.50,465.9 325.80,464.9 326.10,467.1 326.40,467.8 326.70,464.7 327.00,466.2 327.30,466.8 327.60,468.4 327.90,465.7 328.20,465.2 328.50,466.2 328.80,468.2 329.10,466.3 329.40,466.5 329.70,468.0 330.00,464.0 330.30,464.0 330.60,467.2 330.90,467.0 331.20,464.8 331.50,466.8 331.80,466.3 332.10,466.5 332.40,465.5 332.70,465.9 333.00,465.4 333.30,466.4 333.60,466.1 333.90,468.1 334.20,467.0 334.50,464.8 334.80,466.8 335.10,467.9 335.40,466.7 335.70,467.6 336.00,466.4 336.30,467.2 336.60,465.5 336.90,467.3 336.90,494.7 336.60,493.1 336.30,493.8 336.00,494.1 335.70,493.5 335.40,494.2 335.10,492.8 334.80,493.3 334.50,493.9 334.20,494.1 333.90,493.4 333.60,492.4 333.30,494.0 333.00,495.1 332.70,492.6 332.40,491.4 332.10,494.2 331.80,492.6 331.50,492.7 331.20,492.4 330.90,494.6 330.60,493.6 330.30,493.4 330.00,492.1 329.70,493.4 329.40,493.3 329.10,494.3 328.80,494.1 328.50,493.9 328.20,492.8 327.90,494.0 327.60,493.5 327.30,492.3 327.00,492.4 326.70,494.5 326.40,493.2 326.10,494.3 325.80,492.9 325.50,492.5 325.20,493.2 324.90,493.3 324.60,493.0 324.30,493.3 324.00,493.6 323.70,492.4 323.40,493.0 323.10,493.3 322.80,493.9 322.50,493.6 322.20,494.4 321.90,494.2 321.60,493.1 321.30,493.8 321.00,492.5 320.70,494.1 320.40,493.5 320.10,492.2 319.80,492.4 319.50,491.6 319.20,493.5 318.90,494.6 318.60,492.2 318.30,492.8 318.00,492.7 317.70,492.6 317.40,492.3 317.10,492.7 316.80,493.5 316.50,493.9 316.20,494.2 315.90,493.4 315.60,493.5 315.30,492.9 315.00,494.0 314.70,493.5 314.40,494.2 314.10,491.9 313.80,492.7 313.50,492.6 313.20,492.6 312.90,492.5 312.60,493.1 312.30,494.2 312.00,492.1 311.70,492.9 311.40,494.1 311.10,493.3 310.80,494.9 310.50,493.2 310.20,492.8 309.90,492.9 309.60,494.2 309.30,495.0 309.00,493.1 308.70,492.9 308.40,493.5 308.10,493.2 307.80,494.5 307.50,493.2 307.20,491.6 306.90,493.6 306.60,491.5 306.30,493.9 306.00,493.4 305.70,492.0 305.40,493.0 305.10,493.8 304.80,493.6 304.50,491.7 304.20,493.0 303.90,493.7 303.60,494.1 303.30,492.5 303.00,493.1 302.70,492.5 302.40,493.0 302.10,492.4 301.80,493.5 301.50,493.5 301.20,494.2 300.90,494.2 300.60,493.3 300.30,494.6 300.00,491.7 299.70,492.3 299.40,491.6 299.10,492.2 298.80,494.2 298.50,491.7 298.20,492.5 297.90,492.8 297.60,493.1 297.30,493.6 297.00,493.2 296.70,493.2 296.40,494.6 296.10,492.3 295.80,492.8 295.50,493.0 295.20,492.7 294.90,492.1 294.60,491.8 294.30,493.8 294.00,492.7 293.70,494.2 293.40,494.1 293.10,492.1 292.80,493.4 292.50,492.4 292.20,491.5 291.90,492.7 291.60,492.7 291.30,493.6 291.00,493.8 290.70,493.6 290.40,492.8 290.10,493.6 289.80,492.8 289.50,492.1 289.20,492.0 288.90,492.8 288.60,492.5 288.30,492.1 288.00,492.1 287.70,492.9 287.40,493.0 287.10,493.2 286.80,492.9 286.50,493.0 286.20,494.7 285.90,493.4 285.60,493.8 285.30,491.9 285.00,493.5 284.70,492.5 284.40,493.0 284.10,492.7 283.80,493.4 283.50,493.4 283.20,494.1 282.90,491.8 282.60,493.5 282.30,492.8 282.00,493.8 281.70,493.8 281.40,493.8 281.10,493.1 280.80,492.8 280.50,491.5 280.20,492.9 279.90,494.0 279.60,493.2 279.30,492.9 279.00,493.2 278.70,492.4 278.40,492.3 278.10,492.7 277.80,492.1 277.50,493.4 277.20,492.6 276.90,493.9 276.60,492.4 276.30,494.0 276.00,492.6 275.70,493.1 275.40,494.2 275.10,491.5 274.80,493.3 274.50,494.2 274.20,494.1 273.90,492.4 273.60,494.8 273.30,493.3 273.00,492.0 272.70,494.6 272.40,492.3 272.10,493.2 271.80,493.3 271.50,492.5 271.20,492.8 270.90,492.3 270.60,492.5 270.30,492.4 270.00,493.1 269.70,492.4 269.40,494.8 269.10,493.0 268.80,492.7 268.50,492.7 268.20,492.5 267.90,491.9 267.60,493.1 267.30,493.5 267.00,491.4 266.70,491.2 266.40,492.1 266.10,493.2 265.80,493.3 265.50,492.6 265.20,493.9 264.90,493.5 264.60,492.8 264.30,492.1 264.00,493.8 263.70,492.6 263.40,492.4 263.10,493.3 262.80,491.9 262.50,493.2 262.20,493.1 261.90,494.0 261.60,492.7 261.30,493.2 261.00,493.1 260.70,493.2 260.40,493.8 260.10,493.1 259.80,494.2 259.50,492.4 259.20,492.0 258.90,492.3 258.60,493.5 258.30,493.4 258.00,492.4 257.70,493.6 257.40,493.5 257.10,494.5 256.80,492.4 256.50,494.6 256.20,493.2 255.90,494.0 255.60,492.0 255.30,493.9 255.00,493.0 254.70,493.5 254.40,492.1 254.10,493.5 253.80,492.2 253.50,492.8 253.20,493.8 252.90,492.8 252.60,492.7 252.30,495.0 252.00,491.5 251.70,493.2 251.40,493.2 251.10,494.0 250.80,490.5 250.50,493.6 250.20,492.5 249.90,493.7 249.60,494.3 249.30,492.8 249.00,493.8 248.70,492.8 248.40,492.9 248.10,492.5 247.80,492.2 247.50,491.9 247.20,492.4 246.90,493.4 246.60,493.6 246.30,493.4 246.00,493.0 245.70,492.5 245.40,493.8 245.10,492.1 244.80,492.2 244.50,492.0 244.20,492.2 243.90,490.6 243.60,492.1 243.30,491.1 243.00,492.0 242.70,491.5 242.40,492.7 242.10,492.8 241.80,491.8 241.50,493.4 241.20,493.7 240.90,492.2 240.60,491.6 240.30,491.5 240.00,492.1 239.70,493.5 239.40,491.4 239.10,493.2 238.80,492.6 238.50,493.3 238.20,492.2 237.90,492.6 237.60,491.7 237.30,492.4 237.00,493.0 236.70,493.4 236.40,493.5 236.10,493.0 235.80,492.1 235.50,493.9 235.20,492.7 234.90,493.1 234.60,494.8 234.30,492.9 234.00,492.6 233.70,491.6 233.40,491.7 233.10,491.7 232.80,491.8 232.50,493.1 232.20,492.9 231.90,492.8 231.60,492.9 231.30,492.2 231.00,492.1 230.70,492.3 230.40,493.7 230.10,493.9 229.80,493.0 229.50,491.3 229.20,493.8 228.90,492.7 228.60,492.7 228.30,491.9 228.00,492.0 227.70,493.0 227.40,492.0 227.10,493.1 226.80,492.4 226.50,493.5 226.20,492.1 225.90,491.6 225.60,492.2 225.30,493.0 225.00,492.6 224.70,492.0 224.40,494.2 224.10,493.0 223.80,492.8 223.50,492.7 223.20,491.8 222.90,492.5 222.60,492.9 222.30,492.6 222.00,492.4 221.70,493.0 221.40,490.8 221.10,491.3 220.80,493.6 220.50,491.4" fill="#2e3192" fill-opacity="1.0"/>
<path d="M222.30 459.1V463.6M222.60 459.0V463.6M222.90 456.1V463.6M223.20 458.3V463.6M224.70 459.0V463.6M228.00 460.5V463.7M230.40 454.0V463.8M231.30 459.1V463.8M231.60 459.9V463.8M231.90 458.9V463.8M232.50 456.1V463.8M232.80 458.2V463.8M233.40 460.6V463.8M233.70 458.4V463.8M234.90 457.2V463.9M235.50 457.5V463.9M236.10 457.9V463.9M236.70 457.8V463.9M239.40 460.4V464.0M240.30 459.4V464.0M242.40 458.1V464.1M242.70 456.7V464.1M243.90 460.5V464.1M245.40 457.2V464.1M246.90 457.4V464.2M247.20 460.4V464.2M248.40 455.6V464.2M249.90 460.4V464.2M250.20 457.3V464.3M250.50 461.4V464.3M250.80 459.7V464.3M251.40 458.5V464.3M252.30 456.9V464.3M252.90 457.5V464.3M253.20 460.3V464.3M253.50 458.8V464.3M254.10 460.1V464.4M254.40 458.1V464.4M254.70 461.3V464.4M255.90 459.5V464.4M256.80 457.0V464.4M257.40 461.4V464.4M258.90 456.8V464.5M259.20 456.2V464.5M259.80 460.5V464.5M260.10 459.6V464.5M260.70 462.3V464.5M261.00 460.7V464.5M261.90 462.0V464.6M262.80 454.7V464.6M263.10 458.7V464.6M263.40 461.0V464.6M263.70 454.8V464.6M264.30 459.1V464.7M264.60 460.5V464.7M264.90 460.5V464.7M265.20 456.7V464.7M265.80 456.2V464.7M266.10 460.2V464.7M266.70 459.4V464.8M267.60 457.4V464.8M268.80 460.8V464.8M269.10 457.8V464.8M269.40 458.8V464.9M270.60 457.3V464.9M271.20 462.1V464.9M271.80 458.5V464.9M272.10 461.5V465.0M273.90 459.0V465.0M274.80 460.1V465.1M275.10 458.9V465.1M276.00 459.2V465.1M276.60 456.7V465.1M277.20 460.0V465.1M277.80 455.7V465.2M278.10 461.0V465.2M279.00 459.1V465.2M279.60 459.4V465.2M282.60 460.2V465.3M282.90 460.6V465.4M284.10 458.9V465.4M284.40 460.0V465.4M285.60 458.0V465.5M285.90 460.6V465.5M289.80 452.7V465.6M290.10 454.4V465.6M290.40 461.3V465.6M290.70 458.6V465.7M291.00 461.9V465.7M291.60 456.6V465.7M292.20 460.4V465.7M292.50 459.8V465.7M292.80 459.1V465.7M293.40 463.6V465.8M294.90 459.4V465.8M295.20 455.0V465.8M295.50 463.8V465.8M296.10 459.5V465.9M297.60 461.6V465.9M299.10 456.7V466.0M299.40 462.9V466.0M299.70 460.8V466.0M300.30 462.6V466.0M300.60 461.5V466.0M301.20 463.1V466.0M302.40 460.6V466.1M303.30 461.8V466.1M303.90 455.2V466.2M304.20 460.4V466.2M305.70 461.8V466.2M306.00 462.8V466.2M306.60 462.6V466.3M307.20 461.6V466.3M308.10 459.1V466.3M308.40 453.9V466.3M309.90 461.3V466.4M310.50 458.9V466.4M311.10 463.8V466.5M311.40 454.6V466.5M312.60 461.0V466.5M313.20 463.8V466.5M313.50 463.6V466.5M314.10 462.2V466.6M314.40 458.2V466.6M314.70 449.5V466.6M315.00 461.4V466.6M315.30 463.0V466.6M315.60 460.3V466.6M316.20 460.2V466.7M317.10 463.5V466.7M318.60 461.3V466.8M320.70 461.2V466.8M321.30 462.3V466.9M321.60 458.1V466.9M321.90 462.5V466.9M322.20 463.3V466.9M323.40 463.1V466.9M324.00 464.3V467.0M324.60 464.4V467.0M324.90 464.6V467.0M325.50 463.6V467.0M326.10 461.3V467.1M326.40 458.2V467.1M327.30 463.8V467.1M327.60 463.5V467.1M327.90 462.3V467.1M328.50 461.0V467.2M329.70 458.8V467.2M330.30 461.6V467.2M331.50 463.7V467.3M332.10 459.7V467.3M332.70 464.9V467.3M335.70 459.4V467.4M336.30 458.3V467.5M336.90 462.9V467.5" stroke="#2e3192" stroke-width="0.5" stroke-opacity="0.95" fill="none"/>
<path d="M225.00 458.1V463.6M225.30 455.5V463.6M225.60 453.2V463.6M225.90 455.2V463.6M229.20 456.0V463.7M229.80 458.0V463.7M231.90 453.9V463.8M232.20 460.9V463.8M234.00 457.5V463.9M236.10 456.8V463.9M236.40 460.3V463.9M237.00 454.1V463.9M238.50 455.7V464.0M239.70 461.4V464.0M241.50 450.0V464.0M246.30 460.9V464.2M246.90 460.2V464.2M247.80 455.6V464.2M248.70 461.3V464.2M251.40 457.6V464.3M254.10 459.8V464.4M258.60 457.9V464.5M261.00 459.6V464.5M266.10 457.5V464.7M267.90 461.5V464.8M272.10 460.1V465.0M272.40 452.4V465.0M273.60 455.3V465.0M275.10 459.3V465.1M275.40 459.8V465.1M275.70 460.7V465.1M276.90 458.5V465.1M280.50 456.0V465.3M284.70 455.1V465.4M285.30 453.8V465.4M285.60 447.5V465.5M288.30 459.0V465.6M290.40 457.6V465.6M290.70 461.6V465.7M294.00 457.7V465.8M296.10 462.1V465.9M297.30 453.5V465.9M298.20 453.9V465.9M300.00 459.8V466.0M300.90 457.4V466.0M301.80 459.4V466.1M302.70 460.7V466.1M303.00 460.7V466.1M303.90 458.8V466.2M304.50 460.8V466.2M306.00 458.2V466.2M306.60 453.1V466.3M308.70 459.5V466.4M312.60 461.5V466.5M315.00 459.4V466.6M322.50 461.3V466.9M323.10 459.0V466.9M334.20 449.4V467.4" stroke="#4a4ab0" stroke-width="0.5" stroke-opacity="0.95" fill="none"/>
<path d="M223.20 456.4V463.6M225.30 456.1V463.6M232.50 455.5V463.8M233.70 461.5V463.8M240.00 458.2V464.0M250.50 457.7V464.3M250.80 448.3V464.3M255.00 456.6V464.4M267.90 456.7V464.8M278.40 454.1V465.2M281.70 461.7V465.3M284.70 452.8V465.4M285.30 447.4V465.4M286.20 461.0V465.5M289.20 457.4V465.6M290.10 461.5V465.6M296.10 454.7V465.9M300.00 455.1V466.0M303.60 458.3V466.1M304.80 457.3V466.2M306.30 455.8V466.3M307.20 460.1V466.3M311.70 448.8V466.5M312.60 460.6V466.5M315.60 458.7V466.6M320.40 448.8V466.8M320.70 458.7V466.8M322.20 453.3V466.9M325.50 449.2V467.0M326.70 453.2V467.1M332.40 452.7V467.3" stroke="#aeb0e2" stroke-width="0.5" stroke-opacity="0.95" fill="none"/>
<path d="M233.40 456.9V463.8M248.40 459.8V464.2M255.60 453.7V464.4M256.80 457.3V464.4M265.50 459.2V464.7M271.80 452.0V464.9M272.40 459.5V465.0M274.50 456.8V465.0M276.00 455.4V465.1M280.20 459.1V465.3M295.50 450.9V465.8M303.60 459.1V466.1M308.70 453.9V466.4M312.60 455.8V466.5M314.40 460.2V466.6M314.70 451.7V466.6M315.00 463.2V466.6M315.60 452.6V466.6M321.00 461.1V466.9" stroke="#e6a0b8" stroke-width="0.5" stroke-opacity="0.95" fill="none"/>
<path d="M222.60 445.6V463.6M224.70 452.7V463.6M232.80 455.2V463.8M234.60 446.9V463.9M272.40 461.3V465.0M283.50 459.5V465.4M284.70 461.9V465.4M292.80 457.7V465.7M306.90 454.4V466.3M321.00 463.2V466.9M330.30 456.6V467.2" stroke="#7ab898" stroke-width="0.5" stroke-opacity="0.95" fill="none"/>
<path d="M228.60 458.6V463.7M240.90 459.1V464.0M251.70 459.8V464.3M255.60 460.5V464.4M259.50 459.8V464.5M269.40 459.7V464.9M273.00 461.1V465.0M283.50 461.4V465.4M294.00 459.1V465.8M309.30 462.0V466.4M310.20 459.4V466.4M322.20 461.7V466.9M331.20 463.5V467.3M331.50 461.7V467.3M333.30 464.1V467.4" stroke="#d05070" stroke-width="0.5" stroke-opacity="0.95" fill="none"/>
<path d="M220.80 492.0V495.7M221.40 492.0V494.1M222.30 492.0V493.9M223.20 492.0V494.6M223.50 492.0V493.8M224.70 492.1V494.4M225.30 492.1V497.1M225.60 492.1V497.0M226.50 492.1V495.3M227.40 492.1V494.8M227.70 492.1V495.4M228.90 492.1V495.6M230.40 492.1V496.1M231.30 492.1V495.7M231.60 492.1V494.5M231.90 492.1V495.0M232.50 492.2V494.6M233.10 492.2V497.5M233.70 492.2V495.6M235.50 492.2V497.0M236.10 492.2V494.0M236.40 492.2V495.5M236.70 492.2V495.8M238.20 492.2V493.5M238.50 492.2V495.1M239.40 492.2V497.0M239.70 492.2V498.8M240.90 492.3V494.8M241.80 492.3V494.5M242.10 492.3V493.5M242.40 492.3V493.1M242.70 492.3V493.0M244.20 492.3V496.0M244.80 492.3V494.7M246.30 492.3V494.7M247.80 492.3V496.2M249.00 492.4V497.3M249.30 492.4V498.8M249.60 492.4V497.9M249.90 492.4V495.6M250.80 492.4V493.0M251.10 492.4V495.3M252.30 492.4V494.1M252.90 492.4V494.2M254.10 492.4V495.5M254.40 492.4V495.9M255.60 492.4V499.0M255.90 492.4V495.4M256.50 492.5V495.4M256.80 492.5V495.1M257.40 492.5V494.0M258.90 492.5V501.0M259.20 492.5V497.8M259.50 492.5V496.7M260.10 492.5V495.7M261.00 492.5V499.6M261.60 492.5V496.4M261.90 492.5V501.6M262.20 492.5V495.6M262.50 492.5V496.7M262.80 492.5V494.7M263.40 492.5V501.4M264.00 492.5V496.7M265.20 492.5V495.3M265.50 492.5V494.8M266.10 492.5V494.9M266.70 492.5V495.8M267.30 492.5V494.7M268.20 492.5V495.8M268.80 492.5V494.6M269.10 492.5V497.3M269.40 492.5V496.1M270.00 492.5V495.6M270.90 492.5V497.9M271.50 492.5V495.6M272.40 492.5V495.0M273.30 492.5V495.8M273.60 492.5V494.7M274.50 492.5V498.2M275.10 492.5V494.1M276.00 492.5V493.4M276.30 492.5V495.2M276.90 492.5V497.5M277.50 492.5V494.8M277.80 492.5V497.4M278.10 492.5V501.3M278.70 492.5V494.5M279.00 492.5V494.9M279.90 492.5V501.5M280.20 492.5V493.9M281.70 492.5V493.6M283.50 492.5V495.6M284.40 492.5V499.1M284.70 492.5V495.2M285.30 492.5V495.1M285.90 492.5V495.7M286.20 492.5V497.2M288.90 492.5V494.2M289.50 492.5V495.4M289.80 492.5V494.7M291.30 492.5V495.2M292.80 492.5V494.9M293.10 492.5V493.6M293.40 492.5V496.2M294.30 492.5V493.4M295.80 492.5V494.2M296.10 492.5V495.3M297.00 492.5V497.3M297.60 492.5V494.9M297.90 492.5V496.7M298.20 492.5V498.2M299.40 492.5V495.2M299.70 492.5V496.7M300.00 492.5V499.9M300.60 492.5V496.4M301.50 492.5V496.0M303.30 492.5V495.0M303.60 492.5V497.5M304.20 492.6V496.3M304.50 492.6V494.9M304.80 492.6V495.0M305.40 492.6V498.6M305.70 492.6V496.3M306.00 492.6V497.8M306.30 492.6V496.3M307.20 492.6V494.2M307.50 492.6V496.2M309.00 492.6V496.6M309.30 492.6V494.1M309.60 492.6V495.0M310.20 492.6V493.9M310.50 492.6V495.7M310.80 492.6V493.7M311.10 492.7V493.9M312.00 492.7V497.5M312.30 492.7V495.8M312.90 492.7V496.2M313.80 492.7V494.5M315.00 492.7V495.9M315.30 492.7V498.1M315.90 492.7V497.2M316.20 492.7V499.2M317.10 492.7V493.9M317.70 492.7V498.9M318.30 492.7V495.2M318.60 492.8V495.8M320.70 492.8V493.9M321.30 492.8V498.6M321.60 492.8V495.7M321.90 492.8V499.8M322.20 492.8V494.2M322.50 492.8V497.7M322.80 492.8V495.1M324.00 492.8V495.4M324.30 492.8V496.6M324.60 492.8V494.5M324.90 492.8V495.4M325.80 492.8V498.2M326.10 492.9V495.6M326.40 492.9V496.1M327.60 492.9V494.2M327.90 492.9V496.3M329.40 492.9V494.1M330.30 492.9V494.2M330.60 492.9V499.7M330.90 492.9V495.5M331.80 492.9V495.1M332.10 492.9V495.0M333.60 493.0V493.6M333.90 493.0V494.9M334.20 493.0V499.4M335.40 493.0V494.3M336.30 493.0V494.6M336.60 493.0V496.5M336.90 493.0V494.9" stroke="#2e3192" stroke-width="0.5" stroke-opacity="0.95" fill="none"/>
<path d="M222.60 492.0V494.5M222.90 492.0V493.2M224.70 492.1V499.2M225.30 492.1V500.9M226.50 492.1V493.8M235.80 492.2V498.3M236.10 492.2V498.8M236.70 492.2V494.9M237.30 492.2V498.1M237.90 492.2V493.5M238.50 492.2V501.6M241.50 492.3V498.4M242.10 492.3V495.7M243.00 492.3V499.1M247.20 492.3V495.0M247.50 492.3V495.7M247.80 492.3V494.2M248.70 492.4V498.0M251.40 492.4V501.3M252.30 492.4V496.2M252.90 492.4V494.6M255.60 492.4V499.9M257.10 492.5V495.9M258.90 492.5V499.5M260.70 492.5V497.1M261.90 492.5V497.4M262.20 492.5V498.7M265.80 492.5V501.6M266.70 492.5V501.6M273.30 492.5V499.2M277.20 492.5V500.8M279.30 492.5V500.4M280.20 492.5V497.6M281.40 492.5V496.3M281.70 492.5V494.7M283.50 492.5V498.0M285.00 492.5V494.7M288.00 492.5V495.4M288.30 492.5V500.0M290.40 492.5V501.6M290.70 492.5V499.8M291.60 492.5V495.1M292.80 492.5V495.7M293.10 492.5V499.2M293.40 492.5V500.3M294.60 492.5V501.6M295.20 492.5V496.6M295.80 492.5V494.6M296.70 492.5V501.6M297.00 492.5V499.3M297.30 492.5V495.6M300.60 492.5V496.8M301.80 492.5V499.1M303.00 492.5V494.2M303.60 492.5V501.6M304.20 492.6V494.0M304.50 492.6V500.7M304.80 492.6V500.9M305.10 492.6V494.4M309.00 492.6V497.2M309.30 492.6V498.8M310.20 492.6V496.5M311.10 492.7V501.6M312.30 492.7V499.3M312.90 492.7V500.7M313.50 492.7V498.1M314.70 492.7V494.7M315.60 492.7V498.9M316.80 492.7V493.9M318.00 492.7V501.6M320.40 492.8V496.1M323.40 492.8V501.6M324.00 492.8V495.6M324.90 492.8V496.3M325.20 492.8V495.4M326.10 492.9V497.5M328.20 492.9V497.5M328.80 492.9V500.2M329.40 492.9V495.9M329.70 492.9V498.5M330.30 492.9V497.1M330.60 492.9V501.6M331.80 492.9V497.4M332.10 492.9V497.0M336.30 493.0V500.8" stroke="#151515" stroke-width="0.55" stroke-opacity="0.95" fill="none"/>
<path d="M221.70 492.0V495.9M222.00 492.0V501.6M222.30 492.0V494.5M222.90 492.0V496.2M224.10 492.1V501.6M227.40 492.1V495.8M228.60 492.1V501.6M234.30 492.2V498.9M237.90 492.2V496.4M238.50 492.2V498.2M239.10 492.2V501.6M240.60 492.3V495.4M240.90 492.3V495.0M245.40 492.3V496.5M248.40 492.4V501.6M248.70 492.4V496.4M249.00 492.4V496.5M249.30 492.4V497.1M253.20 492.4V496.0M256.50 492.5V497.4M258.30 492.5V494.7M259.80 492.5V495.6M264.60 492.5V501.6M265.80 492.5V499.2M271.80 492.5V498.9M272.10 492.5V499.0M273.90 492.5V497.1M275.70 492.5V494.2M276.30 492.5V500.6M289.50 492.5V494.1M291.00 492.5V495.1M291.30 492.5V494.0M291.60 492.5V497.6M292.80 492.5V493.5M293.10 492.5V494.8M295.20 492.5V496.4M296.70 492.5V500.1M302.40 492.5V496.4M304.80 492.6V501.6M305.10 492.6V498.8M305.70 492.6V501.6M306.60 492.6V495.9M312.60 492.7V497.0M313.20 492.7V496.0M313.80 492.7V493.6M314.10 492.7V497.6M315.90 492.7V495.2M320.10 492.8V499.7M322.20 492.8V501.6M325.80 492.8V501.6M326.10 492.9V501.6M326.40 492.9V499.7M327.60 492.9V496.7M327.90 492.9V499.9M328.80 492.9V501.6M330.60 492.9V495.3M330.90 492.9V494.2M331.20 492.9V495.1M333.30 493.0V501.6M335.10 493.0V501.6M336.30 493.0V494.9M336.60 493.0V496.0" stroke="#1c8a46" stroke-width="0.55" stroke-opacity="0.95" fill="none"/>
<path d="M227.70 492.1V499.2M228.00 492.1V493.7M237.00 492.2V501.6M246.30 492.3V494.6M250.50 492.4V496.5M254.70 492.4V495.3M256.50 492.5V495.4M257.70 492.5V496.7M260.10 492.5V500.1M261.60 492.5V496.9M263.10 492.5V497.0M265.80 492.5V497.4M266.70 492.5V496.9M267.90 492.5V495.3M269.70 492.5V499.1M272.70 492.5V494.7M276.30 492.5V494.4M281.10 492.5V497.8M293.70 492.5V501.6M296.40 492.5V497.1M297.90 492.5V494.3M298.80 492.5V501.6M300.30 492.5V496.9M303.90 492.6V499.6M307.20 492.6V495.2M316.20 492.7V498.2M318.90 492.8V494.9M324.00 492.8V498.5M327.30 492.9V497.7M333.60 493.0V497.8M334.50 493.0V495.5" stroke="#c03050" stroke-width="0.5" stroke-opacity="0.95" fill="none"/>
<path d="M230.40 492.1V492.9M232.80 492.2V496.9M234.00 492.2V497.3M239.40 492.2V495.9M240.60 492.3V501.4M241.20 492.3V494.8M244.50 492.3V496.3M250.50 492.4V495.3M255.60 492.4V495.5M257.40 492.5V500.2M259.20 492.5V493.9M259.50 492.5V493.6M262.50 492.5V497.7M269.40 492.5V494.2M277.80 492.5V495.9M287.40 492.5V501.6M293.40 492.5V501.6M295.80 492.5V494.8M298.50 492.5V497.6M298.80 492.5V495.0M322.80 492.8V494.4M327.60 492.9V495.2M333.00 492.9V496.6" stroke="#3a7060" stroke-width="0.5" stroke-opacity="0.95" fill="none"/>
<path d="M230.10 492.1V501.6M232.20 492.2V495.1M234.90 492.2V494.3M237.60 492.2V493.8M261.30 492.5V493.9M268.80 492.5V498.0M271.20 492.5V499.5M276.90 492.5V497.7M288.60 492.5V498.1M289.50 492.5V499.8M306.90 492.6V493.7M312.00 492.7V501.6M319.20 492.8V501.6M319.50 492.8V501.6M322.50 492.8V501.6M328.80 492.9V495.9M331.20 492.9V500.8M335.70 493.0V501.6M336.00 493.0V494.9" stroke="#9aa0d8" stroke-width="0.5" stroke-opacity="0.95" fill="none"/>
<line x1="220.00" y1="402.00" x2="220.00" y2="503.20" stroke="#1e1e1e" stroke-width="1.25"/>
<line x1="220.00" y1="502.70" x2="339.30" y2="502.70" stroke="#1e1e1e" stroke-width="1.25"/>
<line x1="217.00" y1="413.30" x2="220.00" y2="413.30" stroke="#1e1e1e" stroke-width="1.25"/>
<text x="213.8" y="416.40000000000003" font-size="8.8" text-anchor="end" textLength="15.58" lengthAdjust="spacingAndGlyphs" fill="#262626" stroke="#262626" stroke-width="0.14">0.10</text>
<line x1="217.00" y1="460.30" x2="220.00" y2="460.30" stroke="#1e1e1e" stroke-width="1.25"/>
<text x="213.8" y="463.40000000000003" font-size="8.8" text-anchor="end" textLength="15.58" lengthAdjust="spacingAndGlyphs" fill="#262626" stroke="#262626" stroke-width="0.14">0.05</text>
<line x1="235.50" y1="502.70" x2="235.50" y2="505.30" stroke="#1e1e1e" stroke-width="1.25"/>
<text x="235.5" y="515.1" font-size="9" text-anchor="middle" textLength="17.6" lengthAdjust="spacingAndGlyphs" fill="#262626" stroke="#262626" stroke-width="0.14">2050</text>
<line x1="264.80" y1="502.70" x2="264.80" y2="505.30" stroke="#1e1e1e" stroke-width="1.25"/>
<text x="264.8" y="515.1" font-size="9" text-anchor="middle" textLength="17.6" lengthAdjust="spacingAndGlyphs" fill="#262626" stroke="#262626" stroke-width="0.14">2100</text>
<line x1="294.00" y1="502.70" x2="294.00" y2="505.30" stroke="#1e1e1e" stroke-width="1.25"/>
<text x="294.0" y="515.1" font-size="9" text-anchor="middle" textLength="17.6" lengthAdjust="spacingAndGlyphs" fill="#262626" stroke="#262626" stroke-width="0.14">2150</text>
<line x1="323.20" y1="502.70" x2="323.20" y2="505.30" stroke="#1e1e1e" stroke-width="1.25"/>
<text x="323.2" y="515.1" font-size="9" text-anchor="middle" textLength="17.6" lengthAdjust="spacingAndGlyphs" fill="#262626" stroke="#262626" stroke-width="0.14">2200</text>
<text x="279.0" y="528.0" font-size="9.6" text-anchor="middle" textLength="41.6" lengthAdjust="spacingAndGlyphs" fill="#262626" stroke="#262626" stroke-width="0.14">Mass/charge</text>
<text transform="translate(193.6,452.2) rotate(-90)" font-size="9.4" text-anchor="middle" textLength="64.5" lengthAdjust="spacingAndGlyphs" fill="#262626" stroke="#262626" stroke-width="0.14">Relative abundance</text>
<path d="M223.30 420.00V417.20H272.30V420.00M247.70 417.20V414.70" fill="none" stroke="#2a2a2a" stroke-width="1.1"/>
<text x="247.8" y="411.4" font-size="8.2" text-anchor="middle" textLength="41.4" lengthAdjust="spacingAndGlyphs" fill="#262626" stroke="#262626" stroke-width="0.14">IgG lambda</text>
<path d="M274.30 397.40V394.60H339.60V397.40M306.50 394.60V392.10" fill="none" stroke="#2a2a2a" stroke-width="1.1"/>
<text x="306.6" y="388.3" font-size="8.2" text-anchor="middle" textLength="37.2" lengthAdjust="spacingAndGlyphs" fill="#262626" stroke="#262626" stroke-width="0.14">IgG kappa</text>
<text x="360.3" y="382.3" font-size="11.6" font-weight="bold" fill="#000">G</text>
<polygon points="392.60,479.8 392.90,479.7 393.20,480.1 393.50,479.5 393.80,479.5 394.10,480.8 394.40,478.3 394.70,478.1 395.00,478.6 395.30,480.7 395.60,479.1 395.90,481.8 396.20,475.8 396.50,478.6 396.80,479.0 397.10,479.8 397.40,481.1 397.70,479.3 398.00,478.3 398.30,480.5 398.60,481.4 398.90,476.4 399.20,480.2 399.50,479.9 399.80,478.5 400.10,478.9 400.40,479.8 400.70,479.5 401.00,479.2 401.30,478.1 401.60,479.8 401.90,478.7 402.20,479.6 402.50,478.8 402.80,479.7 403.10,480.4 403.40,479.8 403.70,480.3 404.00,477.8 404.30,480.1 404.60,479.8 404.90,478.7 405.20,479.3 405.50,476.1 405.80,479.6 406.10,479.0 406.40,476.8 406.70,480.1 407.00,478.7 407.30,479.8 407.60,479.2 407.90,480.1 408.20,479.6 408.50,479.1 408.80,480.1 409.10,480.5 409.40,476.8 409.70,479.5 410.00,478.8 410.30,478.1 410.60,481.0 410.90,480.6 411.20,478.2 411.50,478.1 411.80,480.4 412.10,478.6 412.40,479.0 412.70,477.0 413.00,479.2 413.30,480.7 413.60,478.8 413.90,479.2 414.20,481.4 414.50,480.3 414.80,481.0 415.10,480.0 415.40,480.7 415.70,477.2 416.00,478.2 416.30,477.2 416.60,481.8 416.90,479.4 417.20,479.0 417.50,478.2 417.80,477.9 418.10,475.7 418.40,481.8 418.70,479.0 419.00,479.1 419.30,477.3 419.60,478.9 419.90,479.4 420.20,478.9 420.50,479.7 420.80,477.9 421.10,479.2 421.40,479.9 421.70,479.4 422.00,479.1 422.30,478.5 422.60,477.4 422.90,479.2 423.20,478.0 423.50,477.3 423.80,479.3 424.10,476.4 424.40,477.7 424.70,479.2 425.00,479.4 425.30,477.7 425.60,478.2 425.90,478.8 426.20,478.0 426.50,477.1 426.80,478.5 427.10,478.1 427.40,478.0 427.70,479.2 428.00,478.2 428.30,477.2 428.60,477.9 428.90,480.0 429.20,476.7 429.50,477.2 429.80,476.6 430.10,477.9 430.40,476.0 430.70,478.1 431.00,478.5 431.30,476.6 431.60,476.6 431.90,475.8 432.20,477.7 432.50,476.3 432.80,476.9 433.10,477.1 433.40,476.8 433.70,478.7 434.00,479.6 434.30,475.2 434.60,476.7 434.90,478.0 435.20,476.5 435.50,477.1 435.80,478.0 436.10,479.5 436.40,479.2 436.70,477.5 437.00,478.0 437.30,477.4 437.60,477.7 437.90,476.5 438.20,475.8 438.50,477.5 438.80,479.1 439.10,478.9 439.40,475.7 439.70,477.7 440.00,477.2 440.30,478.4 440.60,476.7 440.90,479.2 441.20,477.9 441.50,478.8 441.80,479.2 442.10,475.9 442.40,478.0 442.70,480.1 443.00,478.3 443.30,479.6 443.60,478.9 443.90,477.8 444.20,478.8 444.50,479.7 444.80,480.0 445.10,480.2 445.40,477.2 445.70,479.6 446.00,476.9 446.30,478.5 446.60,478.4 446.90,479.4 447.20,479.1 447.50,480.2 447.80,478.0 448.10,479.8 448.40,479.3 448.70,478.9 449.00,477.5 449.30,479.6 449.60,479.3 449.90,479.9 450.20,478.9 450.50,478.6 450.80,479.3 451.10,479.3 451.40,479.5 451.70,480.9 452.00,477.9 452.30,480.9 452.60,474.9 452.90,479.6 453.20,477.4 453.50,480.7 453.80,477.2 454.10,479.4 454.40,476.9 454.70,476.7 455.00,479.0 455.30,478.9 455.60,476.8 455.90,480.4 456.20,476.9 456.50,479.0 456.80,475.8 457.10,475.6 457.40,476.7 457.70,475.2 458.00,476.8 458.30,473.5 458.60,476.2 458.90,475.1 459.20,474.4 459.50,475.7 459.80,475.0 460.10,474.5 460.40,475.9 460.70,475.1 461.00,475.0 461.30,476.0 461.60,474.1 461.90,475.1 462.20,473.2 462.50,474.1 462.80,473.6 463.10,471.9 463.40,470.3 463.70,470.2 464.00,470.2 464.30,471.6 464.60,470.4 464.90,469.8 465.20,470.3 465.50,470.2 465.80,470.6 466.10,467.9 466.40,468.8 466.70,468.6 467.00,466.3 467.30,467.0 467.60,465.2 467.90,465.5 468.20,465.7 468.50,462.7 468.80,463.1 469.10,462.7 469.40,463.2 469.70,461.7 470.00,462.4 470.30,460.6 470.60,460.6 470.90,461.6 471.20,460.9 471.50,460.3 471.80,459.7 472.10,460.9 472.40,461.8 472.70,460.3 473.00,460.4 473.30,460.5 473.60,464.4 473.90,461.8 474.20,461.9 474.50,464.5 474.80,466.1 475.10,464.1 475.40,466.1 475.70,465.3 476.00,466.8 476.30,470.3 476.60,469.3 476.90,469.5 477.20,470.3 477.50,470.8 477.80,470.6 478.10,469.5 478.40,469.8 478.70,473.9 479.00,470.8 479.30,473.4 479.60,471.4 479.90,474.1 480.20,473.6 480.50,472.8 480.80,475.7 481.10,472.5 481.40,473.6 481.70,473.1 482.00,473.4 482.30,474.2 482.60,473.8 482.90,474.8 483.20,477.3 483.50,473.6 483.80,474.5 484.10,475.1 484.40,475.9 484.70,477.9 485.00,477.9 485.30,477.7 485.60,477.5 485.90,480.3 486.20,476.2 486.50,476.3 486.80,477.8 487.10,478.2 487.40,477.8 487.70,477.2 488.00,476.8 488.30,478.2 488.60,477.8 488.90,478.2 489.20,477.6 489.50,480.6 489.80,479.7 490.10,481.5 490.40,478.8 490.70,479.6 491.00,479.4 491.30,479.9 491.60,479.7 491.90,479.9 492.20,477.9 492.50,480.0 492.80,481.3 493.10,478.3 493.40,480.4 493.70,481.6 494.00,482.6 494.30,481.1 494.60,481.9 494.90,483.5 495.20,483.1 495.50,481.0 495.80,480.8 496.10,482.8 496.40,481.8 496.70,480.9 497.00,481.3 497.30,482.0 497.60,481.4 497.90,481.3 498.20,481.4 498.50,479.9 498.80,483.8 499.10,483.2 499.40,483.5 499.70,481.6 500.00,481.9 500.30,482.4 500.60,482.8 500.90,479.6 501.20,482.2 501.50,480.6 501.80,481.8 502.10,481.1 502.40,483.9 502.70,482.5 503.00,481.9 503.30,483.6 503.60,481.8 503.90,481.1 504.20,481.7 504.50,481.5 504.80,482.0 505.10,483.0 505.40,481.8 505.70,481.9 506.00,483.1 506.30,482.2 506.60,483.0 506.90,482.0 507.20,480.3 507.50,480.5 507.80,479.8 508.10,483.1 508.40,482.3 508.70,481.2 509.00,480.5 509.30,482.1 509.60,481.5 509.90,482.0 510.20,480.6 510.50,480.3 510.80,483.5 511.10,480.4 511.40,481.5 511.70,483.1 512.00,479.3 512.30,482.3 512.30,500.3 512.00,500.3 511.70,500.3 511.40,500.3 511.10,500.2 510.80,500.2 510.50,500.2 510.20,500.2 509.90,500.1 509.60,500.1 509.30,500.1 509.00,500.1 508.70,500.0 508.40,500.0 508.10,500.0 507.80,500.0 507.50,500.0 507.20,499.9 506.90,499.9 506.60,499.9 506.30,499.9 506.00,499.8 505.70,499.8 505.40,499.8 505.10,499.8 504.80,499.7 504.50,499.7 504.20,499.7 503.90,499.7 503.60,499.7 503.30,499.6 503.00,499.6 502.70,499.6 502.40,499.6 502.10,499.5 501.80,499.5 501.50,499.5 501.20,499.5 500.90,499.5 500.60,499.4 500.30,499.4 500.00,499.4 499.70,499.4 499.40,499.3 499.10,499.3 498.80,499.3 498.50,499.3 498.20,499.2 497.90,499.2 497.60,499.2 497.30,499.2 497.00,499.2 496.70,499.1 496.40,499.1 496.10,499.1 495.80,499.1 495.50,499.0 495.20,499.0 494.90,499.0 494.60,498.9 494.30,498.8 494.00,498.8 493.70,498.7 493.40,498.6 493.10,498.5 492.80,498.5 492.50,498.4 492.20,498.3 491.90,498.2 491.60,498.2 491.30,498.1 491.00,498.0 490.70,497.9 490.40,497.9 490.10,497.8 489.80,497.7 489.50,497.6 489.20,497.6 488.90,497.5 488.60,497.4 488.30,497.3 488.00,497.3 487.70,497.2 487.40,497.1 487.10,497.0 486.80,497.0 486.50,496.9 486.20,496.8 485.90,496.7 485.60,496.7 485.30,496.6 485.00,496.5 484.70,496.3 484.40,496.1 484.10,495.9 483.80,495.7 483.50,495.5 483.20,495.3 482.90,495.1 482.60,494.9 482.30,494.7 482.00,494.6 481.70,494.4 481.40,494.2 481.10,494.0 480.80,493.8 480.50,493.6 480.20,493.4 479.90,493.2 479.60,493.0 479.30,492.8 479.00,492.6 478.70,492.4 478.40,492.2 478.10,492.0 477.80,491.8 477.50,491.6 477.20,491.4 476.90,491.2 476.60,490.9 476.30,490.6 476.00,490.4 475.70,490.1 475.40,489.8 475.10,489.5 474.80,489.2 474.50,488.9 474.20,488.6 473.90,488.4 473.60,488.1 473.30,487.8 473.00,487.5 472.70,487.5 472.40,487.5 472.10,487.5 471.80,487.5 471.50,487.5 471.20,487.5 470.90,487.6 470.60,487.8 470.30,488.0 470.00,488.3 469.70,488.5 469.40,488.7 469.10,489.0 468.80,489.2 468.50,489.4 468.20,489.7 467.90,489.9 467.60,490.1 467.30,490.4 467.00,490.6 466.70,490.8 466.40,491.1 466.10,491.3 465.80,491.6 465.50,491.8 465.20,492.0 464.90,492.3 464.60,492.5 464.30,492.8 464.00,493.0 463.70,493.2 463.40,493.5 463.10,493.7 462.80,494.0 462.50,494.2 462.20,494.4 461.90,494.7 461.60,494.9 461.30,495.1 461.00,495.4 460.70,495.6 460.40,495.8 460.10,496.1 459.80,496.3 459.50,496.5 459.20,496.8 458.90,497.0 458.60,497.3 458.30,497.5 458.00,497.7 457.70,498.0 457.40,498.2 457.10,498.4 456.80,498.5 456.50,498.6 456.20,498.7 455.90,498.7 455.60,498.8 455.30,498.8 455.00,498.9 454.70,499.0 454.40,499.0 454.10,499.1 453.80,499.1 453.50,499.2 453.20,499.3 452.90,499.3 452.60,499.4 452.30,499.4 452.00,499.5 451.70,499.5 451.40,499.5 451.10,499.4 450.80,499.4 450.50,499.4 450.20,499.4 449.90,499.3 449.60,499.3 449.30,499.3 449.00,499.3 448.70,499.2 448.40,499.2 448.10,499.2 447.80,499.2 447.50,499.1 447.20,499.1 446.90,499.1 446.60,499.1 446.30,499.0 446.00,499.0 445.70,498.9 445.40,498.7 445.10,498.6 444.80,498.4 444.50,498.3 444.20,498.1 443.90,498.0 443.60,497.8 443.30,497.7 443.00,497.5 442.70,497.4 442.40,497.2 442.10,497.1 441.80,496.9 441.50,496.8 441.20,496.6 440.90,496.5 440.60,496.3 440.30,496.2 440.00,496.0 439.70,495.9 439.40,495.9 439.10,495.8 438.80,495.7 438.50,495.6 438.20,495.6 437.90,495.5 437.60,495.4 437.30,495.3 437.00,495.3 436.70,495.2 436.40,495.1 436.10,495.0 435.80,495.0 435.50,494.9 435.20,494.8 434.90,494.7 434.60,494.7 434.30,494.6 434.00,494.5 433.70,494.5 433.40,494.5 433.10,494.6 432.80,494.6 432.50,494.6 432.20,494.6 431.90,494.7 431.60,494.7 431.30,494.7 431.00,494.7 430.70,494.8 430.40,494.8 430.10,494.8 429.80,494.8 429.50,494.9 429.20,494.9 428.90,494.9 428.60,494.9 428.30,495.0 428.00,495.0 427.70,495.1 427.40,495.3 427.10,495.4 426.80,495.6 426.50,495.7 426.20,495.9 425.90,496.0 425.60,496.2 425.30,496.3 425.00,496.5 424.70,496.6 424.40,496.8 424.10,496.9 423.80,497.1 423.50,497.2 423.20,497.4 422.90,497.5 422.60,497.7 422.30,497.8 422.00,498.0 421.70,498.1 421.40,498.2 421.10,498.3 420.80,498.3 420.50,498.4 420.20,498.5 419.90,498.6 419.60,498.7 419.30,498.8 419.00,498.9 418.70,498.9 418.40,499.0 418.10,499.1 417.80,499.2 417.50,499.3 417.20,499.4 416.90,499.5 416.60,499.5 416.30,499.6 416.00,499.7 415.70,499.8 415.40,499.9 415.10,500.0 414.80,500.0 414.50,500.0 414.20,500.0 413.90,500.0 413.60,500.0 413.30,500.0 413.00,500.0 412.70,500.0 412.40,500.0 412.10,500.0 411.80,500.0 411.50,500.0 411.20,500.0 410.90,500.1 410.60,500.1 410.30,500.1 410.00,500.1 409.70,500.1 409.40,500.1 409.10,500.1 408.80,500.1 408.50,500.1 408.20,500.1 407.90,500.1 407.60,500.1 407.30,500.1 407.00,500.1 406.70,500.1 406.40,500.1 406.10,500.1 405.80,500.1 405.50,500.1 405.20,500.1 404.90,500.1 404.60,500.1 404.30,500.1 404.00,500.1 403.70,500.1 403.40,500.2 403.10,500.2 402.80,500.2 402.50,500.2 402.20,500.2 401.90,500.2 401.60,500.2 401.30,500.2 401.00,500.2 400.70,500.2 400.40,500.2 400.10,500.2 399.80,500.2 399.50,500.2 399.20,500.2 398.90,500.2 398.60,500.2 398.30,500.2 398.00,500.2 397.70,500.2 397.40,500.2 397.10,500.2 396.80,500.2 396.50,500.2 396.20,500.2 395.90,500.2 395.60,500.3 395.30,500.3 395.00,500.3 394.70,500.3 394.40,500.3 394.10,500.3 393.80,500.3 393.50,500.3 393.20,500.3 392.90,500.3 392.60,500.3" fill="#2e3192" fill-opacity="1.0"/>
<path d="M394.10 473.7V481.5M394.40 472.0V481.5M399.20 475.1V481.5M402.20 473.2V481.5M404.90 476.7V481.5M407.00 462.3V481.5M407.30 467.1V481.5M411.50 467.2V481.4M419.00 473.6V481.0M423.50 475.2V480.5M429.80 469.3V479.5M434.30 472.9V479.7M443.60 473.5V480.4M447.80 476.6V480.8M448.10 466.0V480.8M458.00 468.6V478.3M459.20 466.2V477.6M468.20 459.0V467.2M470.00 446.0V464.0M478.10 462.1V473.0M479.60 467.8V474.3M480.50 470.5V475.1M485.60 474.8V479.3M488.90 461.8V480.8M495.50 474.3V483.5M495.80 463.5V483.5M499.10 463.7V483.7M503.00 476.4V483.9" stroke="#b4b4e2" stroke-width="0.5" stroke-opacity="0.95" fill="none"/>
<path d="M393.20 474.4V481.5M396.20 465.5V481.5M399.80 474.9V481.5M400.10 472.1V481.5M400.40 472.7V481.5M404.60 466.2V481.5M410.30 471.7V481.5M411.20 474.1V481.4M420.50 469.6V480.9M428.30 469.1V479.8M430.70 465.6V479.5M431.60 468.9V479.6M431.90 470.9V479.6M432.80 472.8V479.6M434.00 466.5V479.7M436.10 472.4V479.8M437.30 473.4V479.9M445.70 468.9V480.6M447.20 474.0V480.7M447.80 468.4V480.8M448.10 475.2V480.8M448.40 472.4V480.8M449.90 469.2V481.0M454.40 469.0V480.1M459.50 464.5V477.4M461.00 469.3V476.6M464.30 460.7V473.0M466.40 456.8V470.2M467.60 460.9V468.3M470.30 448.8V463.6M473.30 454.2V463.8M476.90 461.3V471.8M478.10 466.9V473.0M479.00 467.6V473.8M482.00 468.4V476.4M485.60 472.9V479.3M487.40 468.4V480.1M487.70 472.6V480.2M488.30 468.7V480.5M490.10 471.7V481.3M494.60 475.2V483.3M495.50 473.1V483.5M496.10 478.9V483.6M499.10 471.1V483.7M500.90 476.7V483.8M505.70 471.7V483.9M509.30 478.7V483.7M511.40 473.9V483.5" stroke="#7c7cc8" stroke-width="0.5" stroke-opacity="0.95" fill="none"/>
<path d="M393.20 475.4V481.5M394.70 474.0V481.5M395.30 478.2V481.5M398.60 466.0V481.5M402.50 467.6V481.5M402.80 470.1V481.5M406.40 477.4V481.5M407.90 476.8V481.5M408.50 476.7V481.5M413.60 469.4V481.3M414.50 474.0V481.3M417.20 471.7V481.1M417.50 475.8V481.1M418.10 475.5V481.1M418.40 473.9V481.1M419.30 472.8V481.0M423.50 474.2V480.5M426.20 473.6V480.1M427.10 465.0V479.9M428.30 465.1V479.8M430.10 465.9V479.5M431.60 471.6V479.6M432.80 475.5V479.6M433.70 473.0V479.7M434.90 473.0V479.7M435.50 475.3V479.8M438.20 475.5V479.9M439.70 473.1V480.0M442.10 475.2V480.2M443.60 472.2V480.4M446.60 474.7V480.7M446.90 476.2V480.7M449.90 475.4V481.0M451.10 474.2V480.8M453.80 472.7V480.2M454.40 473.7V480.1M457.40 469.7V478.6M457.70 469.9V478.5M458.00 474.5V478.3M459.80 471.3V477.3M463.10 467.1V474.5M464.30 465.5V473.0M465.50 463.5V471.4M467.90 458.5V467.8M468.80 460.1V466.2M472.10 457.4V461.7M475.10 459.4V467.6M477.50 465.3V472.4M481.10 458.1V475.6M482.00 471.7V476.4M484.10 469.0V478.2M485.30 474.2V479.1M485.60 460.3V479.3M488.90 476.1V480.8M491.00 476.2V481.7M492.20 474.1V482.2M492.80 474.8V482.5M494.00 474.4V483.1M494.30 478.5V483.2M494.90 474.9V483.5M495.20 464.5V483.5M496.40 478.4V483.6M496.70 477.9V483.6M498.80 476.8V483.7M500.90 470.3V483.8M502.40 472.1V483.9M504.20 479.9V484.0M505.10 478.3V484.0M506.60 476.5V483.9M509.00 479.4V483.7M509.30 479.4V483.7M509.90 464.6V483.6" stroke="#5050b0" stroke-width="0.5" stroke-opacity="0.95" fill="none"/>
<path d="M392.60 477.1V481.5M392.90 471.4V481.5M394.40 476.7V481.5M395.00 475.5V481.5M395.30 471.1V481.5M395.90 476.9V481.5M396.20 474.5V481.5M396.50 472.7V481.5M396.80 475.0V481.5M397.10 477.2V481.5M397.40 473.8V481.5M398.90 468.8V481.5M400.10 470.7V481.5M400.70 475.7V481.5M401.90 471.7V481.5M403.40 475.6V481.5M404.30 475.7V481.5M404.90 474.7V481.5M405.20 473.7V481.5M405.50 477.8V481.5M405.80 477.0V481.5M407.30 475.9V481.5M407.60 477.3V481.5M408.20 475.7V481.5M408.80 475.2V481.5M409.10 474.6V481.5M410.00 472.6V481.5M410.30 475.7V481.5M411.80 477.2V481.4M412.40 477.4V481.4M413.00 476.4V481.3M413.30 477.2V481.3M413.60 474.8V481.3M418.10 476.5V481.1M418.40 475.8V481.1M419.30 475.1V481.0M419.90 470.5V481.0M420.20 474.0V481.0M421.10 473.2V480.8M421.70 474.3V480.7M423.20 474.5V480.5M423.80 472.5V480.4M424.10 469.2V480.4M424.70 471.5V480.3M425.30 473.8V480.2M425.60 472.1V480.2M426.50 467.3V480.0M426.80 468.9V480.0M427.70 475.9V479.8M428.00 464.9V479.8M428.90 473.9V479.7M429.20 473.5V479.6M429.50 475.9V479.6M429.80 470.7V479.5M430.10 476.0V479.5M431.30 472.4V479.6M431.60 470.3V479.6M431.90 469.6V479.6M432.20 474.8V479.6M432.80 474.2V479.6M434.00 473.8V479.7M434.30 474.0V479.7M434.60 475.3V479.7M437.00 472.5V479.9M437.60 473.7V479.9M438.80 468.1V479.9M439.10 473.2V480.0M439.40 474.5V480.0M439.70 475.8V480.0M440.90 476.7V480.1M442.70 475.2V480.3M443.00 475.1V480.3M443.30 476.0V480.3M443.60 475.3V480.4M444.20 473.1V480.4M444.50 475.5V480.5M444.80 475.0V480.5M445.10 476.6V480.5M445.40 467.7V480.5M446.00 474.0V480.6M446.30 476.0V480.6M446.60 472.5V480.7M447.80 474.3V480.8M448.10 475.4V480.8M449.30 473.7V480.9M449.90 471.7V481.0M450.50 474.0V480.9M450.80 470.5V480.8M451.10 474.7V480.8M451.40 475.3V480.7M451.70 468.6V480.7M452.60 474.7V480.5M453.80 471.9V480.2M454.40 474.2V480.1M456.50 474.7V479.1M457.40 473.7V478.6M457.70 473.6V478.5M458.00 466.9V478.3M458.60 473.9V477.9M458.90 472.2V477.8M459.50 471.6V477.4M459.80 473.0V477.3M460.10 470.5V477.1M460.70 470.6V476.7M461.00 472.1V476.6M462.50 471.2V475.3M464.60 465.5V472.6M465.20 468.3V471.8M465.50 454.1V471.4M467.00 459.7V469.4M467.90 464.0V467.8M468.50 462.2V466.7M468.80 462.4V466.2M469.10 462.5V465.6M470.60 452.7V463.2M470.90 457.5V462.9M471.20 457.3V462.5M471.50 456.1V462.1M473.30 459.1V463.8M475.40 460.4V468.3M476.30 465.8V470.4M476.60 465.7V471.1M477.80 467.6V472.7M478.10 468.3V473.0M479.90 468.1V474.5M480.50 468.1V475.1M481.10 471.9V475.6M482.00 464.2V476.4M482.30 466.6V476.6M482.60 473.2V476.9M483.50 466.9V477.7M483.80 473.4V478.0M484.40 472.9V478.5M484.70 471.5V478.7M486.20 474.1V479.5M486.50 471.1V479.7M486.80 473.7V479.8M487.10 475.7V479.9M487.40 476.4V480.1M488.00 476.2V480.4M488.30 472.6V480.5M488.60 471.2V480.6M488.90 472.5V480.8M489.20 471.8V480.9M489.50 465.0V481.0M489.80 473.3V481.2M490.40 471.8V481.4M490.70 477.9V481.6M491.30 476.7V481.8M491.60 471.1V482.0M492.50 478.2V482.4M493.40 477.2V482.8M494.30 480.0V483.2M494.90 473.3V483.5M495.20 473.4V483.5M495.80 473.7V483.5M496.40 478.3V483.6M497.90 477.9V483.6M498.50 477.5V483.7M500.00 478.1V483.8M500.30 479.5V483.8M500.60 478.5V483.8M501.50 476.4V483.8M502.40 468.9V483.9M503.30 479.3V483.9M503.60 479.8V483.9M504.20 473.9V484.0M504.80 476.5V484.0M505.40 480.2V484.0M506.90 476.5V483.9M507.50 479.5V483.8M507.80 479.6V483.8M508.10 478.7V483.8M508.40 471.8V483.8M508.70 476.1V483.7M509.00 477.9V483.7M509.60 479.0V483.7M509.90 480.3V483.6M510.50 480.2V483.6M511.40 479.6V483.5" stroke="#2e3192" stroke-width="0.5" stroke-opacity="0.95" fill="none"/>
<path d="M393.20 498.3V501.6M393.50 498.3V501.6M394.10 498.3V501.0M394.40 498.3V501.5M394.70 498.3V501.6M395.30 498.3V501.6M395.90 498.2V501.3M396.20 498.2V501.6M396.50 498.2V500.7M397.10 498.2V501.6M398.30 498.2V501.6M398.60 498.2V501.6M399.20 498.2V501.3M401.90 498.2V501.6M402.80 498.2V501.2M403.10 498.2V500.8M403.40 498.2V501.6M403.70 498.1V501.6M404.00 498.1V501.4M405.20 498.1V501.1M405.50 498.1V501.6M406.10 498.1V500.5M407.00 498.1V501.6M407.30 498.1V501.2M408.20 498.1V501.6M408.80 498.1V501.6M409.10 498.1V501.6M409.70 498.1V500.7M410.60 498.1V500.7M410.90 498.1V501.6M411.50 498.0V500.7M412.10 498.0V501.6M413.00 498.0V501.5M414.50 498.0V501.6M415.70 497.8V500.5M416.00 497.7V500.5M416.30 497.6V501.6M416.60 497.5V501.6M417.50 497.3V499.8M417.80 497.2V499.3M418.40 497.0V500.6M419.00 496.9V500.3M419.30 496.8V499.2M419.60 496.7V499.5M420.50 496.4V501.6M421.70 496.1V501.6M422.00 496.0V501.6M422.60 495.7V498.2M422.90 495.5V498.8M423.20 495.4V497.7M424.40 494.8V499.6M424.70 494.6V497.6M425.00 494.5V497.2M425.30 494.3V498.9M426.20 493.9V498.7M426.50 493.7V499.3M427.10 493.4V495.6M427.70 493.1V498.0M428.30 493.0V499.7M429.80 492.8V497.6M430.10 492.8V496.3M431.60 492.7V495.2M432.20 492.6V496.5M433.10 492.6V495.3M433.40 492.5V495.1M433.70 492.5V494.9M434.60 492.7V494.8M434.90 492.7V497.4M436.40 493.1V496.0M436.70 493.2V496.5M438.20 493.6V496.5M439.10 493.8V497.3M440.30 494.2V496.2M440.60 494.3V497.1M440.90 494.5V498.7M441.50 494.8V497.8M442.40 495.2V500.0M443.30 495.7V497.9M443.90 496.0V499.3M444.20 496.1V499.6M444.80 496.4V501.6M445.40 496.7V501.6M445.70 496.9V499.3M446.00 497.0V501.6M446.90 497.1V501.6M447.50 497.1V500.7M449.30 497.3V500.8M450.20 497.4V500.8M451.10 497.4V500.3M451.70 497.5V500.2M452.60 497.4V500.8M454.70 497.0V499.0M455.30 496.8V501.6M455.90 496.7V500.0M456.20 496.7V499.0M456.50 496.6V500.1M456.80 496.5V499.3M457.40 496.2V501.6M457.70 496.0V499.4M458.30 495.5V500.7M458.60 495.3V501.6M459.50 494.5V497.3M459.80 494.3V501.5M460.40 493.8V496.4M461.60 492.9V496.0M461.90 492.7V496.3M462.20 492.4V497.6M463.70 491.2V494.1M464.30 490.8V494.9M464.90 490.3V494.5M467.00 488.6V492.6M467.30 488.4V494.2M467.60 488.1V490.7M468.20 487.7V490.6M468.80 487.2V491.1M469.10 487.0V491.4M469.70 486.5V489.9M470.00 486.3V489.4M470.60 485.8V487.9M470.90 485.6V488.4M471.20 485.5V488.1M471.50 485.5V490.7M472.40 485.5V489.9M472.70 485.5V490.1M473.00 485.5V493.5M473.30 485.8V493.3M473.60 486.1V490.4M473.90 486.4V489.3M474.20 486.6V488.9M474.50 486.9V492.4M474.80 487.2V491.5M475.40 487.8V491.0M475.70 488.1V494.2M476.00 488.4V492.4M476.60 488.9V492.6M477.50 489.6V493.9M477.80 489.8V491.9M478.10 490.0V498.0M478.40 490.2V496.4M479.00 490.6V493.6M479.60 491.0V494.3M480.50 491.6V495.6M481.70 492.4V496.5M482.60 492.9V496.4M483.20 493.3V501.3M483.80 493.7V496.7M484.10 493.9V496.5M484.40 494.1V498.7M484.70 494.3V499.9M485.60 494.7V501.6M485.90 494.7V501.6M486.20 494.8V497.4M486.50 494.9V499.8M486.80 495.0V501.6M487.10 495.0V500.2M488.30 495.3V498.3M488.60 495.4V500.5M488.90 495.5V499.8M489.20 495.6V500.9M489.50 495.6V498.9M490.40 495.9V501.6M490.70 495.9V501.6M491.00 496.0V500.2M491.30 496.1V500.1M491.60 496.2V499.9M492.80 496.5V499.0M493.10 496.5V500.0M493.40 496.6V500.7M493.70 496.7V501.6M494.00 496.8V501.6M494.30 496.8V501.3M494.60 496.9V499.8M495.50 497.0V501.6M496.40 497.1V501.4M496.70 497.1V499.4M497.00 497.2V499.5M498.20 497.2V499.3M498.50 497.3V501.6M499.70 497.4V500.0M500.90 497.5V501.6M501.20 497.5V500.3M501.80 497.5V501.6M502.70 497.6V500.8M503.60 497.7V500.5M504.20 497.7V500.6M505.10 497.8V501.5M506.00 497.8V501.6M506.60 497.9V500.2M506.90 497.9V501.6M507.50 498.0V500.5M507.80 498.0V500.9M508.10 498.0V500.7M508.40 498.0V501.6M508.70 498.0V501.6M509.00 498.1V501.6M509.60 498.1V501.5M509.90 498.1V501.6M511.40 498.3V500.9M511.70 498.3V500.3M512.30 498.3V501.6" stroke="#2e3192" stroke-width="0.5" stroke-opacity="0.9" fill="none"/>
<path d="M472.20 443.0V470.0M471.40 452.0V470.0M473.00 449.0V470.0M470.20 457.0V470.0M474.60 455.0V470.0M468.60 460.0V470.0" stroke="#3a3aa6" stroke-width="0.6" stroke-opacity="1.0" fill="none"/>
<path d="M472.20 471.0V488.0" stroke="#ffffff" stroke-width="0.5" stroke-opacity="0.8" fill="none"/>
<line x1="392.20" y1="502.00" x2="392.20" y2="505.90" stroke="#1e1e1e" stroke-width="1.25"/>
<text x="386.0" y="508.8" font-size="8.8" text-anchor="end" textLength="4.45" lengthAdjust="spacingAndGlyphs" fill="#262626" stroke="#262626" stroke-width="0.14">0</text>
<line x1="392.20" y1="402.00" x2="392.20" y2="503.20" stroke="#1e1e1e" stroke-width="1.25"/>
<line x1="392.20" y1="502.70" x2="513.30" y2="502.70" stroke="#1e1e1e" stroke-width="1.25"/>
<line x1="389.20" y1="413.50" x2="392.20" y2="413.50" stroke="#1e1e1e" stroke-width="1.25"/>
<text x="386.0" y="416.6" font-size="8.8" text-anchor="end" textLength="11.13" lengthAdjust="spacingAndGlyphs" fill="#262626" stroke="#262626" stroke-width="0.14">1.2</text>
<line x1="389.20" y1="443.30" x2="392.20" y2="443.30" stroke="#1e1e1e" stroke-width="1.25"/>
<text x="386.0" y="446.40000000000003" font-size="8.8" text-anchor="end" textLength="11.13" lengthAdjust="spacingAndGlyphs" fill="#262626" stroke="#262626" stroke-width="0.14">0.8</text>
<line x1="389.20" y1="475.20" x2="392.20" y2="475.20" stroke="#1e1e1e" stroke-width="1.25"/>
<text x="386.0" y="478.3" font-size="8.8" text-anchor="end" textLength="11.13" lengthAdjust="spacingAndGlyphs" fill="#262626" stroke="#262626" stroke-width="0.14">0.4</text>
<line x1="409.60" y1="502.70" x2="409.60" y2="505.30" stroke="#1e1e1e" stroke-width="1.25"/>
<text x="409.6" y="515.1" font-size="9" text-anchor="middle" textLength="17.6" lengthAdjust="spacingAndGlyphs" fill="#262626" stroke="#262626" stroke-width="0.14">2050</text>
<line x1="438.60" y1="502.70" x2="438.60" y2="505.30" stroke="#1e1e1e" stroke-width="1.25"/>
<text x="438.6" y="515.1" font-size="9" text-anchor="middle" textLength="17.6" lengthAdjust="spacingAndGlyphs" fill="#262626" stroke="#262626" stroke-width="0.14">2100</text>
<line x1="467.50" y1="502.70" x2="467.50" y2="505.30" stroke="#1e1e1e" stroke-width="1.25"/>
<text x="467.5" y="515.1" font-size="9" text-anchor="middle" textLength="17.6" lengthAdjust="spacingAndGlyphs" fill="#262626" stroke="#262626" stroke-width="0.14">2150</text>
<line x1="496.30" y1="502.70" x2="496.30" y2="505.30" stroke="#1e1e1e" stroke-width="1.25"/>
<text x="496.3" y="515.1" font-size="9" text-anchor="middle" textLength="17.6" lengthAdjust="spacingAndGlyphs" fill="#262626" stroke="#262626" stroke-width="0.14">2200</text>
<text x="452.7" y="528.0" font-size="9.6" text-anchor="middle" textLength="41.6" lengthAdjust="spacingAndGlyphs" fill="#262626" stroke="#262626" stroke-width="0.14">Mass/charge</text>
<text transform="translate(369.7,452.2) rotate(-90)" font-size="9.4" text-anchor="middle" textLength="64.5" lengthAdjust="spacingAndGlyphs" fill="#262626" stroke="#262626" stroke-width="0.14">Relative abundance</text>
<path d="M397.20 457.00V454.20H445.60V457.00M421.50 454.20V451.70" fill="none" stroke="#2a2a2a" stroke-width="1.1"/>
<text x="421.1" y="447.6" font-size="8.2" text-anchor="middle" textLength="40.8" lengthAdjust="spacingAndGlyphs" fill="#262626" stroke="#262626" stroke-width="0.14">IgG lambda</text>
<path d="M447.30 430.60V427.80H511.70V430.60M479.70 427.80V425.30" fill="none" stroke="#2a2a2a" stroke-width="1.1"/>
<text x="479.6" y="421.6" font-size="8.2" text-anchor="middle" textLength="36.8" lengthAdjust="spacingAndGlyphs" fill="#262626" stroke="#262626" stroke-width="0.14">IgG kappa</text>
<rect x="0.5" y="0.5" width="519" height="534" fill="none" stroke="#000" stroke-width="1.2"/>
</svg></body></html>
